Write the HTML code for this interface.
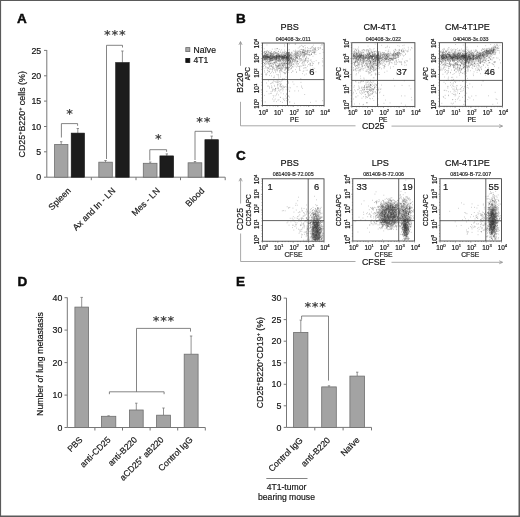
<!DOCTYPE html>
<html lang="en"><head><meta charset="utf-8"><title>Figure</title>
<style>
html,body{margin:0;padding:0;background:#fff;}
body{width:520px;height:517px;overflow:hidden;}
svg{display:block;font-family:"Liberation Sans", Arial, Helvetica, sans-serif;}
.t{fill:#141414;stroke:#141414;stroke-width:.18;}
.ax{stroke:#777;stroke-width:1;fill:none;}
.br{stroke:#666;stroke-width:.8;fill:none;}
.eb{stroke:#777;stroke-width:.8;fill:none;}
.g{fill:#a3a3a3;stroke:#6e6e6e;stroke-width:.8;}
.k{fill:#1c1c1c;stroke:#111;stroke-width:.6;}
.bx{stroke:#3a3a3a;stroke-width:.85;fill:none;}
.ql{stroke:#3a3a3a;stroke-width:.8;fill:none;}
.ar{stroke:#8c8c8c;stroke-width:.75;fill:none;}
.pl{font-weight:bold;font-size:13.5px;fill:#0a0a0a;stroke:#0a0a0a;stroke-width:.45;}
.st{fill:#444;letter-spacing:.76px;font-family:"DejaVu Sans","Liberation Sans",sans-serif;font-weight:bold;}
</style></head><body>
<svg width="520" height="517" viewBox="0 0 520 517">
<rect x="0" y="0" width="520" height="517" fill="#fff"/>
<defs><filter id="bl" x="-50%" y="-50%" width="200%" height="200%"><feGaussianBlur stdDeviation="1.3"/></filter></defs>

<text x="17.0" y="23.2" font-size="8.5" text-anchor="start" class="pl">A</text>
<path class="ax" d="M46.8 50V177.2H225.2"/>
<path class="ax" d="M44.0 177.2L46.8 177.2"/>
<text x="41.2" y="180.3" font-size="8.8" text-anchor="end" class="t">0</text>
<path class="ax" d="M44.0 151.8L46.8 151.8"/>
<text x="41.2" y="154.9" font-size="8.8" text-anchor="end" class="t">5</text>
<path class="ax" d="M44.0 126.5L46.8 126.5"/>
<text x="41.2" y="129.6" font-size="8.8" text-anchor="end" class="t">10</text>
<path class="ax" d="M44.0 101.1L46.8 101.1"/>
<text x="41.2" y="104.2" font-size="8.8" text-anchor="end" class="t">15</text>
<path class="ax" d="M44.0 75.8L46.8 75.8"/>
<text x="41.2" y="78.9" font-size="8.8" text-anchor="end" class="t">20</text>
<path class="ax" d="M44.0 50.4L46.8 50.4"/>
<text x="41.2" y="53.5" font-size="8.8" text-anchor="end" class="t">25</text>
<path class="ax" d="M91.3 177.2L91.3 180.2"/>
<path class="ax" d="M136.0 177.2L136.0 180.2"/>
<path class="ax" d="M180.5 177.2L180.5 180.2"/>
<path class="ax" d="M225.2 177.2L225.2 180.2"/>
<path class="eb" d="M61.2 144.5V141.7M60.0 141.7h2.4"/>
<rect class="g" x="54.6" y="144.5" width="13.3" height="32.7"/>
<path class="eb" d="M77.8 133.1V128.5M76.6 128.5h2.4"/>
<rect class="k" x="71.2" y="133.1" width="13.3" height="44.1"/>
<path class="eb" d="M105.5 162.2V160.5M104.3 160.5h2.4"/>
<rect class="g" x="98.8" y="162.2" width="13.5" height="15.0"/>
<path class="eb" d="M122.4 62.6V51.0M121.2 51.0h2.4"/>
<rect class="k" x="115.7" y="62.6" width="13.5" height="114.6"/>
<path class="eb" d="M150.2 163.3V162.0M149.0 162.0h2.4"/>
<rect class="g" x="143.3" y="163.3" width="13.7" height="13.9"/>
<path class="eb" d="M166.8 155.9V153.9M165.6 153.9h2.4"/>
<rect class="k" x="159.9" y="155.9" width="13.7" height="21.3"/>
<path class="eb" d="M194.9 162.8V161.5M193.8 161.5h2.4"/>
<rect class="g" x="188.1" y="162.8" width="13.7" height="14.4"/>
<path class="eb" d="M211.7 139.7V136.1M210.5 136.1h2.4"/>
<rect class="k" x="204.9" y="139.7" width="13.5" height="37.5"/>
<path class="br" d="M61.4 137.5V123.6H77.6V125.8"/>
<path class="br" d="M106.5 159.0V45.3H122.5V47.5"/>
<path class="br" d="M149.8 160.5V149.7H166.6V151.8"/>
<path class="br" d="M195.0 160.0V131.3H211.9V133.5"/>
<text x="70.1" y="117.6" font-size="12.8" text-anchor="middle" class="st">*</text>
<text x="115.2" y="38.8" font-size="12.8" text-anchor="middle" class="st">***</text>
<text x="158.7" y="143.4" font-size="12.8" text-anchor="middle" class="st">*</text>
<text x="203.8" y="125.8" font-size="12.8" text-anchor="middle" class="st">**</text>
<rect x="185.8" y="47.6" width="4" height="4" fill="#a8a8a8" stroke="#6a6a6a" stroke-width=".8"/>
<rect x="185.8" y="58.5" width="4" height="4" fill="#111" stroke="#111" stroke-width=".8"/>
<text x="193.5" y="52.6" font-size="8.6" text-anchor="start" class="t">Naïve</text>
<text x="193.5" y="63.4" font-size="8.6" text-anchor="start" class="t">4T1</text>
<text transform="translate(25.3 157.5) rotate(-90)" font-size="8.9" text-anchor="start" class="t">CD25<tspan dy="-3" font-size="5.5">+</tspan><tspan dy="3">B220</tspan><tspan dy="-3" font-size="5.5">+</tspan><tspan dy="3"> cells (%)</tspan></text>
<text transform="translate(71.5 191.3) rotate(-45)" font-size="8.8" text-anchor="end" class="t">Spleen</text>
<text transform="translate(116.0 191.3) rotate(-45)" font-size="8.8" text-anchor="end" class="t">Ax and In - LN</text>
<text transform="translate(160.5 191.3) rotate(-45)" font-size="8.8" text-anchor="end" class="t">Mes - LN</text>
<text transform="translate(205.0 191.3) rotate(-45)" font-size="8.8" text-anchor="end" class="t">Blood</text>
<text x="17.5" y="285.7" font-size="8.5" text-anchor="start" class="pl">D</text>
<path class="ax" d="M67.3 297.5V427.5H205.3"/>
<path class="ax" d="M64.5 427.5L67.3 427.5"/>
<text x="62.3" y="430.6" font-size="8.8" text-anchor="end" class="t">0</text>
<path class="ax" d="M64.5 395.1L67.3 395.1"/>
<text x="62.3" y="398.2" font-size="8.8" text-anchor="end" class="t">10</text>
<path class="ax" d="M64.5 362.6L67.3 362.6"/>
<text x="62.3" y="365.7" font-size="8.8" text-anchor="end" class="t">20</text>
<path class="ax" d="M64.5 330.1L67.3 330.1"/>
<text x="62.3" y="333.2" font-size="8.8" text-anchor="end" class="t">30</text>
<path class="ax" d="M64.5 297.7L67.3 297.7"/>
<text x="62.3" y="300.8" font-size="8.8" text-anchor="end" class="t">40</text>
<path class="ax" d="M94.9 427.5L94.9 430.5"/>
<path class="ax" d="M122.5 427.5L122.5 430.5"/>
<path class="ax" d="M150.1 427.5L150.1 430.5"/>
<path class="ax" d="M177.7 427.5L177.7 430.5"/>
<path class="ax" d="M205.3 427.5L205.3 430.5"/>
<path class="eb" d="M81.7 307.1V297.4M80.5 297.4h2.4"/>
<rect class="g" x="74.9" y="307.1" width="13.6" height="120.4"/>
<path class="eb" d="M108.6 416.3V415.8M107.4 415.8h2.4"/>
<rect class="g" x="101.4" y="416.3" width="14.4" height="11.2"/>
<path class="eb" d="M136.3 410.0V403.2M135.1 403.2h2.4"/>
<rect class="g" x="129.4" y="410.0" width="13.8" height="17.5"/>
<path class="eb" d="M163.5 415.2V408.0M162.3 408.0h2.4"/>
<rect class="g" x="156.6" y="415.2" width="13.8" height="12.3"/>
<path class="eb" d="M191.1 354.2V336.0M189.9 336.0h2.4"/>
<rect class="g" x="184.2" y="354.2" width="13.9" height="73.3"/>
<path class="br" d="M109.4 394.2V391.8H164.1V394.2M136.5 391.8V328.4H190.5V331.6"/>
<text x="163.9" y="324.7" font-size="12.8" text-anchor="middle" class="st">***</text>
<text transform="translate(43.2 415.9) rotate(-90)" font-size="8.72" text-anchor="start" class="t">Number of lung metastasis</text>
<text transform="translate(83.2 440.3) rotate(-45)" font-size="8.7" text-anchor="end" class="t">PBS</text>
<text transform="translate(111.2 440.3) rotate(-45)" font-size="8.7" text-anchor="end" class="t">anti-CD25</text>
<text transform="translate(137.7 440.3) rotate(-45)" font-size="8.7" text-anchor="end" class="t">anti-B220</text>
<text transform="translate(164.2 440.3) rotate(-45)" font-size="8.7" text-anchor="end" class="t">aCD25<tspan dy="-3" font-size="5.5">+</tspan><tspan dy="3"> aB220</tspan></text>
<text transform="translate(193.2 440.3) rotate(-45)" font-size="8.7" text-anchor="end" class="t">Control IgG</text>
<text x="236.0" y="285.7" font-size="8.5" text-anchor="start" class="pl">E</text>
<path class="ax" d="M286.5 298V427.4H371.5"/>
<path class="ax" d="M283.7 427.4L286.5 427.4"/>
<text x="281.4" y="430.5" font-size="8.9" text-anchor="end" class="t">0</text>
<path class="ax" d="M283.7 405.8L286.5 405.8"/>
<text x="281.4" y="408.9" font-size="8.9" text-anchor="end" class="t">5</text>
<path class="ax" d="M283.7 384.3L286.5 384.3"/>
<text x="281.4" y="387.4" font-size="8.9" text-anchor="end" class="t">10</text>
<path class="ax" d="M283.7 362.8L286.5 362.8"/>
<text x="281.4" y="365.9" font-size="8.9" text-anchor="end" class="t">15</text>
<path class="ax" d="M283.7 341.2L286.5 341.2"/>
<text x="281.4" y="344.3" font-size="8.9" text-anchor="end" class="t">20</text>
<path class="ax" d="M283.7 319.6L286.5 319.6"/>
<text x="281.4" y="322.8" font-size="8.9" text-anchor="end" class="t">25</text>
<path class="ax" d="M283.7 298.1L286.5 298.1"/>
<text x="281.4" y="301.2" font-size="8.9" text-anchor="end" class="t">30</text>
<path class="ax" d="M314.8 427.4L314.8 430.4"/>
<path class="ax" d="M343.1 427.4L343.1 430.4"/>
<path class="ax" d="M371.5 427.4L371.5 430.4"/>
<path class="eb" d="M300.8 332.4V320.1M299.6 320.1h2.4"/>
<rect class="g" x="293.6" y="332.4" width="14.3" height="95.0"/>
<path class="eb" d="M329.0 386.9V385.8M327.8 385.8h2.4"/>
<rect class="g" x="321.7" y="386.9" width="14.6" height="40.5"/>
<path class="eb" d="M357.2 376.1V372.2M356.0 372.2h2.4"/>
<rect class="g" x="349.9" y="376.1" width="14.6" height="51.3"/>
<path class="br" d="M301.6 319.5V316H328.5V380.6"/>
<text x="315.6" y="310.5" font-size="12.8" text-anchor="middle" class="st">***</text>
<text transform="translate(262.6 408.3) rotate(-90)" font-size="8.8" text-anchor="start" class="t">CD25<tspan dy="-3" font-size="5.5">+</tspan><tspan dy="3">B220</tspan><tspan dy="-3" font-size="5.5">+</tspan><tspan dy="3">CD19</tspan><tspan dy="-3" font-size="5.5">+</tspan><tspan dy="3"> (%)</tspan></text>
<text transform="translate(303.3 440.9) rotate(-45)" font-size="8.7" text-anchor="end" class="t">Control IgG</text>
<text transform="translate(330.8 440.9) rotate(-45)" font-size="8.7" text-anchor="end" class="t">anti-B220</text>
<text transform="translate(360.2 440.6) rotate(-45)" font-size="8.7" text-anchor="end" class="t">Naïve</text>
<path class="br" d="M266.3 478.5L307.5 478.5"/>
<text x="286.5" y="489.8" font-size="8.6" text-anchor="middle" class="t">4T1-tumor</text>
<text x="286.5" y="500.2" font-size="8.6" text-anchor="middle" class="t">bearing mouse</text>
<text x="236.0" y="23.2" font-size="8.5" text-anchor="start" class="pl">B</text>
<path d="M278.7 55.6h.7M285.7 58.3h.7M282.6 57.1h.7M268.3 57.6h.7M270.2 58.5h.7M285.1 55.2h.7M283.8 57.5h.7M283.1 57.8h.7M274.6 56.8h.7M270.3 58.5h.7M269.6 57.6h.7M269.0 55.8h.7M274.0 56.2h.7M275.5 58.3h.7M276.8 57.9h.7M288.3 55.0h.7M283.0 58.9h.7M278.6 58.0h.7M288.1 58.9h.7M268.0 56.8h.7M266.6 56.9h.7M278.3 55.9h.7M263.5 60.3h.7M263.3 57.1h.7M275.8 59.2h.7M274.5 56.5h.7M286.2 57.5h.7M278.8 55.3h.7M275.8 56.8h.7M275.3 58.5h.7M268.8 55.8h.7M267.4 57.7h.7M280.4 56.0h.7M267.6 56.7h.7M272.0 56.7h.7M284.0 56.7h.7M266.4 56.3h.7M269.4 56.9h.7M285.3 56.1h.7M275.7 55.8h.7M284.4 57.2h.7M279.0 58.4h.7M281.7 55.5h.7M264.8 57.3h.7M276.5 56.5h.7M275.6 56.1h.7M285.1 58.3h.7M271.8 56.7h.7M278.0 59.1h.7M263.9 56.4h.7M272.5 57.8h.7M270.8 57.0h.7M266.3 56.4h.7M283.6 58.0h.7M272.3 57.1h.7M287.8 58.0h.7M277.7 57.2h.7M278.1 56.0h.7M279.0 57.2h.7M280.0 57.4h.7M266.3 58.5h.7M273.8 56.2h.7M268.6 57.3h.7M272.9 55.2h.7M264.9 58.1h.7M287.6 56.0h.7M268.0 55.1h.7M279.9 57.2h.7M270.2 58.6h.7M285.1 55.5h.7M279.6 56.0h.7M265.8 56.4h.7M284.4 55.9h.7M287.0 57.8h.7M285.9 56.3h.7M277.2 56.4h.7M266.2 58.0h.7M267.4 56.4h.7M286.5 57.8h.7M276.8 56.1h.7M267.1 55.8h.7M285.4 55.1h.7M279.1 59.5h.7M277.2 56.9h.7M272.2 57.6h.7M273.1 57.3h.7M268.6 57.5h.7M263.4 57.4h.7M285.2 59.6h.7M274.6 56.1h.7M276.6 55.4h.7M270.8 56.1h.7M281.9 55.7h.7M263.1 58.2h.7M272.1 58.3h.7M263.2 56.1h.7M265.6 55.6h.7M287.5 56.9h.7M279.5 59.0h.7M273.5 53.9h.7M276.0 57.9h.7M285.1 56.0h.7M271.3 58.5h.7M277.7 56.0h.7M280.2 57.0h.7M271.6 55.5h.7M275.9 56.1h.7M282.3 59.0h.7M286.0 58.3h.7M266.3 56.8h.7M286.7 56.3h.7M282.0 56.8h.7M283.5 57.3h.7M266.0 57.2h.7M273.3 57.2h.7M283.6 56.0h.7M278.7 57.3h.7M283.0 58.8h.7M275.7 59.5h.7M281.3 57.1h.7M268.3 56.4h.7M267.6 57.2h.7M271.8 56.6h.7M267.1 56.4h.7M271.4 57.2h.7M287.1 56.0h.7M277.3 58.0h.7M271.2 57.2h.7M269.5 57.6h.7M287.2 57.1h.7M274.0 56.4h.7M287.9 56.2h.7M275.8 57.0h.7M276.0 56.6h.7M285.7 57.6h.7M281.7 57.3h.7M277.5 55.7h.7M273.5 57.4h.7M285.2 55.7h.7M273.1 56.6h.7M286.4 56.9h.7M264.2 54.8h.7M273.6 57.4h.7M275.9 57.5h.7M287.1 57.1h.7M268.9 56.8h.7M283.4 56.9h.7M280.0 56.1h.7M281.0 57.0h.7M278.8 56.6h.7M287.7 57.4h.7M271.0 55.9h.7M272.8 57.6h.7M267.7 57.5h.7M263.7 57.1h.7M267.9 56.8h.7M286.2 58.0h.7M284.2 55.3h.7M265.3 57.9h.7M278.1 57.6h.7M274.9 57.6h.7M277.9 57.8h.7M279.5 56.5h.7M270.4 57.0h.7M287.4 58.1h.7M274.5 57.8h.7M278.7 57.5h.7M278.9 55.5h.7M267.2 57.9h.7M264.0 58.7h.7M273.1 58.5h.7M282.3 57.6h.7M283.6 55.4h.7M281.4 58.4h.7M265.3 57.1h.7M286.1 54.3h.7M283.3 57.8h.7M285.2 55.5h.7M276.0 55.7h.7M286.2 56.5h.7M263.6 58.8h.7M263.2 56.9h.7M269.0 59.4h.7M268.9 59.2h.7M267.3 57.2h.7M277.1 57.0h.7M263.4 55.8h.7M277.8 56.5h.7M266.7 57.8h.7M280.0 57.8h.7M270.5 58.5h.7M286.8 56.4h.7M276.4 57.2h.7M283.5 58.2h.7M279.5 58.0h.7M278.3 58.6h.7M267.4 57.8h.7M277.3 56.9h.7M263.4 57.7h.7M283.2 56.1h.7M287.4 55.3h.7M284.6 58.0h.7M263.7 57.2h.7M271.2 57.7h.7M270.7 55.3h.7M265.3 56.9h.7M278.7 56.6h.7M283.1 56.3h.7M270.6 54.6h.7M284.8 56.9h.7M283.1 58.4h.7M265.8 57.8h.7M282.3 56.6h.7M285.3 57.3h.7M267.5 58.2h.7M277.3 54.0h.7M279.0 57.2h.7M278.2 58.0h.7M264.9 58.1h.7M279.6 59.3h.7M278.8 58.7h.7M283.8 57.7h.7M283.3 57.7h.7M270.9 58.2h.7M281.2 56.7h.7M284.9 57.3h.7M285.6 58.4h.7M266.6 59.6h.7M263.1 57.1h.7M279.3 57.2h.7M268.0 57.5h.7M277.1 58.9h.7M287.0 57.3h.7M272.3 59.1h.7M269.0 56.1h.7M274.3 57.1h.7M279.5 57.1h.7M265.0 58.2h.7M272.3 58.6h.7M265.9 55.5h.7M279.6 56.2h.7M284.0 57.7h.7M272.2 56.5h.7M272.1 55.5h.7M276.4 58.5h.7M268.0 57.9h.7M268.8 57.9h.7M271.0 56.7h.7M274.3 58.5h.7M264.5 57.0h.7M282.0 58.6h.7M277.5 56.2h.7M270.2 56.3h.7M264.4 57.5h.7M282.2 56.5h.7M265.8 58.1h.7M265.9 57.6h.7M265.8 56.2h.7M264.5 57.4h.7M286.0 56.9h.7M269.4 58.4h.7M270.4 56.5h.7M284.1 56.8h.7M278.5 58.8h.7M267.3 60.0h.7M273.7 59.7h.7M285.4 57.4h.7M272.2 57.6h.7M280.9 59.1h.7M264.9 57.2h.7M281.3 56.1h.7M282.6 57.4h.7M283.9 57.8h.7M279.9 56.3h.7M272.0 55.3h.7M264.1 55.6h.7M275.9 58.1h.7M282.1 56.4h.7M267.4 57.1h.7M269.3 57.6h.7M276.3 58.0h.7M281.9 56.9h.7M285.7 57.9h.7M265.7 56.2h.7M267.2 56.9h.7M283.2 56.1h.7M279.2 58.7h.7M281.1 57.3h.7M288.3 56.4h.7M286.8 56.9h.7M284.3 57.0h.7M282.6 58.1h.7M272.7 55.4h.7M279.1 56.1h.7M267.2 56.8h.7M282.1 60.3h.7M282.1 58.4h.7M281.2 57.2h.7M274.0 58.2h.7M272.2 59.8h.7M273.3 57.0h.7M263.3 56.9h.7M284.4 58.8h.7M276.5 57.9h.7M272.5 58.1h.7M276.6 56.7h.7M281.2 59.6h.7M272.3 59.4h.7M284.0 58.0h.7M286.3 58.1h.7M272.5 54.9h.7M266.0 58.1h.7M282.2 57.1h.7M288.2 57.8h.7M266.2 58.1h.7M280.9 56.9h.7M283.9 55.3h.7M286.3 57.7h.7M265.6 56.4h.7M264.8 56.9h.7M288.1 56.6h.7M265.4 56.9h.7M267.0 54.5h.7M277.3 58.8h.7M274.0 57.6h.7M281.9 58.6h.7M267.4 59.7h.7M286.2 57.3h.7M268.0 55.1h.7M282.4 56.2h.7M264.2 55.9h.7M274.7 56.7h.7M263.2 57.4h.7M270.6 54.9h.7M270.5 57.7h.7M281.1 55.5h.7M274.2 57.7h.7M263.9 57.2h.7M288.3 56.9h.7M285.5 57.2h.7M286.2 56.7h.7M268.8 56.6h.7M272.6 55.3h.7M268.3 57.3h.7M265.6 59.5h.7M263.3 59.7h.7M275.5 58.9h.7M265.6 58.1h.7M267.0 56.5h.7M284.8 59.0h.7M275.0 57.2h.7M267.2 57.2h.7M279.8 57.0h.7M269.3 57.4h.7M276.1 56.8h.7M269.8 57.2h.7M275.8 56.0h.7M278.7 56.9h.7M276.3 60.0h.7M272.7 57.2h.7M283.0 57.0h.7M285.1 57.9h.7M267.1 58.1h.7M265.9 56.0h.7M265.3 57.1h.7M287.9 58.4h.7M286.9 57.6h.7M268.4 57.4h.7M287.6 59.2h.7M267.8 56.5h.7M275.6 57.4h.7M275.3 56.7h.7M286.2 59.1h.7M263.5 55.0h.7M270.6 56.5h.7M278.0 56.7h.7M264.1 58.1h.7M268.6 58.0h.7M274.5 59.0h.7M285.3 55.4h.7M282.2 58.2h.7M284.0 56.9h.7M282.2 56.5h.7M280.8 57.9h.7M284.5 56.2h.7M280.1 54.8h.7M281.5 56.9h.7M270.2 55.5h.7M266.8 56.5h.7M282.1 57.7h.7M266.7 57.7h.7M286.3 59.2h.7M277.9 57.1h.7M274.6 57.1h.7M287.9 55.3h.7M287.9 57.6h.7M272.5 60.7h.7M287.8 55.9h.7M273.4 52.0h.7M272.5 53.7h.7M282.8 52.1h.7M275.1 52.8h.7M274.5 59.5h.7M272.8 56.6h.7M274.1 51.9h.7M266.2 57.8h.7M264.0 59.4h.7M282.8 55.0h.7M277.6 54.2h.7M280.5 55.1h.7M284.1 56.8h.7M268.6 57.7h.7M268.7 59.2h.7M269.9 59.3h.7M270.6 59.2h.7M282.9 59.7h.7M272.5 57.8h.7M271.1 51.9h.7M279.6 55.6h.7M267.4 56.8h.7M265.3 55.0h.7M281.2 58.5h.7M282.8 55.0h.7M270.4 53.5h.7M279.6 59.9h.7M263.3 57.8h.7M273.3 56.6h.7M278.0 58.5h.7M269.2 58.9h.7M271.8 56.9h.7M278.9 49.4h.7M278.3 54.2h.7M266.6 54.8h.7M281.5 53.3h.7M264.6 56.5h.7M288.6 59.2h.7M267.9 54.7h.7M269.2 52.9h.7M267.8 61.5h.7M289.2 54.8h.7M270.1 52.7h.7M278.7 56.6h.7M289.1 57.1h.7M288.1 54.1h.7M263.5 58.1h.7M276.5 54.7h.7M278.6 53.5h.7M281.4 56.5h.7M271.5 58.1h.7M271.3 54.3h.7M263.4 55.7h.7M277.3 63.6h.7M264.4 54.1h.7M267.9 59.7h.7M271.4 55.9h.7M264.3 55.7h.7M263.2 57.9h.7M287.4 58.4h.7M274.2 59.4h.7M267.9 56.9h.7M281.5 54.4h.7M269.0 57.4h.7M288.3 57.6h.7M286.6 59.8h.7M279.6 57.1h.7M264.9 58.9h.7M271.0 60.1h.7M263.2 56.4h.7M268.3 52.0h.7M263.1 52.8h.7M265.8 52.1h.7M279.5 60.3h.7M265.1 53.7h.7M266.6 59.3h.7M286.8 57.6h.7M271.5 60.6h.7M271.4 58.7h.7M264.7 55.7h.7M283.9 55.5h.7M280.7 56.2h.7M277.2 56.5h.7M279.1 54.6h.7M265.1 55.9h.7M269.4 60.3h.7M278.2 51.4h.7M288.1 56.7h.7M284.5 53.6h.7M279.7 56.5h.7M276.4 58.3h.7M286.4 58.1h.7M264.2 51.7h.7M265.9 59.0h.7M281.1 54.4h.7M284.3 57.7h.7M283.6 56.5h.7M274.6 49.0h.7M267.2 54.0h.7M263.4 56.6h.7M285.4 60.2h.7M288.8 56.8h.7M269.0 56.7h.7M285.8 52.2h.7M273.3 59.9h.7M270.8 60.9h.7M276.0 56.1h.7M274.4 51.6h.7M267.8 58.4h.7M281.6 63.3h.7M276.0 57.9h.7M285.9 59.4h.7M286.6 57.5h.7M271.0 53.3h.7M270.0 59.6h.7M287.8 52.7h.7M276.0 55.4h.7M265.0 56.8h.7M263.6 58.4h.7M289.1 57.1h.7M278.0 57.0h.7M263.9 53.9h.7M276.2 52.5h.7M276.0 56.2h.7M274.2 54.1h.7M288.1 52.5h.7M288.0 52.6h.7M265.8 54.7h.7M266.5 51.0h.7M273.4 52.4h.7M284.9 51.6h.7M279.2 56.5h.7M282.1 57.1h.7M278.0 61.4h.7M268.1 52.0h.7M284.5 54.2h.7M281.3 55.4h.7M267.6 55.1h.7M275.1 60.6h.7M288.7 55.1h.7M277.0 52.9h.7M263.9 52.4h.7M274.0 56.9h.7M280.2 56.8h.7M263.9 52.3h.7M269.2 53.3h.7M277.0 57.6h.7M272.7 54.3h.7M276.0 57.7h.7M270.4 57.5h.7M280.1 51.2h.7M267.1 55.2h.7M286.9 57.1h.7M288.3 54.5h.7M275.7 50.2h.7M275.0 55.2h.7M285.6 58.0h.7M270.2 60.3h.7M284.1 50.1h.7M270.2 63.1h.7M281.8 53.0h.7M271.4 58.6h.7M278.7 59.3h.7M287.4 58.7h.7M263.9 56.4h.7M284.2 52.9h.7M277.0 57.7h.7M272.6 54.1h.7M271.9 49.2h.7M264.3 63.6h.7M269.4 57.9h.7M279.2 60.9h.7M265.0 53.5h.7M280.5 60.0h.7M288.4 60.3h.7M288.9 60.2h.7M286.4 55.9h.7M284.2 52.8h.7M267.2 55.5h.7M288.6 50.1h.7M267.9 51.4h.7M285.9 56.2h.7M286.1 53.3h.7M279.2 55.6h.7M276.5 55.7h.7M267.8 61.2h.7M276.4 59.5h.7M270.2 55.9h.7M265.8 59.3h.7M265.9 53.9h.7M284.0 55.1h.7M287.3 58.5h.7M266.2 52.6h.7M269.5 52.4h.7M266.0 56.3h.7M267.5 60.4h.7M278.1 54.0h.7M273.8 56.6h.7M274.0 53.6h.7M268.0 52.9h.7M280.3 52.7h.7M270.2 59.9h.7M273.2 62.4h.7M274.9 57.3h.7M286.8 54.1h.7M269.1 57.9h.7M281.8 55.1h.7M270.8 58.2h.7M286.5 56.8h.7M273.0 56.8h.7M276.0 57.6h.7M286.1 54.4h.7M280.6 54.9h.7M264.9 51.4h.7M266.1 54.8h.7M289.1 52.2h.7M263.2 55.6h.7M270.5 53.4h.7M288.3 56.3h.7M266.8 52.2h.7M268.2 53.8h.7M264.7 53.5h.7M275.1 58.0h.7M278.4 60.6h.7M271.0 58.3h.7M265.3 55.1h.7M284.3 60.0h.7M284.1 51.9h.7M277.6 60.0h.7M266.1 54.2h.7M277.0 48.5h.7M279.4 63.2h.7M274.0 60.3h.7M285.7 53.2h.7M272.9 56.5h.7M276.2 55.4h.7M265.5 56.3h.7M277.6 52.0h.7M283.1 54.2h.7M282.1 57.3h.7M269.3 56.6h.7M289.2 59.2h.7M281.8 56.2h.7M273.8 62.3h.7M273.6 54.1h.7M283.4 56.7h.7M267.1 50.8h.7M279.7 52.6h.7M281.8 59.6h.7M276.3 53.5h.7M286.0 57.4h.7M275.1 55.8h.7M275.0 53.2h.7M270.1 55.1h.7M287.2 54.6h.7M270.9 54.7h.7M281.2 58.0h.7M273.5 57.8h.7M287.7 54.4h.7M288.0 53.6h.7M263.2 56.8h.7M289.3 55.7h.7M278.7 58.8h.7M264.4 63.2h.7M275.8 58.3h.7M263.7 55.9h.7M277.2 55.5h.7M267.4 53.7h.7M272.3 53.6h.7M270.6 53.3h.7M278.7 54.9h.7M284.6 54.8h.7M287.7 58.0h.7M271.3 54.9h.7M277.8 55.5h.7M272.4 60.4h.7M288.3 57.4h.7M265.6 60.8h.7M285.9 58.2h.7M280.0 60.0h.7M270.3 55.3h.7M283.4 57.9h.7M270.2 63.3h.7M286.6 52.7h.7M264.6 59.2h.7M265.6 60.6h.7M282.7 57.1h.7M274.5 58.1h.7M266.4 59.5h.7M276.3 54.2h.7M270.4 57.1h.7M277.2 53.6h.7M282.5 54.1h.7M285.5 54.3h.7M264.0 55.6h.7M278.4 56.4h.7M289.0 57.3h.7M274.8 52.1h.7M283.2 61.5h.7M265.0 59.2h.7M286.0 58.0h.7M278.1 55.0h.7M286.4 55.8h.7M283.7 57.5h.7M285.9 57.1h.7M263.9 51.4h.7M281.7 58.1h.7M267.7 64.1h.7M269.6 50.9h.7M271.2 58.8h.7M278.4 57.0h.7M279.4 55.7h.7M287.5 59.8h.7M267.6 56.5h.7M272.2 60.1h.7M284.5 55.5h.7M277.2 54.8h.7M276.2 56.3h.7M282.9 54.8h.7M280.1 60.3h.7M270.2 53.5h.7M264.8 58.4h.7M274.9 52.5h.7M286.2 57.9h.7M278.5 55.7h.7M263.8 48.8h.7M274.3 56.0h.7M272.8 53.0h.7M278.1 54.8h.7M278.3 60.3h.7M288.1 52.9h.7M271.5 53.1h.7M273.4 60.0h.7M279.0 56.3h.7M286.3 60.3h.7M281.5 56.9h.7M275.1 53.6h.7M284.4 55.8h.7M275.5 59.4h.7M288.4 58.6h.7M270.0 56.0h.7M265.8 56.1h.7M284.8 55.7h.7M270.4 54.4h.7M285.3 61.4h.7M278.9 56.0h.7M276.1 52.9h.7M264.7 54.7h.7M283.6 58.0h.7M264.2 57.8h.7M288.5 55.6h.7M286.1 54.1h.7M270.6 56.1h.7M265.9 51.4h.7M286.3 52.4h.7M275.4 58.2h.7M265.8 54.7h.7M275.9 57.0h.7M269.1 59.4h.7M273.4 57.8h.7M279.7 56.1h.7M287.1 61.9h.7M284.0 57.9h.7M266.7 55.0h.7M275.3 58.0h.7M275.7 57.1h.7M289.1 53.6h.7M264.7 56.2h.7M276.2 55.5h.7M287.1 50.5h.7M273.2 55.5h.7M269.5 55.2h.7M277.4 54.8h.7M271.0 51.4h.7M287.4 55.0h.7M264.7 55.9h.7M268.0 56.3h.7M264.7 52.8h.7M281.6 57.8h.7M270.3 52.6h.7M286.7 55.4h.7M286.5 59.6h.7M287.7 54.1h.7M269.3 54.6h.7M272.9 54.9h.7M288.4 55.2h.7M283.0 56.6h.7M264.0 58.9h.7M281.4 49.9h.7M287.2 53.7h.7M288.5 53.2h.7M281.7 53.0h.7M285.7 53.6h.7M285.1 53.7h.7M272.1 56.8h.7M265.1 53.5h.7M282.0 56.3h.7M266.1 57.1h.7M272.8 54.0h.7M289.3 56.4h.7M277.5 60.5h.7M276.5 56.9h.7M288.0 54.2h.7M270.1 55.8h.7M289.4 53.5h.7M287.0 56.7h.7M272.2 58.4h.7M271.2 53.7h.7M265.8 55.4h.7M287.1 59.1h.7M267.4 54.6h.7M286.4 53.2h.7M278.5 53.7h.7M274.1 70.2h.7M272.9 58.5h.7M267.1 67.9h.7M280.9 67.4h.7M284.3 65.2h.7M283.7 63.4h.7M281.3 58.8h.7M268.8 64.4h.7M276.8 60.8h.7M282.1 58.6h.7M273.2 64.5h.7M275.0 71.4h.7M285.9 63.2h.7M263.1 66.6h.7M269.9 58.3h.7M270.5 63.7h.7M290.2 61.9h.7M268.8 72.0h.7M263.7 68.6h.7M274.1 62.3h.7M280.6 59.0h.7M266.7 67.9h.7M285.9 60.2h.7M267.9 59.4h.7M282.1 78.6h.7M266.9 59.0h.7M287.1 74.0h.7M268.0 63.3h.7M282.9 59.1h.7M285.9 67.7h.7M269.5 64.8h.7M265.0 61.0h.7M278.8 60.9h.7M276.4 59.5h.7M275.8 65.0h.7M284.3 64.2h.7M275.4 62.3h.7M276.3 62.0h.7M276.0 68.6h.7M275.1 64.2h.7M273.8 63.2h.7M266.9 70.4h.7M270.7 58.8h.7M269.8 63.7h.7M269.3 61.1h.7M284.3 60.1h.7M265.6 66.7h.7M268.2 68.1h.7M277.1 66.6h.7M271.2 60.1h.7M269.1 71.5h.7M272.9 66.1h.7M276.5 65.6h.7M281.3 71.1h.7M289.6 60.5h.7M286.3 67.7h.7M274.4 62.9h.7M275.0 59.7h.7M274.0 58.3h.7M269.1 61.5h.7M289.0 69.8h.7M264.3 65.4h.7M268.1 68.2h.7M280.9 66.9h.7M278.9 68.5h.7M270.2 60.9h.7M288.6 63.2h.7M273.9 76.1h.7M279.1 64.4h.7M264.9 59.5h.7M287.3 61.9h.7M265.3 74.2h.7M273.4 59.3h.7M287.2 64.0h.7M288.9 59.1h.7M287.7 66.1h.7M285.6 64.0h.7M268.9 61.2h.7M263.3 62.5h.7M275.1 61.7h.7M264.2 70.8h.7M289.3 64.7h.7M271.5 62.3h.7M268.1 61.9h.7M276.4 58.4h.7M264.5 72.2h.7M287.6 65.4h.7M281.7 60.2h.7M272.8 68.6h.7M286.0 60.9h.7M284.7 62.2h.7M271.5 69.2h.7M286.1 63.3h.7M288.4 58.3h.7M279.8 61.0h.7M272.2 63.8h.7M287.6 67.2h.7M288.8 58.8h.7M272.1 71.3h.7M264.8 59.1h.7M286.7 58.5h.7M281.0 63.2h.7M268.9 65.9h.7M278.3 68.7h.7M271.0 72.3h.7M288.1 68.4h.7M272.0 70.0h.7M267.9 62.8h.7M263.6 61.0h.7M272.0 67.0h.7M290.1 66.1h.7M268.5 71.3h.7M275.2 65.3h.7M289.6 60.5h.7M270.7 60.8h.7M285.4 73.3h.7M265.1 62.6h.7M288.4 62.4h.7M285.8 67.7h.7M266.4 74.0h.7M279.0 63.8h.7M278.0 74.9h.7M281.8 59.2h.7M271.0 59.3h.7M273.2 72.7h.7M269.1 60.8h.7M270.6 58.4h.7M267.3 62.8h.7M287.7 70.2h.7M287.2 58.8h.7M272.5 66.1h.7M281.8 62.2h.7M276.1 60.5h.7M270.3 58.9h.7M272.2 58.5h.7M289.4 65.2h.7M272.0 67.4h.7M278.6 68.7h.7M288.9 67.1h.7M270.7 65.5h.7M285.1 59.0h.7M265.6 64.0h.7M282.9 60.0h.7M285.0 61.8h.7M285.8 63.9h.7M289.7 60.5h.7M282.3 65.7h.7M289.8 62.5h.7M270.2 60.1h.7M277.0 70.1h.7M268.4 64.0h.7M264.7 59.4h.7M274.7 61.4h.7M282.6 67.0h.7M284.2 63.5h.7M288.8 58.6h.7M269.3 69.2h.7M270.6 66.3h.7M285.7 77.0h.7M287.4 62.2h.7M283.0 58.9h.7M271.7 60.2h.7M275.4 60.9h.7M285.8 63.1h.7M272.4 68.0h.7M284.9 65.7h.7M284.3 70.1h.7M275.5 65.3h.7M287.5 60.4h.7M273.2 67.0h.7M283.4 63.6h.7M280.3 65.3h.7M271.7 63.6h.7M277.3 61.8h.7M279.4 58.7h.7M277.4 66.9h.7M265.5 68.0h.7M290.2 61.8h.7M289.5 62.9h.7M263.4 62.5h.7M288.8 61.8h.7M277.3 69.7h.7M265.9 62.0h.7M285.4 64.7h.7M274.5 62.5h.7M282.4 71.7h.7M285.6 72.5h.7M277.5 67.9h.7M263.8 60.3h.7M285.4 60.4h.7M281.8 65.6h.7M287.9 72.3h.7M270.0 61.2h.7M284.4 63.5h.7M286.8 62.0h.7M272.3 69.3h.7M273.9 69.0h.7M271.8 60.3h.7M268.9 63.6h.7M271.7 64.2h.7M265.4 66.8h.7M283.8 62.4h.7M274.4 58.3h.7M278.3 59.6h.7M270.4 68.9h.7M272.5 60.3h.7M283.5 65.0h.7M275.6 59.5h.7M279.1 72.3h.7M274.2 63.0h.7M278.0 60.6h.7M287.5 70.5h.7M269.9 68.9h.7M276.9 71.0h.7M281.6 63.7h.7M264.8 64.0h.7M289.3 58.8h.7M276.4 63.0h.7M269.3 59.0h.7M283.7 68.8h.7M285.2 63.4h.7M280.1 60.9h.7M288.1 64.3h.7M264.9 64.9h.7M277.2 66.0h.7M283.2 66.8h.7M288.1 68.7h.7M280.4 68.9h.7M279.3 61.8h.7M273.3 77.6h.7M278.4 65.8h.7M277.9 65.4h.7M287.7 60.2h.7M285.6 66.6h.7M283.0 60.4h.7M288.3 60.0h.7M264.3 63.5h.7M283.9 72.8h.7M275.4 72.6h.7M283.5 61.2h.7M270.7 60.8h.7M275.5 62.6h.7M285.5 59.4h.7M263.4 64.9h.7M270.6 59.4h.7M276.1 61.4h.7M286.2 63.5h.7M270.0 73.5h.7M285.4 69.4h.7M269.2 75.4h.7M270.9 65.7h.7M277.9 65.9h.7M280.7 68.9h.7M287.0 59.2h.7M287.0 64.4h.7M269.4 62.7h.7M283.3 65.6h.7M280.2 64.3h.7M273.2 59.3h.7M284.1 72.6h.7M287.5 59.5h.7M275.8 59.0h.7M288.1 63.6h.7M266.0 63.7h.7M267.1 72.4h.7M283.8 67.4h.7M271.0 66.2h.7M278.8 64.4h.7M276.3 67.3h.7M266.5 74.1h.7M283.5 60.8h.7M283.2 63.7h.7M266.5 61.5h.7M269.7 66.3h.7M284.8 65.1h.7M287.9 69.2h.7M286.8 68.9h.7M276.5 58.8h.7M272.7 63.1h.7M274.9 63.9h.7M267.3 70.0h.7M276.3 66.2h.7M268.9 67.2h.7M266.9 61.1h.7M273.1 64.1h.7M264.2 59.1h.7M275.6 59.9h.7M281.9 65.7h.7M280.6 70.3h.7M289.7 65.4h.7M287.2 69.2h.7M280.1 73.0h.7M287.5 63.2h.7M274.8 67.2h.7M284.8 62.2h.7M270.4 58.9h.7M277.1 60.4h.7M289.8 66.4h.7M279.2 65.7h.7M276.6 59.0h.7M284.4 60.7h.7M271.1 66.3h.7M285.7 61.2h.7M269.1 66.0h.7M267.4 58.3h.7M269.6 60.6h.7M288.9 59.3h.7M263.1 59.6h.7M270.8 63.3h.7M278.5 61.3h.7M282.1 63.9h.7M284.1 63.1h.7M273.1 67.9h.7M268.6 71.0h.7M286.3 61.2h.7M265.8 61.4h.7M264.2 59.6h.7M268.9 61.7h.7M276.2 62.1h.7M288.8 64.2h.7M282.8 59.6h.7M278.2 67.0h.7M277.0 68.3h.7M285.4 69.1h.7M279.1 65.4h.7M284.7 70.4h.7M278.5 68.0h.7M285.9 65.8h.7M280.5 66.6h.7M278.2 65.2h.7M279.9 70.3h.7M278.3 65.9h.7M282.2 68.2h.7M282.1 65.4h.7M281.5 61.1h.7M279.2 70.6h.7M266.8 62.8h.7M281.8 69.7h.7M273.8 68.7h.7M282.4 60.4h.7M285.9 63.2h.7M282.5 64.9h.7M279.8 63.7h.7M280.7 62.3h.7M280.9 70.0h.7M279.2 66.0h.7M279.1 68.5h.7M277.7 65.3h.7M286.2 68.2h.7M281.3 64.0h.7M285.2 66.9h.7M280.4 69.3h.7M281.7 67.2h.7M280.7 65.2h.7M283.3 62.7h.7M284.7 67.7h.7M282.4 68.4h.7M278.7 66.0h.7M278.3 63.9h.7M288.0 69.2h.7M280.3 76.9h.7M280.2 65.8h.7M287.3 68.3h.7M285.8 68.5h.7M283.5 56.7h.7M279.8 67.5h.7M290.8 64.2h.7M283.0 72.5h.7M283.6 66.0h.7M280.7 63.9h.7M275.7 66.1h.7M276.1 67.7h.7M283.0 64.8h.7M283.0 66.8h.7M280.4 61.6h.7M276.7 66.1h.7M275.6 70.1h.7M280.1 74.9h.7M275.6 69.8h.7M285.0 68.1h.7M286.0 71.7h.7M292.7 71.1h.7M284.9 73.7h.7M279.0 71.3h.7M277.9 66.5h.7M267.6 68.0h.7M279.0 67.7h.7M280.7 68.2h.7M285.3 67.8h.7M283.8 63.9h.7M283.8 58.6h.7M282.3 64.3h.7M284.0 58.9h.7M287.2 67.3h.7M277.1 67.0h.7M279.6 60.3h.7M275.8 69.8h.7M287.9 70.5h.7M286.6 67.4h.7M284.4 73.7h.7M276.6 74.5h.7M282.1 62.2h.7M280.5 71.1h.7M281.7 68.8h.7M280.6 68.7h.7M296.6 53.5h.7M304.3 53.4h.7M312.9 47.8h.7M295.6 52.1h.7M314.6 49.1h.7M297.4 58.2h.7M303.5 53.7h.7M288.2 60.9h.7M291.7 56.3h.7M289.6 56.2h.7M311.3 47.2h.7M303.7 51.6h.7M314.2 54.0h.7M296.7 56.1h.7M312.8 52.5h.7M313.8 52.1h.7M307.9 51.9h.7M297.3 54.5h.7M287.5 57.3h.7M294.8 57.5h.7M295.5 56.8h.7M290.2 58.3h.7M296.8 55.6h.7M307.1 50.1h.7M309.7 50.7h.7M320.7 45.7h.7M292.8 59.0h.7M296.1 54.8h.7M297.4 61.4h.7M295.0 54.7h.7M303.4 50.2h.7M295.7 55.4h.7M310.9 54.5h.7M299.4 54.0h.7M294.1 57.6h.7M315.3 50.0h.7M294.2 54.9h.7M310.6 59.7h.7M298.3 54.9h.7M306.9 50.8h.7M304.9 51.5h.7M308.8 52.7h.7M303.2 54.4h.7M306.1 54.5h.7M291.4 57.1h.7M297.7 51.0h.7M312.4 52.1h.7M303.5 52.4h.7M302.7 52.7h.7M294.7 51.7h.7M291.0 55.3h.7M289.3 55.0h.7M299.7 54.2h.7M304.8 48.9h.7M311.2 51.1h.7M289.9 57.3h.7M302.0 50.6h.7M305.0 51.1h.7M294.4 53.5h.7M289.7 59.5h.7M303.0 46.5h.7M306.7 51.3h.7M295.7 51.0h.7M302.5 52.3h.7M296.8 57.4h.7M296.3 53.6h.7M307.1 52.5h.7M305.1 50.4h.7M289.3 62.2h.7M289.1 59.5h.7M293.2 59.2h.7M311.8 47.2h.7M288.1 54.0h.7M296.8 58.1h.7M300.0 53.7h.7M295.9 54.7h.7M287.5 57.9h.7M295.7 52.1h.7M299.6 56.4h.7M304.1 53.1h.7M288.6 58.3h.7M297.5 53.1h.7M288.4 58.4h.7M315.3 47.9h.7M305.5 55.2h.7M314.3 53.1h.7M307.0 54.6h.7M299.9 55.6h.7M290.7 58.6h.7M288.9 49.7h.7M299.3 56.7h.7M291.9 55.8h.7M293.2 56.5h.7M302.8 52.6h.7M297.5 51.2h.7M288.0 55.5h.7M304.9 54.6h.7M292.5 60.2h.7M297.0 53.4h.7M294.6 53.3h.7M309.6 55.4h.7M300.4 51.7h.7M292.1 62.1h.7M307.1 52.3h.7M290.1 54.6h.7M291.6 59.3h.7M292.0 61.1h.7M298.9 50.7h.7M299.2 58.7h.7M314.2 49.3h.7M290.3 61.0h.7M291.6 55.6h.7M312.3 46.4h.7M313.0 51.8h.7M314.4 52.5h.7M312.6 56.2h.7M315.6 54.4h.7M290.5 58.8h.7M295.4 54.9h.7M294.7 54.3h.7M307.6 51.2h.7M297.3 52.8h.7M312.5 49.8h.7M297.8 48.0h.7M318.0 49.5h.7M304.1 52.9h.7M308.3 58.7h.7M314.4 52.1h.7M290.8 55.6h.7M305.4 54.2h.7M289.6 53.7h.7M301.5 52.1h.7M305.2 47.7h.7M303.4 57.1h.7M300.2 55.7h.7M297.9 51.6h.7M295.5 55.4h.7M303.8 55.7h.7M293.5 57.4h.7M291.1 57.8h.7M289.5 54.7h.7M287.5 55.3h.7M290.2 57.3h.7M313.2 52.9h.7M298.9 52.3h.7M294.9 52.7h.7M296.8 58.2h.7M313.6 47.8h.7M288.1 59.9h.7M309.0 52.3h.7M296.4 57.7h.7M295.3 60.3h.7M312.3 52.5h.7M311.3 53.0h.7M299.5 51.9h.7M300.1 52.3h.7M322.0 49.6h.7M306.0 56.6h.7M294.3 59.6h.7M299.6 60.6h.7M302.4 54.4h.7M309.4 52.0h.7M291.3 59.5h.7M312.7 50.6h.7M289.6 56.8h.7M290.0 54.2h.7M296.1 58.0h.7M310.6 48.3h.7M291.2 58.2h.7M288.2 53.2h.7M311.1 54.0h.7M303.0 50.6h.7M304.2 55.3h.7M287.5 52.7h.7M293.1 55.0h.7M309.7 54.6h.7M290.5 57.2h.7M302.5 52.2h.7M302.9 47.2h.7M297.6 55.7h.7M297.7 56.1h.7M296.5 52.3h.7M291.3 58.3h.7M304.3 50.8h.7M300.3 51.4h.7M302.5 53.5h.7M291.6 54.8h.7M307.6 58.2h.7M291.0 52.6h.7M295.9 57.4h.7M297.3 57.7h.7M293.0 50.9h.7M307.1 47.5h.7M304.2 54.5h.7M301.8 52.4h.7M314.4 51.1h.7M311.0 54.1h.7M309.5 50.5h.7M291.4 53.8h.7M304.6 45.5h.7M298.6 55.2h.7M310.5 48.7h.7M289.5 57.8h.7M295.1 56.3h.7M302.6 49.7h.7M290.1 61.7h.7M303.5 56.1h.7M296.1 57.6h.7M299.5 51.2h.7M301.9 52.6h.7M317.9 47.6h.7M289.3 55.9h.7M295.7 52.4h.7M295.0 56.8h.7M296.8 55.8h.7M306.2 53.4h.7M297.6 53.5h.7M288.9 60.5h.7M297.8 55.4h.7M299.1 47.1h.7M289.4 55.3h.7M300.6 53.9h.7M294.8 58.3h.7M289.6 56.2h.7M320.2 47.7h.7M295.6 53.7h.7M298.5 56.4h.7M317.4 48.0h.7M290.2 55.4h.7M304.7 50.8h.7M306.6 53.8h.7M308.2 50.4h.7M289.4 52.5h.7M303.7 54.8h.7M301.7 51.8h.7M301.3 54.8h.7M316.6 50.4h.7M291.0 60.1h.7M303.9 55.9h.7M314.4 48.5h.7M292.8 55.8h.7M303.2 49.8h.7M289.4 61.5h.7M290.7 58.1h.7M304.1 56.8h.7M318.8 47.9h.7M295.1 50.1h.7M309.5 55.6h.7M310.2 51.5h.7M305.1 53.1h.7M301.1 54.0h.7M296.5 57.0h.7M289.9 58.4h.7M301.4 49.5h.7M308.4 54.7h.7M293.6 54.6h.7M289.0 55.7h.7M322.8 52.3h.7M308.5 54.2h.7M303.1 52.4h.7M287.7 52.0h.7M288.0 57.4h.7M307.2 53.6h.7M298.7 54.4h.7M307.8 48.6h.7M289.1 54.9h.7M291.2 57.4h.7M315.5 51.9h.7M307.7 54.8h.7M315.4 47.8h.7M291.9 57.2h.7M305.5 54.1h.7M295.0 54.3h.7M301.6 53.4h.7M301.2 59.6h.7M289.9 57.6h.7M314.6 52.4h.7M306.3 51.2h.7M318.4 49.0h.7M289.2 52.4h.7M320.3 48.3h.7M287.7 60.2h.7M305.5 58.3h.7M292.0 59.8h.7M290.8 58.7h.7M294.4 56.0h.7M312.8 48.9h.7M312.2 50.2h.7M299.6 56.0h.7M295.5 53.4h.7M288.9 59.5h.7M297.1 52.4h.7M299.8 49.5h.7M309.6 48.7h.7M301.4 49.3h.7M291.6 52.9h.7M309.1 54.6h.7M314.9 49.4h.7M306.0 53.1h.7M299.1 57.6h.7M287.8 60.4h.7M307.6 50.6h.7M311.3 54.5h.7M295.1 56.7h.7M314.7 50.0h.7M296.4 56.5h.7M302.7 49.6h.7M290.1 54.9h.7M296.6 54.9h.7M301.8 55.4h.7M314.9 48.9h.7M294.0 55.6h.7M299.0 57.1h.7M292.0 60.4h.7M303.6 55.2h.7M302.2 57.0h.7M307.0 51.1h.7M304.2 52.2h.7M305.3 53.5h.7M303.5 52.4h.7M297.9 53.5h.7M293.7 60.5h.7M303.9 52.5h.7M290.8 54.3h.7M304.4 54.3h.7M306.2 57.4h.7M291.5 56.9h.7M302.5 56.8h.7M300.3 53.0h.7M289.0 55.7h.7M302.0 51.8h.7M313.1 50.0h.7M319.6 53.5h.7M303.7 50.0h.7M287.8 61.4h.7M297.8 52.1h.7M310.5 50.5h.7M302.6 55.7h.7M296.1 57.1h.7M300.5 54.8h.7M291.6 52.2h.7M314.5 51.0h.7M292.6 53.6h.7M297.0 62.0h.7M305.6 52.0h.7M290.7 65.9h.7M307.2 61.8h.7M295.7 60.8h.7M309.7 63.1h.7M304.4 75.0h.7M291.9 63.0h.7M297.1 61.1h.7M299.2 68.5h.7M296.1 67.0h.7M309.7 65.7h.7M304.2 60.7h.7M318.5 62.6h.7M294.4 62.8h.7M307.1 60.4h.7M295.0 69.6h.7M303.1 68.2h.7M301.5 63.3h.7M302.6 60.8h.7M299.2 62.3h.7M313.1 63.6h.7M310.3 65.2h.7M295.5 60.6h.7M291.1 62.9h.7M301.8 59.7h.7M290.9 68.5h.7M307.2 66.2h.7M312.4 63.7h.7M303.2 59.1h.7M310.3 63.7h.7M302.2 62.1h.7M318.3 63.9h.7M288.4 60.8h.7M291.6 64.6h.7M299.1 59.2h.7M305.8 67.8h.7M287.9 59.4h.7M294.0 61.1h.7M287.7 62.7h.7M299.0 70.2h.7M301.4 60.5h.7M287.8 67.4h.7M304.0 67.9h.7M290.8 64.0h.7M293.8 59.9h.7M293.4 59.2h.7M292.9 58.4h.7M288.4 60.6h.7M312.5 69.1h.7M299.9 70.3h.7M291.6 58.6h.7M299.8 65.9h.7M300.4 61.1h.7M303.2 61.3h.7M321.9 60.9h.7M307.1 62.6h.7M303.4 64.9h.7M305.8 60.9h.7M295.3 58.6h.7M291.2 67.5h.7M308.5 60.3h.7M287.7 63.9h.7M289.1 61.9h.7M296.9 65.6h.7M315.6 71.8h.7M305.8 70.3h.7M289.0 67.3h.7M311.5 61.5h.7M301.1 58.4h.7M297.4 58.8h.7M299.9 58.7h.7M302.8 63.0h.7M293.6 61.4h.7M292.5 66.5h.7M298.7 66.4h.7M296.0 72.0h.7M302.2 73.6h.7M293.0 59.4h.7M308.3 61.4h.7M295.6 63.7h.7M305.8 58.3h.7M290.2 63.9h.7M301.4 66.2h.7M310.3 64.1h.7M296.7 63.2h.7M305.0 59.9h.7M311.6 65.5h.7M288.3 67.3h.7M305.4 60.5h.7M305.2 67.7h.7M290.3 60.9h.7M299.1 69.8h.7M290.4 62.8h.7M300.4 59.8h.7M305.9 73.9h.7M304.5 65.1h.7M309.3 64.2h.7M295.6 62.0h.7M305.1 58.6h.7M290.3 58.9h.7M312.7 68.1h.7M287.5 64.4h.7M292.4 61.8h.7M290.9 68.7h.7M296.7 61.5h.7M292.8 61.3h.7M287.5 61.0h.7M312.3 65.3h.7M288.1 60.6h.7M302.1 65.1h.7M295.2 59.4h.7M289.0 62.4h.7M290.7 61.7h.7M315.8 60.6h.7M314.4 68.4h.7M292.6 64.7h.7M295.6 59.4h.7M293.6 64.7h.7M302.8 71.4h.7M309.9 69.1h.7M296.0 72.2h.7M287.7 64.0h.7M305.2 65.1h.7M303.7 62.0h.7M295.5 58.5h.7M292.0 59.2h.7M291.2 63.2h.7M287.5 60.3h.7M290.0 60.9h.7M298.3 59.2h.7M291.0 72.5h.7M292.5 60.8h.7M292.7 67.1h.7M296.8 60.9h.7M305.2 59.2h.7M295.9 62.2h.7M294.6 61.5h.7M291.2 65.6h.7M294.6 60.0h.7M300.5 78.5h.7M291.2 62.0h.7M292.0 71.1h.7M307.3 70.2h.7M289.4 63.5h.7M318.5 62.9h.7M303.5 70.8h.7M298.3 63.8h.7M297.6 61.3h.7M289.3 63.4h.7M304.0 63.1h.7M290.1 68.9h.7M294.7 66.1h.7M289.2 67.7h.7M303.0 65.5h.7M293.1 64.0h.7M299.1 67.0h.7M322.4 65.8h.7M308.0 64.5h.7M310.5 60.5h.7M292.9 63.9h.7M302.1 62.9h.7M292.2 66.7h.7M304.4 61.6h.7M299.9 58.5h.7M296.5 64.4h.7M304.0 60.1h.7M310.9 70.1h.7M322.5 62.1h.7M292.5 58.5h.7M299.5 67.0h.7M311.8 62.6h.7M298.1 63.9h.7M291.2 65.5h.7M305.3 60.8h.7M313.7 61.6h.7M305.6 59.4h.7M322.3 58.5h.7M297.7 66.5h.7M296.8 63.8h.7M287.6 67.5h.7M278.2 87.9h.7M279.0 81.5h.7M283.3 99.6h.7M276.7 80.9h.7M273.7 81.5h.7M275.0 88.4h.7M265.8 75.1h.7M278.0 81.9h.7M274.0 77.6h.7M281.5 80.9h.7M271.0 85.9h.7M275.1 88.6h.7M271.3 93.3h.7M270.7 91.5h.7M283.1 93.8h.7M274.9 90.2h.7M281.3 83.9h.7M270.3 93.4h.7M278.8 83.8h.7M266.3 83.0h.7M274.8 95.8h.7M274.6 91.4h.7M282.2 88.0h.7M279.4 91.2h.7M276.9 91.9h.7M284.0 78.5h.7M279.4 86.1h.7M281.9 79.6h.7M283.5 87.4h.7M277.6 82.6h.7M276.0 94.8h.7M280.4 89.8h.7M275.2 81.8h.7M280.8 86.6h.7M285.8 79.4h.7M284.1 86.9h.7M275.4 89.9h.7M269.1 88.2h.7M277.7 75.1h.7M277.2 84.7h.7M285.8 89.7h.7M275.4 88.5h.7M276.6 93.6h.7M283.2 79.0h.7M274.7 89.8h.7M277.0 82.8h.7M290.1 87.8h.7M288.5 89.1h.7M282.5 90.8h.7M279.9 83.2h.7M271.3 87.8h.7M282.0 79.7h.7M278.5 78.2h.7M279.6 90.0h.7M274.4 86.3h.7M278.0 76.9h.7M276.8 81.6h.7M280.3 86.8h.7M288.0 96.0h.7M280.6 92.9h.7M266.5 91.4h.7M271.3 75.9h.7M267.0 86.1h.7M272.5 89.5h.7M282.0 89.0h.7M280.9 89.1h.7M273.9 85.3h.7M279.9 97.2h.7M272.8 95.5h.7M268.1 86.1h.7M268.2 80.8h.7M272.1 99.0h.7M288.0 83.3h.7M268.7 93.8h.7M286.7 98.1h.7M287.3 81.0h.7M276.8 88.4h.7M277.7 84.6h.7M273.8 89.7h.7M277.9 88.6h.7M282.7 98.3h.7M278.1 90.2h.7M285.0 86.6h.7M286.3 93.4h.7M280.4 85.0h.7M280.3 84.5h.7M277.6 100.1h.7M280.5 81.7h.7M270.3 83.7h.7M280.9 86.9h.7M286.0 86.2h.7M288.4 96.1h.7M272.2 82.3h.7M264.3 95.4h.7M286.0 98.1h.7M274.9 99.0h.7M289.5 101.8h.7M283.8 87.5h.7M272.7 83.0h.7M286.2 100.8h.7M277.7 80.7h.7M282.4 85.9h.7M287.2 86.0h.7M278.6 99.8h.7M288.9 91.3h.7M273.6 101.4h.7M273.0 97.0h.7M280.3 101.5h.7M273.7 100.0h.7M282.2 102.4h.7M277.3 87.0h.7M283.2 89.1h.7M285.5 96.0h.7M278.3 94.9h.7M288.0 99.8h.7M284.3 100.6h.7M286.4 87.8h.7M280.2 97.5h.7M271.7 87.1h.7M286.8 81.5h.7M273.4 80.6h.7M283.2 86.3h.7M269.3 87.0h.7M280.0 85.3h.7M287.6 81.3h.7M286.5 84.3h.7M272.7 88.9h.7M275.9 82.4h.7M277.4 85.3h.7M272.0 91.2h.7M276.0 101.6h.7M289.4 102.2h.7M287.0 90.3h.7M271.2 83.2h.7M281.5 86.9h.7M289.0 97.2h.7M272.5 90.4h.7M286.2 94.5h.7M284.7 98.8h.7M287.2 96.8h.7M264.8 101.9h.7M288.2 82.2h.7M298.3 90.9h.7M288.7 87.3h.7M310.0 102.4h.7M296.7 86.7h.7M289.4 91.1h.7M304.4 94.5h.7M293.6 84.2h.7M294.5 90.9h.7M301.4 87.2h.7M322.1 100.7h.7M300.6 82.4h.7M301.1 86.0h.7M302.3 88.4h.7M292.5 81.9h.7M294.2 103.3h.7M315.7 101.1h.7M295.0 43.9h.7M299.8 46.2h.7M283.1 52.8h.7M321.4 44.4h.7M275.9 48.5h.7M313.0 45.1h.7M302.5 51.4h.7M288.8 44.3h.7M294.8 44.4h.7M294.6 51.2h.7M301.0 45.4h.7M266.6 45.0h.7M266.1 52.4h.7M322.3 44.9h.7M278.0 51.3h.7M284.4 46.1h.7M277.2 48.7h.7M302.2 46.1h.7M287.2 52.3h.7M282.2 52.1h.7M284.0 44.7h.7" stroke="#3c3c3c" stroke-opacity="0.43" stroke-width="0.8" fill="none"/>
<rect class="bx" x="262.4" y="43.0" width="61.7" height="62.5"/>
<path class="ql" d="M287.5 43.0V105.5M262.4 79.6H324.1"/>
<path d="M262.4 105.5v1.5M262.4 105.5h-1.5M267.0 105.5v.9M262.4 100.8h-.9M269.8 105.5v.9M262.4 98.0h-.9M273.2 105.5v.9M262.4 94.6h-.9M275.4 105.5v.9M262.4 92.3h-.9M277.8 105.5v1.5M262.4 89.9h-1.5M282.5 105.5v.9M262.4 85.2h-.9M285.2 105.5v.9M262.4 82.4h-.9M288.6 105.5v.9M262.4 79.0h-.9M290.9 105.5v.9M262.4 76.7h-.9M293.2 105.5v1.5M262.4 74.2h-1.5M297.9 105.5v.9M262.4 69.5h-.9M300.6 105.5v.9M262.4 66.8h-.9M304.0 105.5v.9M262.4 63.3h-.9M306.3 105.5v.9M262.4 61.0h-.9M308.7 105.5v1.5M262.4 58.6h-1.5M313.3 105.5v.9M262.4 53.9h-.9M316.0 105.5v.9M262.4 51.2h-.9M319.5 105.5v.9M262.4 47.7h-.9M321.7 105.5v.9M262.4 45.4h-.9M324.1 105.5v1.5M262.4 43.0h-1.5" stroke="#555" stroke-width=".5" fill="none"/>
<text x="289.7" y="30.2" font-size="9.1" text-anchor="middle" class="t">PBS</text>
<text x="293.2" y="40.9" font-size="5.3" text-anchor="middle" class="t" fill-opacity=".85">040408-3x.011</text>
<text x="258.6" y="114.6" font-size="6.4" text-anchor="start" class="t">10<tspan dy="-2.7" font-size="4.2">0</tspan></text>
<text transform="translate(259.2 108.8) rotate(-90)" font-size="6.4" text-anchor="start" class="t">10<tspan dy="-2.7" font-size="4.2">0</tspan></text>
<text x="274.0" y="114.6" font-size="6.4" text-anchor="start" class="t">10<tspan dy="-2.7" font-size="4.2">1</tspan></text>
<text transform="translate(259.2 93.2) rotate(-90)" font-size="6.4" text-anchor="start" class="t">10<tspan dy="-2.7" font-size="4.2">1</tspan></text>
<text x="289.4" y="114.6" font-size="6.4" text-anchor="start" class="t">10<tspan dy="-2.7" font-size="4.2">2</tspan></text>
<text transform="translate(259.2 77.8) rotate(-90)" font-size="6.4" text-anchor="start" class="t">10<tspan dy="-2.7" font-size="4.2">2</tspan></text>
<text x="304.9" y="114.6" font-size="6.4" text-anchor="start" class="t">10<tspan dy="-2.7" font-size="4.2">3</tspan></text>
<text transform="translate(259.2 63.0) rotate(-90)" font-size="6.4" text-anchor="start" class="t">10<tspan dy="-2.7" font-size="4.2">3</tspan></text>
<text x="320.3" y="114.6" font-size="6.4" text-anchor="start" class="t">10<tspan dy="-2.7" font-size="4.2">4</tspan></text>
<text transform="translate(259.2 48.4) rotate(-90)" font-size="6.4" text-anchor="start" class="t">10<tspan dy="-2.7" font-size="4.2">4</tspan></text>
<text transform="translate(250.2 73.7) rotate(-90)" font-size="6.4" text-anchor="middle" class="t">APC</text>
<text x="294.4" y="121.8" font-size="6.5" text-anchor="middle" class="t">PE</text>
<text x="309.2" y="74.6" font-size="9.4" text-anchor="start" class="t" fill="#000">6</text>
<path d="M370.6 55.9h.7M355.4 58.3h.7M359.6 57.9h.7M353.6 58.5h.7M368.6 57.6h.7M370.7 55.5h.7M371.2 56.5h.7M371.9 58.0h.7M362.1 56.1h.7M356.4 61.1h.7M363.2 55.8h.7M376.1 58.4h.7M363.5 57.8h.7M367.8 56.7h.7M375.6 56.4h.7M374.2 57.3h.7M371.0 58.0h.7M367.2 57.8h.7M357.8 56.2h.7M371.3 57.3h.7M362.7 58.0h.7M370.2 57.8h.7M357.6 52.1h.7M376.3 55.4h.7M356.1 55.5h.7M372.4 56.4h.7M374.9 57.0h.7M355.8 58.1h.7M374.3 57.6h.7M368.6 56.5h.7M367.5 56.7h.7M358.4 59.3h.7M360.3 55.8h.7M357.9 57.2h.7M363.3 59.0h.7M368.6 57.2h.7M370.7 53.6h.7M370.1 57.3h.7M360.8 56.1h.7M360.5 56.5h.7M371.7 58.3h.7M377.1 57.4h.7M357.6 56.3h.7M362.5 58.0h.7M359.0 57.4h.7M377.1 56.9h.7M375.0 57.1h.7M371.8 56.2h.7M360.4 56.0h.7M369.5 56.7h.7M361.4 55.3h.7M368.4 54.8h.7M362.9 58.7h.7M375.6 56.3h.7M363.7 56.7h.7M372.9 56.5h.7M366.8 56.7h.7M361.5 56.7h.7M376.9 56.8h.7M356.9 55.5h.7M375.4 58.1h.7M377.3 55.7h.7M373.9 58.3h.7M367.7 53.8h.7M368.0 55.1h.7M375.9 58.2h.7M363.1 56.5h.7M373.2 55.7h.7M371.9 57.3h.7M374.1 55.1h.7M363.3 56.8h.7M368.8 53.4h.7M354.2 56.0h.7M353.7 55.7h.7M354.6 57.5h.7M370.9 58.0h.7M361.0 55.4h.7M375.4 59.1h.7M353.9 55.8h.7M356.3 53.6h.7M373.5 53.1h.7M362.7 59.0h.7M357.5 56.6h.7M372.1 55.7h.7M357.9 55.6h.7M377.1 55.1h.7M358.9 58.7h.7M374.1 56.6h.7M364.3 59.4h.7M376.1 56.4h.7M359.5 53.2h.7M375.9 58.0h.7M359.7 56.1h.7M363.5 56.3h.7M368.2 59.1h.7M366.2 56.3h.7M369.2 58.4h.7M369.9 56.7h.7M358.8 55.6h.7M370.6 55.8h.7M367.4 58.5h.7M366.4 58.1h.7M364.7 56.8h.7M375.9 57.6h.7M359.5 57.5h.7M375.5 56.3h.7M356.2 58.0h.7M369.9 56.4h.7M376.3 57.6h.7M355.8 55.3h.7M371.8 56.9h.7M358.9 57.3h.7M353.3 55.5h.7M363.0 56.1h.7M370.0 55.9h.7M359.2 57.8h.7M376.5 55.6h.7M358.8 59.0h.7M360.7 57.2h.7M361.4 54.3h.7M359.6 56.9h.7M357.3 56.3h.7M358.6 58.4h.7M369.3 57.6h.7M361.6 57.3h.7M370.6 56.3h.7M363.3 55.9h.7M360.7 56.3h.7M355.9 56.8h.7M357.7 57.5h.7M375.2 57.3h.7M363.6 56.3h.7M360.0 56.8h.7M357.5 57.3h.7M374.6 54.3h.7M370.1 55.6h.7M369.9 55.5h.7M372.7 56.4h.7M358.1 56.3h.7M370.8 56.3h.7M353.7 55.4h.7M369.1 57.7h.7M360.2 57.1h.7M369.0 54.3h.7M357.7 56.7h.7M361.0 55.0h.7M369.2 59.3h.7M376.2 56.0h.7M360.7 56.1h.7M356.2 56.8h.7M355.0 56.4h.7M369.3 56.6h.7M375.1 59.0h.7M360.8 58.0h.7M356.2 58.4h.7M376.6 55.3h.7M355.2 59.3h.7M353.6 57.8h.7M371.8 58.2h.7M377.8 55.4h.7M371.9 58.0h.7M354.8 57.3h.7M362.4 55.9h.7M365.3 60.2h.7M375.2 57.6h.7M371.4 56.4h.7M353.4 57.0h.7M363.6 58.1h.7M372.0 58.4h.7M365.9 57.6h.7M369.1 58.6h.7M377.0 58.9h.7M377.2 54.9h.7M373.6 56.0h.7M366.7 55.3h.7M359.8 56.9h.7M356.0 58.9h.7M356.2 57.7h.7M368.5 55.2h.7M371.9 56.3h.7M374.1 58.3h.7M375.6 55.9h.7M359.3 56.6h.7M360.5 57.2h.7M356.9 54.0h.7M365.9 57.9h.7M376.4 57.2h.7M371.5 57.6h.7M363.2 55.3h.7M355.9 55.6h.7M373.7 55.8h.7M375.1 57.1h.7M371.8 56.8h.7M359.4 56.9h.7M361.9 59.4h.7M367.0 58.7h.7M375.7 55.7h.7M358.1 55.7h.7M362.7 59.3h.7M353.4 56.3h.7M358.1 59.1h.7M372.8 55.9h.7M369.4 56.3h.7M364.2 56.9h.7M362.4 55.4h.7M358.7 55.3h.7M371.7 56.1h.7M364.5 58.0h.7M353.6 56.1h.7M368.1 56.4h.7M377.6 56.0h.7M353.7 54.7h.7M377.7 59.0h.7M354.4 53.2h.7M359.8 55.7h.7M377.2 57.6h.7M377.1 54.6h.7M356.6 57.6h.7M370.5 58.6h.7M367.7 55.4h.7M362.1 57.0h.7M372.2 55.1h.7M368.3 57.5h.7M355.3 56.3h.7M352.5 57.1h.7M378.8 60.3h.7M356.3 50.1h.7M367.5 55.5h.7M353.5 58.0h.7M378.3 51.5h.7M370.4 61.1h.7M374.6 59.3h.7M359.8 57.0h.7M352.8 55.0h.7M353.4 56.6h.7M372.2 54.5h.7M366.1 55.2h.7M376.0 64.7h.7M368.9 54.8h.7M367.8 52.5h.7M357.2 56.1h.7M357.8 54.5h.7M378.2 54.5h.7M377.5 55.1h.7M363.6 57.7h.7M373.3 56.1h.7M371.2 51.8h.7M359.3 55.0h.7M357.2 56.8h.7M372.0 54.0h.7M377.8 58.8h.7M378.4 57.7h.7M361.4 52.4h.7M353.6 56.4h.7M360.4 61.4h.7M353.7 60.1h.7M378.5 55.2h.7M360.1 58.1h.7M374.7 53.4h.7M358.5 51.1h.7M377.7 57.1h.7M365.0 56.1h.7M374.3 56.9h.7M368.0 55.3h.7M372.5 56.4h.7M353.8 53.9h.7M354.2 56.8h.7M361.4 57.9h.7M375.5 55.2h.7M376.4 57.8h.7M371.0 50.1h.7M368.0 53.0h.7M353.1 59.7h.7M376.9 60.7h.7M369.6 56.2h.7M368.4 55.1h.7M374.5 51.6h.7M358.2 56.5h.7M368.5 57.7h.7M370.2 51.0h.7M372.2 57.1h.7M354.4 56.9h.7M371.5 56.7h.7M376.2 52.0h.7M368.8 57.0h.7M356.4 50.9h.7M376.6 59.9h.7M354.6 55.8h.7M358.0 51.9h.7M374.9 59.4h.7M367.7 58.9h.7M360.9 53.4h.7M373.5 62.0h.7M369.3 52.4h.7M355.0 56.3h.7M358.1 58.9h.7M373.7 48.6h.7M373.7 58.4h.7M353.8 55.2h.7M365.9 55.4h.7M371.1 52.2h.7M360.6 56.4h.7M353.5 52.1h.7M363.1 52.5h.7M377.0 54.1h.7M371.5 51.7h.7M357.6 60.1h.7M374.6 51.4h.7M369.8 53.1h.7M359.6 54.5h.7M359.1 55.4h.7M356.6 57.8h.7M362.7 57.9h.7M361.5 54.5h.7M359.5 54.2h.7M375.4 55.5h.7M372.3 57.9h.7M365.1 57.5h.7M377.8 53.9h.7M370.0 49.2h.7M377.5 61.8h.7M374.1 58.3h.7M368.9 56.2h.7M370.5 56.4h.7M372.7 53.8h.7M372.2 52.4h.7M375.4 54.4h.7M361.0 54.7h.7M361.6 53.5h.7M358.5 51.0h.7M376.7 54.5h.7M376.2 57.1h.7M363.7 53.9h.7M362.6 55.5h.7M355.4 49.2h.7M378.1 54.8h.7M369.9 55.0h.7M377.8 51.7h.7M368.9 50.2h.7M365.7 56.6h.7M372.0 53.0h.7M375.7 56.9h.7M374.6 54.1h.7M361.1 57.3h.7M365.5 54.4h.7M377.3 50.9h.7M365.5 55.1h.7M373.5 54.4h.7M366.0 57.4h.7M374.3 54.0h.7M353.6 54.2h.7M354.2 58.9h.7M363.6 57.7h.7M361.7 58.5h.7M377.7 56.8h.7M378.7 57.7h.7M355.4 58.0h.7M374.3 56.6h.7M365.5 55.6h.7M374.5 55.8h.7M361.8 62.6h.7M372.7 55.4h.7M364.4 54.3h.7M360.8 55.3h.7M358.6 56.1h.7M359.9 52.0h.7M363.1 49.5h.7M365.2 56.3h.7M366.0 50.6h.7M371.6 56.2h.7M374.1 55.8h.7M377.8 58.9h.7M369.9 60.4h.7M358.7 56.5h.7M367.4 53.7h.7M363.6 51.9h.7M358.1 53.0h.7M360.8 55.5h.7M358.0 49.2h.7M366.3 55.6h.7M353.6 55.4h.7M366.5 57.3h.7M362.9 54.4h.7M359.2 53.2h.7M378.0 54.0h.7M367.4 50.1h.7M353.5 55.8h.7M367.4 60.0h.7M370.8 55.9h.7M355.4 56.5h.7M362.7 52.5h.7M357.6 59.7h.7M366.4 53.1h.7M374.0 57.8h.7M358.3 55.7h.7M355.6 52.5h.7M355.6 58.5h.7M368.4 55.4h.7M353.7 55.9h.7M366.0 56.8h.7M373.7 55.3h.7M372.5 54.3h.7M369.9 56.8h.7M363.5 55.6h.7M358.4 53.4h.7M365.7 50.9h.7M355.9 53.4h.7M355.5 53.9h.7M377.5 55.4h.7M375.6 59.0h.7M354.4 50.3h.7M374.1 55.8h.7M353.6 48.8h.7M361.0 52.3h.7M378.6 53.9h.7M377.2 48.6h.7M364.4 49.8h.7M370.8 55.9h.7M362.1 55.6h.7M374.7 55.1h.7M360.3 53.0h.7M357.4 61.9h.7M355.7 54.9h.7M368.8 52.8h.7M366.9 60.4h.7M376.2 57.2h.7M355.8 54.3h.7M373.5 59.0h.7M377.3 55.9h.7M372.0 57.3h.7M354.9 56.1h.7M355.9 52.3h.7M354.2 58.3h.7M360.8 55.9h.7M372.3 52.4h.7M355.7 53.1h.7M363.9 58.3h.7M353.0 54.3h.7M370.1 55.5h.7M354.5 57.4h.7M373.2 55.8h.7M368.3 50.8h.7M356.9 57.3h.7M370.7 58.2h.7M361.2 58.0h.7M365.9 60.3h.7M366.8 56.5h.7M359.1 57.7h.7M363.1 60.2h.7M373.0 54.5h.7M375.1 60.6h.7M374.7 60.6h.7M367.1 57.7h.7M375.4 60.9h.7M355.6 58.0h.7M378.4 52.8h.7M353.0 58.8h.7M376.1 56.4h.7M373.2 56.6h.7M362.3 55.9h.7M373.1 59.5h.7M377.7 57.1h.7M356.2 53.3h.7M369.3 56.9h.7M369.7 53.2h.7M353.5 54.1h.7M369.8 54.3h.7M352.5 53.6h.7M362.7 56.4h.7M375.2 58.5h.7M360.1 61.1h.7M378.0 59.0h.7M364.5 58.5h.7M356.7 58.8h.7M377.1 59.4h.7M356.0 54.3h.7M367.8 57.5h.7M377.3 56.4h.7M377.2 55.0h.7M366.8 54.0h.7M357.5 53.9h.7M365.3 54.6h.7M359.7 51.7h.7M360.3 57.0h.7M360.4 55.3h.7M357.2 55.7h.7M352.8 56.4h.7M372.1 57.6h.7M367.3 55.1h.7M361.7 50.6h.7M369.4 48.7h.7M367.5 49.6h.7M364.7 60.0h.7M372.8 49.9h.7M367.2 56.8h.7M376.1 59.8h.7M367.6 54.0h.7M375.5 60.3h.7M375.1 60.9h.7M370.9 58.2h.7M360.7 62.5h.7M364.9 57.3h.7M353.9 53.2h.7M371.4 57.0h.7M369.2 54.1h.7M373.9 51.5h.7M354.1 51.6h.7M355.3 62.3h.7M369.2 53.8h.7M371.6 55.3h.7M353.8 53.4h.7M352.6 55.8h.7M360.6 54.7h.7M361.0 54.2h.7M353.2 51.8h.7M354.4 51.2h.7M357.3 53.2h.7M355.8 61.7h.7M352.5 58.6h.7M361.8 60.9h.7M372.0 56.9h.7M369.7 55.2h.7M368.1 51.5h.7M364.4 55.5h.7M356.9 49.0h.7M353.1 54.5h.7M356.8 60.3h.7M377.4 56.4h.7M373.8 58.8h.7M367.2 54.3h.7M368.4 51.3h.7M371.9 54.0h.7M374.0 54.3h.7M358.3 59.1h.7M373.5 61.4h.7M369.3 53.2h.7M359.3 54.4h.7M359.6 55.0h.7M356.4 54.4h.7M366.6 51.7h.7M378.0 55.8h.7M373.1 56.6h.7M356.3 56.6h.7M355.0 51.9h.7M359.4 55.1h.7M356.2 50.3h.7M355.6 58.2h.7M371.6 52.4h.7M360.3 54.7h.7M367.1 54.1h.7M360.3 53.7h.7M378.4 52.3h.7M367.8 50.2h.7M355.6 60.7h.7M372.8 56.3h.7M359.6 56.3h.7M364.1 61.8h.7M359.6 55.2h.7M365.0 57.1h.7M360.1 55.6h.7M360.5 59.1h.7M356.1 57.0h.7M377.7 56.4h.7M357.4 54.7h.7M359.4 56.3h.7M362.9 59.0h.7M355.0 49.3h.7M358.0 55.1h.7M362.8 54.2h.7M367.6 54.6h.7M366.3 49.6h.7M361.8 57.7h.7M370.1 53.0h.7M371.9 54.8h.7M359.0 54.0h.7M358.3 50.5h.7M368.7 54.2h.7M362.9 50.0h.7M374.2 52.7h.7M366.4 55.5h.7M361.2 55.7h.7M357.5 55.1h.7M375.2 61.9h.7M357.7 56.8h.7M373.1 51.8h.7M374.9 53.7h.7M377.9 53.5h.7M354.9 55.0h.7M356.0 53.7h.7M354.1 52.9h.7M360.5 60.4h.7M376.3 55.6h.7M369.2 54.5h.7M356.0 54.7h.7M354.7 54.8h.7M372.0 59.7h.7M368.6 56.9h.7M367.7 46.1h.7M356.9 56.5h.7M359.7 58.7h.7M354.5 61.4h.7M378.6 55.6h.7M364.1 50.4h.7M368.5 57.3h.7M357.3 53.7h.7M361.9 50.1h.7M369.3 53.6h.7M372.0 58.7h.7M376.3 59.1h.7M358.5 57.7h.7M358.3 52.4h.7M362.7 63.1h.7M365.4 58.2h.7M372.9 59.5h.7M354.8 65.0h.7M365.3 63.5h.7M366.5 64.1h.7M357.3 59.0h.7M369.8 63.3h.7M358.9 65.8h.7M367.8 61.5h.7M367.8 58.3h.7M372.8 69.9h.7M378.0 74.3h.7M377.7 64.2h.7M365.9 62.7h.7M359.2 69.4h.7M358.6 71.1h.7M373.8 61.6h.7M373.1 63.8h.7M374.0 70.4h.7M375.1 75.0h.7M367.6 58.9h.7M376.9 60.2h.7M370.2 62.7h.7M369.5 63.5h.7M375.2 69.5h.7M370.1 69.3h.7M373.3 67.6h.7M377.8 58.9h.7M362.9 63.6h.7M372.8 68.1h.7M360.2 69.9h.7M365.4 63.3h.7M376.3 59.3h.7M379.1 61.7h.7M378.3 65.0h.7M373.0 60.1h.7M375.6 74.0h.7M376.6 61.5h.7M368.9 58.8h.7M358.6 63.9h.7M373.1 60.1h.7M373.1 61.4h.7M372.3 62.8h.7M368.0 66.4h.7M370.2 62.1h.7M371.9 69.5h.7M366.7 60.3h.7M370.2 69.9h.7M358.1 72.8h.7M366.8 70.1h.7M369.4 65.7h.7M367.7 59.6h.7M359.0 62.4h.7M355.3 66.5h.7M370.1 58.7h.7M355.0 61.6h.7M374.0 63.4h.7M356.9 65.3h.7M373.4 64.0h.7M361.8 58.2h.7M377.0 71.0h.7M358.1 62.9h.7M356.2 61.1h.7M370.7 61.4h.7M373.5 61.4h.7M361.6 63.2h.7M365.0 58.6h.7M370.3 66.6h.7M360.1 76.1h.7M362.7 61.6h.7M367.7 61.1h.7M360.3 69.6h.7M355.9 67.8h.7M377.2 63.9h.7M355.2 66.1h.7M379.4 62.8h.7M375.4 61.8h.7M364.3 60.6h.7M375.9 60.9h.7M353.6 64.6h.7M367.6 59.5h.7M361.7 65.4h.7M360.2 59.7h.7M376.9 74.5h.7M352.9 62.2h.7M375.9 57.7h.7M354.0 64.9h.7M370.8 67.7h.7M359.8 71.1h.7M366.6 71.3h.7M377.7 62.8h.7M374.1 69.1h.7M354.6 58.4h.7M360.3 68.0h.7M365.5 58.0h.7M371.9 59.8h.7M376.0 65.2h.7M375.4 64.8h.7M378.6 61.0h.7M357.5 62.8h.7M357.8 60.1h.7M375.1 65.1h.7M366.2 65.2h.7M358.7 62.9h.7M357.9 64.3h.7M370.7 68.1h.7M372.3 66.5h.7M361.7 69.7h.7M377.5 58.5h.7M366.1 64.1h.7M366.3 71.2h.7M362.8 58.2h.7M363.1 59.5h.7M361.9 68.0h.7M374.9 74.2h.7M364.1 59.5h.7M358.3 64.9h.7M364.0 65.1h.7M377.7 62.0h.7M369.7 64.6h.7M354.7 69.3h.7M363.5 60.8h.7M364.9 58.3h.7M378.7 59.1h.7M377.5 62.6h.7M354.6 62.9h.7M367.3 66.7h.7M360.6 60.9h.7M357.7 68.4h.7M359.5 57.7h.7M353.3 69.2h.7M371.1 62.9h.7M362.1 66.5h.7M371.4 74.6h.7M374.6 60.1h.7M367.8 66.1h.7M361.4 63.1h.7M355.7 74.9h.7M370.0 63.3h.7M370.7 68.6h.7M373.7 62.8h.7M355.7 68.4h.7M353.1 70.5h.7M376.4 63.7h.7M368.8 58.5h.7M354.4 62.6h.7M371.7 60.4h.7M353.4 62.4h.7M369.5 72.5h.7M367.3 63.3h.7M371.8 63.0h.7M354.4 65.6h.7M377.2 68.1h.7M378.1 59.1h.7M379.4 64.1h.7M373.2 61.9h.7M360.5 60.1h.7M379.2 65.3h.7M369.0 61.0h.7M371.9 63.0h.7M370.3 72.8h.7M357.6 66.3h.7M375.7 62.7h.7M369.9 80.1h.7M358.0 67.5h.7M362.4 65.9h.7M355.8 59.8h.7M363.9 60.8h.7M379.5 63.2h.7M362.5 57.9h.7M362.9 70.1h.7M374.3 60.3h.7M354.1 64.0h.7M355.2 69.5h.7M372.7 59.4h.7M355.4 60.0h.7M368.9 60.7h.7M374.7 65.5h.7M367.6 60.9h.7M354.0 63.7h.7M357.6 59.9h.7M366.9 64.5h.7M378.5 63.4h.7M370.1 68.1h.7M371.3 61.1h.7M368.5 60.0h.7M360.9 64.5h.7M368.8 58.0h.7M363.4 61.4h.7M374.5 65.8h.7M357.5 65.2h.7M370.0 62.3h.7M372.0 61.7h.7M356.2 65.6h.7M375.8 67.2h.7M358.6 58.4h.7M378.8 62.5h.7M361.4 68.4h.7M368.9 59.3h.7M378.4 60.9h.7M374.8 63.4h.7M365.4 57.8h.7M357.2 61.6h.7M369.0 68.8h.7M368.3 62.6h.7M353.6 70.2h.7M362.5 66.0h.7M377.6 63.1h.7M366.5 58.3h.7M356.9 66.1h.7M369.8 62.6h.7M364.5 57.9h.7M377.4 62.4h.7M365.5 58.1h.7M352.5 63.2h.7M356.3 65.5h.7M356.7 62.6h.7M378.4 67.0h.7M361.9 60.2h.7M361.6 60.8h.7M379.1 67.7h.7M357.6 64.3h.7M369.2 60.6h.7M378.3 66.4h.7M377.3 66.2h.7M356.3 59.3h.7M365.0 61.5h.7M358.9 70.4h.7M371.4 59.4h.7M358.7 64.8h.7M356.8 60.2h.7M359.4 61.2h.7M355.5 62.2h.7M371.9 67.2h.7M359.6 57.8h.7M363.0 61.9h.7M359.5 63.8h.7M362.4 64.2h.7M360.3 59.2h.7M361.7 58.7h.7M371.6 59.8h.7M356.7 59.0h.7M371.0 59.1h.7M361.5 64.9h.7M354.4 63.0h.7M355.2 60.8h.7M377.0 65.8h.7M353.0 67.5h.7M359.5 64.3h.7M376.0 65.6h.7M354.0 63.1h.7M357.7 58.2h.7M359.3 61.1h.7M375.2 63.6h.7M355.0 70.7h.7M378.3 65.8h.7M355.2 61.9h.7M367.6 59.0h.7M373.5 59.5h.7M367.4 66.0h.7M366.0 63.5h.7M364.1 65.5h.7M358.9 60.1h.7M379.6 59.1h.7M363.1 68.5h.7M369.7 63.9h.7M368.1 58.5h.7M378.7 58.7h.7M358.6 60.0h.7M356.1 70.9h.7M377.0 57.7h.7M366.1 60.6h.7M369.8 70.4h.7M369.3 61.7h.7M373.7 61.8h.7M375.3 68.2h.7M371.4 65.5h.7M375.2 61.0h.7M353.0 58.7h.7M375.8 58.9h.7M373.5 63.7h.7M369.7 60.7h.7M352.5 58.4h.7M372.9 69.6h.7M368.0 63.6h.7M355.2 61.5h.7M376.4 65.5h.7M368.4 67.7h.7M364.8 67.1h.7M378.3 63.2h.7M357.5 68.2h.7M356.7 59.0h.7M376.8 62.9h.7M356.3 73.7h.7M374.7 60.8h.7M357.7 70.2h.7M374.6 58.8h.7M363.2 57.8h.7M369.1 63.6h.7M368.8 64.5h.7M362.9 60.1h.7M366.3 61.8h.7M370.0 61.7h.7M355.6 68.8h.7M377.4 59.3h.7M374.9 73.2h.7M357.6 63.2h.7M358.1 60.6h.7M362.8 62.0h.7M373.4 63.5h.7M366.3 60.8h.7M360.6 59.6h.7M373.3 71.1h.7M357.3 61.7h.7M371.6 66.4h.7M372.9 59.7h.7M354.7 62.2h.7M367.8 61.5h.7M368.4 71.7h.7M379.0 60.7h.7M360.2 59.9h.7M364.7 62.2h.7M378.0 60.6h.7M371.8 65.7h.7M368.4 67.6h.7M372.1 64.8h.7M369.9 57.6h.7M361.4 66.7h.7M370.1 61.4h.7M368.3 69.2h.7M367.4 66.2h.7M372.3 67.7h.7M368.8 69.2h.7M372.8 64.6h.7M375.0 69.9h.7M371.3 71.6h.7M364.6 68.2h.7M367.8 71.9h.7M374.3 64.2h.7M369.7 70.3h.7M367.5 67.7h.7M370.4 62.7h.7M372.7 66.3h.7M371.7 64.6h.7M373.3 64.5h.7M367.5 67.0h.7M369.6 70.9h.7M369.7 65.4h.7M370.6 67.1h.7M362.4 60.8h.7M369.8 67.1h.7M365.4 71.2h.7M376.2 69.9h.7M376.9 68.5h.7M377.4 64.6h.7M373.9 62.8h.7M368.8 66.3h.7M374.5 61.4h.7M369.9 61.8h.7M373.1 70.4h.7M367.2 63.0h.7M368.4 73.8h.7M372.6 61.0h.7M377.7 68.4h.7M370.6 62.0h.7M379.6 67.3h.7M381.6 62.5h.7M365.7 66.8h.7M370.6 66.0h.7M367.0 64.9h.7M370.2 68.7h.7M368.6 72.6h.7M370.5 64.3h.7M374.5 70.2h.7M374.4 67.0h.7M371.8 66.5h.7M370.7 75.3h.7M371.2 58.1h.7M371.2 64.0h.7M373.0 59.5h.7M370.8 65.4h.7M372.7 65.7h.7M365.6 81.8h.7M373.9 68.0h.7M377.6 73.8h.7M371.5 71.8h.7M365.1 64.9h.7M376.1 68.6h.7M369.4 73.3h.7M358.9 67.3h.7M369.9 67.5h.7M373.1 68.6h.7M372.3 60.7h.7M375.7 63.4h.7M373.2 68.0h.7M371.2 68.8h.7M362.9 63.0h.7M366.3 65.4h.7M371.5 66.2h.7M373.4 66.1h.7M366.7 69.4h.7M368.3 67.1h.7M372.6 67.3h.7M363.2 61.0h.7M363.0 62.5h.7M381.5 55.2h.7M379.4 58.9h.7M397.4 54.1h.7M393.9 55.1h.7M384.8 56.7h.7M382.1 57.2h.7M388.0 56.5h.7M386.0 55.9h.7M388.1 56.1h.7M388.0 57.5h.7M391.6 54.0h.7M403.9 50.9h.7M392.9 55.7h.7M386.1 55.4h.7M397.6 55.3h.7M403.8 48.2h.7M384.3 55.6h.7M407.9 47.3h.7M397.1 55.2h.7M388.8 55.4h.7M384.8 56.5h.7M380.0 57.2h.7M377.9 53.0h.7M383.1 57.4h.7M386.7 54.8h.7M393.8 55.0h.7M389.5 56.2h.7M378.3 58.1h.7M381.4 58.0h.7M377.4 60.2h.7M378.1 56.8h.7M386.3 55.4h.7M397.2 52.9h.7M381.7 57.8h.7M405.1 53.9h.7M396.5 55.0h.7M378.3 55.2h.7M382.6 57.0h.7M393.2 56.3h.7M408.2 49.1h.7M379.9 54.8h.7M393.0 50.4h.7M392.1 55.1h.7M383.7 58.7h.7M394.8 55.5h.7M378.9 51.7h.7M386.4 56.4h.7M382.3 52.4h.7M383.9 60.7h.7M387.0 56.8h.7M388.6 53.8h.7M387.3 58.1h.7M392.3 54.5h.7M382.1 57.6h.7M383.9 56.4h.7M383.7 53.9h.7M395.0 56.4h.7M386.4 53.5h.7M385.7 59.3h.7M393.6 55.7h.7M377.3 54.2h.7M378.4 52.5h.7M390.0 59.9h.7M382.2 59.5h.7M378.2 53.7h.7M392.3 59.7h.7M397.0 54.4h.7M389.0 55.9h.7M383.8 56.2h.7M398.9 52.6h.7M395.7 57.7h.7M387.9 56.7h.7M396.5 50.3h.7M403.7 55.5h.7M393.3 57.6h.7M389.2 54.1h.7M396.5 53.5h.7M393.0 53.9h.7M380.0 56.5h.7M380.8 57.2h.7M390.7 56.9h.7M393.5 54.3h.7M391.8 54.7h.7M384.7 58.2h.7M401.5 51.8h.7M403.3 56.1h.7M392.9 54.2h.7M399.4 54.7h.7M383.1 56.5h.7M401.4 50.5h.7M388.0 59.3h.7M398.3 53.7h.7M386.0 54.5h.7M386.1 55.7h.7M398.3 55.7h.7M378.5 53.8h.7M385.1 59.4h.7M394.6 56.6h.7M382.9 55.8h.7M391.7 59.3h.7M398.2 57.3h.7M379.5 57.7h.7M384.9 56.8h.7M405.0 54.4h.7M378.1 59.6h.7M380.4 54.4h.7M403.0 50.9h.7M398.4 52.9h.7M391.9 55.5h.7M383.5 53.2h.7M377.0 58.3h.7M402.8 51.6h.7M397.2 54.2h.7M387.6 59.4h.7M395.3 53.6h.7M379.4 56.3h.7M386.8 57.0h.7M395.0 54.0h.7M386.9 56.2h.7M378.7 58.1h.7M379.6 56.4h.7M386.6 59.3h.7M396.8 52.5h.7M399.4 53.4h.7M399.0 50.1h.7M395.8 54.3h.7M398.1 52.0h.7M400.2 55.6h.7M382.5 58.0h.7M397.4 55.0h.7M380.8 60.4h.7M383.4 59.5h.7M389.8 58.0h.7M394.9 53.5h.7M383.6 53.3h.7M393.1 55.7h.7M377.6 55.6h.7M395.4 53.4h.7M398.8 52.6h.7M398.1 50.0h.7M394.6 58.4h.7M387.1 53.9h.7M389.2 54.9h.7M387.6 57.6h.7M394.3 51.7h.7M408.0 51.1h.7M398.4 55.5h.7M380.9 55.7h.7M390.3 54.1h.7M396.9 53.1h.7M394.7 51.1h.7M401.9 54.9h.7M377.8 56.5h.7M379.9 54.8h.7M385.8 54.4h.7M383.3 57.6h.7M398.6 56.6h.7M380.5 53.6h.7M379.8 55.2h.7M393.8 51.7h.7M378.9 57.9h.7M387.3 56.7h.7M386.5 61.3h.7M395.9 54.3h.7M385.9 55.5h.7M384.0 54.9h.7M388.6 58.3h.7M381.7 52.9h.7M377.8 58.0h.7M386.6 56.9h.7M387.1 55.3h.7M398.6 51.4h.7M389.4 58.7h.7M390.5 60.5h.7M378.3 55.4h.7M377.5 57.6h.7M377.3 60.2h.7M402.9 50.0h.7M393.4 55.1h.7M399.0 50.5h.7M397.7 53.4h.7M402.8 51.3h.7M393.8 54.6h.7M387.3 54.8h.7M380.4 52.9h.7M390.0 53.5h.7M383.0 54.3h.7M401.2 53.6h.7M385.9 55.3h.7M393.2 53.9h.7M391.8 57.8h.7M385.6 57.6h.7M392.9 54.2h.7M383.8 55.0h.7M397.5 55.3h.7M379.7 57.2h.7M394.2 53.5h.7M377.8 56.9h.7M394.1 55.3h.7M395.4 57.2h.7M383.9 54.5h.7M390.5 58.3h.7M389.5 57.3h.7M382.2 54.2h.7M389.3 58.7h.7M380.1 58.4h.7M380.0 53.5h.7M380.7 60.7h.7M393.1 53.3h.7M387.1 54.4h.7M382.6 55.7h.7M400.4 54.2h.7M396.4 55.6h.7M381.9 56.2h.7M396.6 57.2h.7M385.2 57.3h.7M392.6 59.1h.7M391.1 62.6h.7M395.5 55.2h.7M395.1 49.3h.7M396.8 53.2h.7M388.1 54.0h.7M382.0 56.6h.7M395.3 55.1h.7M385.1 53.7h.7M400.9 49.8h.7M380.5 55.8h.7M377.9 56.0h.7M385.5 50.6h.7M393.0 58.0h.7M386.9 56.5h.7M395.3 54.8h.7M399.9 53.4h.7M386.5 54.1h.7M392.1 56.2h.7M407.2 51.8h.7M389.2 58.8h.7M387.6 57.4h.7M387.6 55.8h.7M394.8 53.2h.7M391.0 59.3h.7M398.1 54.7h.7M390.3 55.5h.7M395.0 50.1h.7M382.8 54.5h.7M380.0 52.1h.7M389.8 59.2h.7M385.4 56.8h.7M381.7 54.7h.7M399.1 52.5h.7M389.2 62.2h.7M380.2 59.1h.7M388.0 53.4h.7M405.1 50.1h.7M402.2 49.0h.7M382.8 52.5h.7M379.1 56.8h.7M378.8 61.8h.7M376.9 59.9h.7M379.9 56.5h.7M380.2 55.6h.7M399.6 53.4h.7M396.9 56.4h.7M383.7 53.1h.7M389.9 52.2h.7M383.5 60.6h.7M379.0 57.0h.7M397.5 57.5h.7M380.3 56.9h.7M394.6 58.5h.7M385.0 55.0h.7M377.8 57.5h.7M397.9 57.2h.7M386.9 58.7h.7M381.9 55.4h.7M384.6 58.4h.7M384.7 54.9h.7M388.5 53.2h.7M384.5 57.6h.7M384.7 59.6h.7M379.4 58.3h.7M393.9 52.6h.7M377.9 58.4h.7M381.6 57.9h.7M397.8 52.7h.7M394.7 49.4h.7M384.5 58.7h.7M386.1 58.4h.7M406.4 51.0h.7M384.2 52.5h.7M387.3 53.0h.7M390.9 58.7h.7M391.1 58.2h.7M402.7 52.6h.7M391.1 55.8h.7M399.4 53.9h.7M384.0 55.2h.7M384.9 55.7h.7M383.3 54.4h.7M398.6 53.9h.7M401.0 51.3h.7M385.3 58.6h.7M397.9 55.3h.7M388.0 54.5h.7M392.3 60.4h.7M384.8 53.8h.7M386.1 57.4h.7M379.5 58.9h.7M388.4 59.3h.7M387.7 51.3h.7M391.5 58.7h.7M397.8 56.5h.7M395.2 58.2h.7M388.4 51.3h.7M382.3 54.8h.7M395.7 54.4h.7M378.8 55.4h.7M378.5 59.5h.7M397.4 52.3h.7M382.1 59.2h.7M404.0 52.2h.7M393.6 52.3h.7M381.0 54.1h.7M386.7 55.3h.7M393.0 56.1h.7M379.3 58.7h.7M396.1 54.1h.7M381.4 58.5h.7M399.3 49.4h.7M398.9 46.2h.7M388.3 55.6h.7M393.9 56.5h.7M391.8 55.6h.7M391.4 54.1h.7M394.9 56.0h.7M377.8 60.8h.7M402.7 51.3h.7M378.4 54.7h.7M396.5 52.3h.7M386.6 60.9h.7M396.1 54.4h.7M381.3 57.8h.7M386.5 59.2h.7M393.2 58.2h.7M385.3 54.3h.7M385.8 58.6h.7M389.1 58.0h.7M383.9 58.1h.7M391.5 59.4h.7M385.0 60.0h.7M377.9 59.7h.7M384.4 72.3h.7M387.8 61.2h.7M386.3 58.3h.7M382.5 63.5h.7M392.7 57.9h.7M378.6 72.5h.7M382.1 60.3h.7M378.5 59.9h.7M378.7 68.8h.7M379.5 62.5h.7M380.0 58.4h.7M406.9 61.0h.7M392.9 59.0h.7M385.9 62.6h.7M380.4 61.6h.7M388.8 62.1h.7M391.3 58.3h.7M390.0 58.5h.7M384.1 60.1h.7M393.9 57.7h.7M400.7 62.1h.7M394.1 62.1h.7M385.8 58.2h.7M394.2 64.0h.7M395.6 60.6h.7M394.1 58.7h.7M389.0 63.3h.7M388.5 61.4h.7M378.0 60.5h.7M384.2 58.5h.7M392.6 58.6h.7M395.4 58.8h.7M391.8 63.0h.7M390.2 67.0h.7M380.5 63.6h.7M389.8 58.6h.7M380.9 63.9h.7M393.0 60.0h.7M391.8 59.1h.7M389.8 58.4h.7M396.6 74.7h.7M388.9 64.2h.7M377.7 64.5h.7M392.9 60.0h.7M387.2 61.7h.7M396.4 72.2h.7M390.0 60.6h.7M401.5 64.7h.7M383.9 65.8h.7M390.3 62.0h.7M383.6 67.8h.7M386.5 59.3h.7M396.1 61.0h.7M385.9 61.5h.7M379.0 74.5h.7M387.8 59.8h.7M377.2 58.6h.7M392.9 66.6h.7M381.1 60.6h.7M386.9 57.9h.7M396.9 62.4h.7M379.8 58.0h.7M391.5 60.0h.7M380.4 61.3h.7M384.7 58.3h.7M384.0 61.3h.7M388.4 59.4h.7M394.9 58.3h.7M377.6 60.7h.7M388.6 63.8h.7M383.4 62.1h.7M392.3 58.8h.7M382.3 65.0h.7M396.2 61.1h.7M383.3 65.6h.7M401.9 59.0h.7M380.2 58.2h.7M385.6 61.2h.7M404.5 62.7h.7M376.9 61.9h.7M377.2 70.8h.7M385.3 59.2h.7M380.9 58.8h.7M384.4 63.9h.7M389.2 60.5h.7M377.2 64.5h.7M387.9 65.2h.7M396.2 64.4h.7M393.0 78.8h.7M377.3 57.8h.7M386.1 59.3h.7M396.0 58.9h.7M401.1 64.1h.7M406.3 65.0h.7M398.1 59.7h.7M396.5 57.7h.7M378.6 62.1h.7M409.6 59.0h.7M406.7 60.9h.7M395.9 63.0h.7M396.0 72.8h.7M379.8 64.0h.7M384.1 66.7h.7M376.9 60.1h.7M390.1 68.3h.7M379.1 60.1h.7M398.6 61.7h.7M381.7 58.8h.7M379.3 62.2h.7M394.5 58.1h.7M405.7 60.7h.7M384.7 66.3h.7M381.6 59.2h.7M384.3 65.9h.7M385.5 59.6h.7M382.0 61.2h.7M385.3 64.5h.7M401.0 62.8h.7M404.7 62.7h.7M386.7 71.1h.7M379.2 61.5h.7M394.6 62.0h.7M383.8 68.0h.7M378.7 60.1h.7M386.7 58.5h.7M387.9 60.4h.7M377.9 57.9h.7M377.0 58.1h.7M404.0 61.4h.7M381.1 60.3h.7M383.3 59.8h.7M399.5 61.4h.7M383.5 61.9h.7M380.0 64.1h.7M404.5 65.3h.7M381.1 68.8h.7M388.9 60.8h.7M390.6 58.5h.7M400.8 61.6h.7M394.9 64.4h.7M399.6 62.5h.7M367.3 97.3h.7M368.7 86.8h.7M375.2 92.9h.7M366.0 96.6h.7M366.1 86.1h.7M373.2 89.1h.7M370.7 85.2h.7M376.1 93.2h.7M370.1 87.3h.7M372.3 84.0h.7M364.8 94.4h.7M362.5 92.7h.7M367.9 84.9h.7M352.7 93.8h.7M370.3 89.6h.7M373.5 100.4h.7M368.4 96.1h.7M366.7 86.3h.7M374.2 87.6h.7M367.7 84.9h.7M373.6 89.3h.7M380.6 88.9h.7M372.1 91.9h.7M373.3 89.1h.7M370.8 82.4h.7M369.4 85.2h.7M369.5 94.8h.7M368.3 93.7h.7M374.2 88.0h.7M358.7 88.1h.7M366.4 88.0h.7M371.7 88.8h.7M363.1 81.5h.7M367.4 92.5h.7M364.0 85.9h.7M370.5 89.3h.7M372.9 77.8h.7M376.3 89.7h.7M370.8 94.4h.7M363.8 79.1h.7M369.4 95.2h.7M371.2 90.7h.7M376.1 85.6h.7M355.7 81.9h.7M370.1 93.7h.7M357.5 89.8h.7M372.1 91.2h.7M370.5 87.5h.7M370.8 85.3h.7M373.0 92.4h.7M370.2 84.6h.7M364.3 92.6h.7M370.0 81.5h.7M374.8 84.7h.7M367.3 82.5h.7M368.1 94.3h.7M361.0 81.2h.7M374.6 83.8h.7M365.1 91.5h.7M363.7 89.7h.7M365.4 98.1h.7M363.0 96.6h.7M366.5 91.4h.7M375.3 91.7h.7M372.5 80.8h.7M376.1 84.9h.7M376.5 87.3h.7M362.8 87.9h.7M370.7 82.8h.7M376.5 84.7h.7M381.1 85.1h.7M359.9 93.3h.7M359.8 90.5h.7M370.6 87.3h.7M366.0 87.5h.7M362.3 90.0h.7M370.1 85.7h.7M363.4 87.6h.7M355.0 81.3h.7M367.8 91.6h.7M368.7 92.8h.7M371.6 90.3h.7M373.3 90.8h.7M369.0 90.3h.7M366.6 97.5h.7M364.1 89.6h.7M358.5 83.0h.7M365.4 84.2h.7M373.7 91.8h.7M371.7 93.3h.7M379.7 92.0h.7M367.1 92.3h.7M357.7 89.5h.7M372.7 82.3h.7M373.9 85.6h.7M361.2 80.9h.7M358.7 87.0h.7M368.8 82.8h.7M372.0 89.1h.7M361.5 88.0h.7M366.0 80.3h.7M363.5 91.8h.7M361.2 92.0h.7M360.4 82.7h.7M368.7 89.3h.7M365.8 91.8h.7M364.1 87.4h.7M353.0 92.4h.7M377.9 89.5h.7M362.5 93.3h.7M367.1 89.5h.7M361.4 88.0h.7M370.1 90.9h.7M359.3 92.1h.7M368.4 89.7h.7M366.8 86.7h.7M373.2 85.2h.7M361.6 87.0h.7M364.2 86.2h.7M366.5 89.5h.7M379.9 89.4h.7M359.4 88.3h.7M369.6 88.6h.7M364.1 89.4h.7M369.7 95.4h.7M371.6 93.9h.7M368.7 86.1h.7M369.4 90.5h.7M369.5 87.2h.7M364.5 88.2h.7M366.6 87.6h.7M358.4 85.9h.7M365.8 82.7h.7M363.5 78.0h.7M366.4 89.5h.7M372.1 93.8h.7M370.0 84.7h.7M370.6 90.8h.7M374.2 87.0h.7M354.2 89.8h.7M370.3 85.1h.7M367.7 87.6h.7M367.3 88.1h.7M360.4 78.3h.7M371.0 89.6h.7M374.4 88.0h.7M373.7 77.8h.7M367.4 91.4h.7M371.5 88.5h.7M373.1 89.5h.7M378.3 90.2h.7M374.9 86.8h.7M368.7 83.9h.7M368.4 86.7h.7M368.8 86.7h.7M369.1 98.3h.7M365.0 96.6h.7M372.3 86.5h.7M363.9 86.8h.7M363.2 90.0h.7M369.9 91.1h.7M364.5 85.6h.7M366.4 84.2h.7M355.9 97.0h.7M372.4 93.2h.7M367.8 81.8h.7M367.1 80.9h.7M370.5 85.0h.7M369.0 89.5h.7M363.8 91.0h.7M366.4 102.5h.7M361.3 90.7h.7M359.2 103.9h.7M360.0 81.6h.7M372.3 89.3h.7M367.1 102.8h.7M369.6 80.5h.7M367.7 95.1h.7M362.5 81.6h.7M364.6 87.6h.7M365.1 94.8h.7M377.5 83.4h.7M361.6 98.2h.7M356.1 93.4h.7M354.1 85.7h.7M361.2 94.1h.7M367.8 91.6h.7M368.1 80.6h.7M372.2 98.6h.7M370.3 98.8h.7M354.1 104.0h.7M362.7 104.8h.7M362.2 89.6h.7M355.0 96.9h.7M368.3 95.9h.7M373.5 81.1h.7M353.0 99.0h.7M366.6 87.0h.7M355.1 91.0h.7M373.5 96.3h.7M367.4 93.2h.7M353.6 87.2h.7M366.2 103.0h.7M358.5 82.2h.7M357.6 95.8h.7M370.5 84.6h.7M363.1 104.4h.7M377.8 104.7h.7M377.5 98.8h.7M410.5 88.9h.7M401.7 85.4h.7M405.3 105.2h.7M411.5 99.9h.7M385.1 100.1h.7M404.6 95.9h.7M383.6 103.3h.7M394.4 86.0h.7M389.7 102.9h.7M400.9 103.2h.7M401.1 95.9h.7M411.2 97.4h.7M408.8 85.8h.7M379.3 92.8h.7M383.4 95.4h.7M378.5 88.1h.7M403.9 80.8h.7M411.7 48.1h.7M374.8 44.1h.7M385.4 47.6h.7M389.1 47.3h.7M387.0 46.1h.7M397.5 45.6h.7M402.5 45.6h.7M358.1 47.1h.7M403.8 45.1h.7M410.0 49.9h.7M362.0 52.1h.7M400.9 50.3h.7M407.1 50.9h.7M401.3 50.9h.7M375.5 51.1h.7M388.4 50.0h.7M381.4 45.3h.7M411.2 47.6h.7M386.7 47.1h.7" stroke="#3c3c3c" stroke-opacity="0.43" stroke-width="0.8" fill="none"/>
<rect class="bx" x="351.8" y="42.7" width="63.1" height="63.7"/>
<path class="ql" d="M377.5 42.7V106.4M351.8 80.4H414.9"/>
<path d="M351.8 106.4v1.5M351.8 106.4h-1.5M356.5 106.4v.9M351.8 101.6h-.9M359.3 106.4v.9M351.8 98.8h-.9M362.8 106.4v.9M351.8 95.3h-.9M365.1 106.4v.9M351.8 92.9h-.9M367.6 106.4v1.5M351.8 90.5h-1.5M372.3 106.4v.9M351.8 85.7h-.9M375.1 106.4v.9M351.8 82.9h-.9M378.6 106.4v.9M351.8 79.3h-.9M380.9 106.4v.9M351.8 77.0h-.9M383.4 106.4v1.5M351.8 74.6h-1.5M388.1 106.4v.9M351.8 69.8h-.9M390.9 106.4v.9M351.8 67.0h-.9M394.4 106.4v.9M351.8 63.4h-.9M396.7 106.4v.9M351.8 61.1h-.9M399.1 106.4v1.5M351.8 58.6h-1.5M403.9 106.4v.9M351.8 53.8h-.9M406.7 106.4v.9M351.8 51.0h-.9M410.2 106.4v.9M351.8 47.5h-.9M412.5 106.4v.9M351.8 45.2h-.9M414.9 106.4v1.5M351.8 42.7h-1.5" stroke="#555" stroke-width=".5" fill="none"/>
<text x="379.8" y="30.2" font-size="9.1" text-anchor="middle" class="t">CM-4T1</text>
<text x="383.4" y="40.9" font-size="5.3" text-anchor="middle" class="t" fill-opacity=".85">040408-3x.022</text>
<text x="348.0" y="114.6" font-size="6.4" text-anchor="start" class="t">10<tspan dy="-2.7" font-size="4.2">0</tspan></text>
<text transform="translate(348.6 109.7) rotate(-90)" font-size="6.4" text-anchor="start" class="t">10<tspan dy="-2.7" font-size="4.2">0</tspan></text>
<text x="363.8" y="114.6" font-size="6.4" text-anchor="start" class="t">10<tspan dy="-2.7" font-size="4.2">1</tspan></text>
<text transform="translate(348.6 93.8) rotate(-90)" font-size="6.4" text-anchor="start" class="t">10<tspan dy="-2.7" font-size="4.2">1</tspan></text>
<text x="379.6" y="114.6" font-size="6.4" text-anchor="start" class="t">10<tspan dy="-2.7" font-size="4.2">2</tspan></text>
<text transform="translate(348.6 78.2) rotate(-90)" font-size="6.4" text-anchor="start" class="t">10<tspan dy="-2.7" font-size="4.2">2</tspan></text>
<text x="395.3" y="114.6" font-size="6.4" text-anchor="start" class="t">10<tspan dy="-2.7" font-size="4.2">3</tspan></text>
<text transform="translate(348.6 63.0) rotate(-90)" font-size="6.4" text-anchor="start" class="t">10<tspan dy="-2.7" font-size="4.2">3</tspan></text>
<text x="411.1" y="114.6" font-size="6.4" text-anchor="start" class="t">10<tspan dy="-2.7" font-size="4.2">4</tspan></text>
<text transform="translate(348.6 48.1) rotate(-90)" font-size="6.4" text-anchor="start" class="t">10<tspan dy="-2.7" font-size="4.2">4</tspan></text>
<text transform="translate(341.4 73.7) rotate(-90)" font-size="6.4" text-anchor="middle" class="t">APC</text>
<text x="383.0" y="121.8" font-size="6.5" text-anchor="middle" class="t">PE</text>
<text x="396.6" y="74.8" font-size="9.4" text-anchor="start" class="t" fill="#000">37</text>
<path d="M453.5 56.5h.7M446.3 56.5h.7M464.2 55.5h.7M456.7 54.8h.7M460.5 58.1h.7M440.2 55.8h.7M457.9 57.0h.7M460.3 54.7h.7M451.4 56.9h.7M446.0 55.6h.7M452.1 60.5h.7M453.7 55.3h.7M450.7 55.4h.7M447.7 57.9h.7M456.8 58.1h.7M462.6 53.9h.7M446.4 57.0h.7M462.3 57.8h.7M440.8 55.1h.7M457.3 57.5h.7M448.4 56.0h.7M453.0 55.4h.7M448.6 56.2h.7M441.5 56.1h.7M443.7 54.9h.7M465.1 59.6h.7M450.2 56.1h.7M464.1 55.7h.7M452.9 57.8h.7M462.8 56.6h.7M451.0 58.4h.7M465.2 56.3h.7M451.8 57.1h.7M446.1 56.8h.7M444.0 56.9h.7M441.3 56.4h.7M442.3 56.5h.7M457.1 58.8h.7M448.8 55.8h.7M462.1 56.0h.7M444.5 56.2h.7M463.7 57.4h.7M444.3 57.2h.7M446.4 57.9h.7M448.2 54.9h.7M446.2 57.0h.7M450.2 56.4h.7M460.3 56.3h.7M441.3 56.9h.7M445.7 54.1h.7M440.8 57.0h.7M459.6 56.8h.7M442.5 54.8h.7M452.6 56.5h.7M462.0 58.7h.7M447.6 56.2h.7M442.4 57.4h.7M446.3 56.4h.7M463.8 55.6h.7M441.9 55.5h.7M461.9 56.2h.7M442.5 58.3h.7M443.7 57.7h.7M459.5 55.8h.7M456.0 57.9h.7M447.7 56.5h.7M457.7 55.8h.7M443.2 57.2h.7M462.3 55.5h.7M454.4 54.6h.7M464.0 58.3h.7M454.9 54.3h.7M454.3 57.4h.7M461.7 54.7h.7M454.6 56.6h.7M441.7 56.4h.7M455.3 56.1h.7M447.0 53.9h.7M456.0 56.5h.7M465.4 56.6h.7M455.3 55.5h.7M461.1 56.6h.7M448.6 57.9h.7M440.6 57.0h.7M445.1 57.2h.7M446.4 57.5h.7M447.8 59.9h.7M456.4 57.8h.7M458.9 57.2h.7M459.4 58.5h.7M459.0 55.4h.7M461.6 58.0h.7M458.2 56.0h.7M451.3 55.9h.7M450.1 58.1h.7M441.5 57.0h.7M461.7 54.8h.7M443.3 57.0h.7M461.9 56.0h.7M449.8 56.3h.7M441.0 54.2h.7M461.0 57.9h.7M458.0 56.9h.7M465.3 55.4h.7M453.5 54.9h.7M463.6 55.6h.7M452.6 58.5h.7M446.2 56.5h.7M449.8 56.2h.7M456.6 57.3h.7M462.5 56.7h.7M460.6 57.0h.7M463.6 57.6h.7M453.4 57.1h.7M451.4 57.8h.7M453.1 55.2h.7M463.7 56.8h.7M448.9 56.2h.7M441.0 56.8h.7M449.6 56.6h.7M456.3 55.9h.7M461.1 56.2h.7M463.9 57.9h.7M457.3 56.0h.7M460.5 55.1h.7M460.5 57.4h.7M460.4 57.9h.7M455.0 56.3h.7M464.0 56.9h.7M462.6 55.6h.7M442.6 58.1h.7M465.2 57.7h.7M456.7 56.9h.7M443.0 56.3h.7M463.1 54.6h.7M441.7 57.1h.7M453.4 57.3h.7M449.5 58.0h.7M446.9 59.3h.7M445.6 57.2h.7M441.7 57.9h.7M449.2 55.3h.7M442.0 58.2h.7M455.6 57.8h.7M447.8 58.4h.7M459.3 57.6h.7M463.8 57.3h.7M462.5 58.6h.7M458.6 55.9h.7M459.7 57.5h.7M441.8 58.1h.7M464.7 55.7h.7M454.4 55.2h.7M453.5 57.3h.7M456.9 56.9h.7M444.3 57.5h.7M451.6 57.5h.7M442.6 55.7h.7M463.3 57.1h.7M452.4 58.1h.7M442.8 56.3h.7M464.6 56.3h.7M454.5 55.3h.7M459.0 57.7h.7M460.3 59.2h.7M457.5 55.0h.7M450.9 57.7h.7M446.7 57.9h.7M440.7 56.0h.7M455.6 56.2h.7M442.3 55.4h.7M449.0 55.7h.7M462.5 56.9h.7M462.9 57.5h.7M460.8 56.9h.7M444.4 57.8h.7M463.9 57.0h.7M443.0 55.2h.7M463.3 58.6h.7M458.9 58.2h.7M464.6 55.8h.7M465.0 59.0h.7M453.1 57.3h.7M447.5 56.9h.7M463.3 59.2h.7M447.6 53.6h.7M448.0 54.7h.7M454.2 57.6h.7M443.1 56.4h.7M451.3 55.5h.7M443.0 58.6h.7M451.2 57.3h.7M463.0 55.1h.7M463.3 55.9h.7M464.3 57.8h.7M458.3 59.0h.7M458.8 54.2h.7M450.5 57.0h.7M462.7 56.2h.7M442.9 54.5h.7M443.7 56.5h.7M442.5 54.7h.7M450.0 56.1h.7M441.0 58.8h.7M457.7 57.4h.7M444.2 57.7h.7M457.3 57.5h.7M454.1 57.2h.7M457.4 58.0h.7M457.7 55.3h.7M459.8 56.3h.7M451.9 57.8h.7M454.2 55.8h.7M445.9 56.2h.7M452.4 58.3h.7M441.7 58.7h.7M464.2 56.0h.7M463.6 55.7h.7M441.3 57.5h.7M449.7 55.9h.7M453.1 57.5h.7M451.9 57.5h.7M448.2 56.9h.7M455.6 60.5h.7M449.8 58.5h.7M450.0 57.8h.7M440.2 58.0h.7M454.8 60.5h.7M441.6 58.1h.7M461.7 55.8h.7M451.8 57.2h.7M448.6 56.8h.7M456.6 56.0h.7M462.4 57.1h.7M443.8 57.1h.7M449.8 56.7h.7M464.7 56.1h.7M461.9 57.8h.7M449.6 54.7h.7M448.8 57.8h.7M460.6 56.8h.7M441.6 57.1h.7M442.5 53.7h.7M454.2 58.9h.7M454.2 54.6h.7M454.2 55.7h.7M459.3 57.6h.7M462.3 56.0h.7M449.8 56.2h.7M447.9 53.9h.7M461.5 56.2h.7M445.8 57.0h.7M462.2 57.6h.7M457.8 56.4h.7M461.4 57.0h.7M456.0 57.3h.7M442.2 55.9h.7M458.0 55.8h.7M452.3 59.3h.7M444.2 55.7h.7M442.1 58.3h.7M446.2 56.8h.7M442.7 58.6h.7M442.9 55.9h.7M461.3 57.4h.7M464.1 57.2h.7M465.3 56.5h.7M453.9 57.2h.7M454.1 55.8h.7M440.9 56.7h.7M442.5 56.2h.7M459.4 57.7h.7M454.2 56.6h.7M454.1 55.0h.7M459.0 56.3h.7M460.5 56.6h.7M457.9 55.6h.7M453.5 57.3h.7M461.1 57.8h.7M460.7 55.8h.7M464.1 56.3h.7M452.9 58.0h.7M453.0 54.9h.7M440.0 57.2h.7M452.7 56.9h.7M454.1 56.1h.7M463.3 56.9h.7M462.4 55.4h.7M441.0 57.0h.7M443.1 55.2h.7M449.3 55.1h.7M459.7 58.5h.7M443.7 55.9h.7M459.5 54.1h.7M454.8 58.0h.7M462.2 55.8h.7M448.3 52.3h.7M449.9 56.7h.7M441.0 57.9h.7M452.9 57.2h.7M459.5 59.0h.7M452.7 56.6h.7M453.0 57.5h.7M463.2 55.5h.7M459.3 57.0h.7M447.6 58.7h.7M464.0 57.4h.7M458.2 57.0h.7M447.2 54.2h.7M444.9 56.3h.7M457.0 55.1h.7M452.6 57.8h.7M455.0 55.8h.7M442.8 57.2h.7M459.3 55.5h.7M461.8 59.2h.7M450.3 55.3h.7M447.3 56.9h.7M464.7 60.1h.7M464.7 57.0h.7M442.6 55.6h.7M453.5 57.5h.7M450.8 58.0h.7M446.7 57.9h.7M452.9 54.2h.7M456.8 57.0h.7M448.9 54.0h.7M447.4 59.2h.7M461.8 56.9h.7M456.5 56.2h.7M447.3 57.6h.7M443.5 57.4h.7M449.4 55.2h.7M463.8 58.8h.7M461.0 56.5h.7M444.9 54.5h.7M455.2 58.6h.7M463.0 58.4h.7M463.9 57.5h.7M445.0 55.6h.7M448.3 58.0h.7M447.2 59.2h.7M444.2 57.8h.7M457.2 58.8h.7M449.2 55.8h.7M445.1 58.0h.7M456.6 54.8h.7M457.6 54.7h.7M453.7 56.9h.7M456.0 57.3h.7M456.0 56.5h.7M456.3 56.1h.7M449.8 53.1h.7M449.7 61.6h.7M447.7 58.5h.7M452.2 58.7h.7M452.9 54.4h.7M443.9 57.3h.7M453.6 51.0h.7M444.5 57.2h.7M442.1 55.1h.7M446.2 59.1h.7M443.3 59.2h.7M462.8 53.8h.7M447.2 53.9h.7M456.9 56.1h.7M457.3 54.5h.7M465.2 55.3h.7M459.8 57.3h.7M460.0 56.8h.7M450.7 58.8h.7M452.3 56.2h.7M463.7 53.1h.7M445.8 50.7h.7M453.0 57.8h.7M459.1 54.7h.7M448.5 54.6h.7M452.1 54.8h.7M440.4 51.3h.7M457.8 54.5h.7M443.9 48.4h.7M446.4 54.5h.7M445.5 53.1h.7M458.8 60.7h.7M450.2 56.8h.7M466.2 55.0h.7M461.0 56.0h.7M464.3 57.6h.7M458.0 53.5h.7M445.6 54.9h.7M448.1 54.6h.7M449.2 62.4h.7M444.9 55.8h.7M452.0 50.1h.7M460.8 57.8h.7M453.5 62.7h.7M443.9 52.9h.7M459.2 65.2h.7M465.5 55.4h.7M452.2 58.3h.7M443.2 54.0h.7M459.1 54.8h.7M454.0 52.2h.7M461.2 52.6h.7M455.8 49.6h.7M462.9 58.7h.7M457.0 56.6h.7M455.6 56.5h.7M460.4 53.8h.7M445.3 55.7h.7M455.2 55.3h.7M446.6 54.2h.7M459.8 55.7h.7M441.6 55.7h.7M443.7 52.7h.7M464.9 52.0h.7M459.3 53.2h.7M446.2 55.9h.7M447.8 59.4h.7M451.1 59.7h.7M445.7 56.4h.7M443.2 58.2h.7M465.6 55.9h.7M445.1 58.6h.7M459.6 55.9h.7M458.8 56.7h.7M459.3 54.8h.7M447.6 55.5h.7M445.4 60.8h.7M456.0 52.2h.7M466.3 55.6h.7M449.9 53.9h.7M445.3 58.2h.7M453.1 60.6h.7M444.5 54.7h.7M448.8 47.8h.7M459.3 57.3h.7M445.9 57.3h.7M451.5 50.9h.7M456.8 54.9h.7M443.7 55.4h.7M443.3 49.1h.7M465.5 57.4h.7M462.8 56.8h.7M463.3 56.2h.7M454.9 52.6h.7M453.0 53.6h.7M442.3 53.8h.7M445.9 56.9h.7M442.4 52.8h.7M453.8 59.6h.7M451.2 56.6h.7M444.1 49.5h.7M442.1 60.3h.7M454.9 56.0h.7M443.2 54.0h.7M445.5 50.4h.7M461.1 56.1h.7M457.2 48.7h.7M453.4 52.7h.7M445.5 59.3h.7M452.0 59.1h.7M448.2 52.8h.7M452.3 58.1h.7M441.9 55.4h.7M455.1 56.1h.7M451.3 57.3h.7M440.9 52.5h.7M443.4 57.8h.7M452.6 49.6h.7M463.6 59.6h.7M440.9 51.1h.7M454.6 53.8h.7M447.1 53.6h.7M449.9 57.6h.7M464.3 57.6h.7M456.4 56.5h.7M447.1 57.0h.7M451.6 56.8h.7M465.9 55.3h.7M462.8 50.1h.7M450.9 49.0h.7M453.7 49.0h.7M451.8 55.4h.7M443.5 54.9h.7M465.5 55.1h.7M445.6 56.1h.7M445.3 54.8h.7M442.4 52.7h.7M464.8 51.3h.7M464.1 50.2h.7M456.6 58.9h.7M453.7 58.1h.7M455.1 51.7h.7M449.4 54.7h.7M463.4 56.7h.7M454.4 60.0h.7M462.5 53.8h.7M458.2 56.0h.7M457.7 58.8h.7M457.5 50.6h.7M460.3 53.4h.7M461.4 55.4h.7M457.8 53.5h.7M448.1 61.4h.7M446.5 57.9h.7M444.7 56.0h.7M462.5 52.8h.7M452.5 57.9h.7M455.6 54.0h.7M462.7 54.3h.7M464.2 51.4h.7M464.7 55.3h.7M462.9 57.9h.7M444.2 58.3h.7M453.3 57.1h.7M458.5 57.8h.7M456.8 53.8h.7M449.1 54.2h.7M440.4 58.9h.7M463.5 56.8h.7M460.4 53.2h.7M462.8 56.9h.7M449.8 57.8h.7M446.1 57.5h.7M462.2 55.8h.7M457.1 54.0h.7M457.4 56.6h.7M440.3 60.3h.7M442.3 55.9h.7M460.2 53.6h.7M463.3 56.4h.7M448.9 52.0h.7M462.9 56.1h.7M444.2 54.6h.7M455.1 58.2h.7M448.8 55.8h.7M453.8 58.4h.7M444.7 61.9h.7M449.7 54.9h.7M451.9 53.1h.7M455.0 56.8h.7M444.9 55.2h.7M455.7 55.9h.7M445.1 53.8h.7M465.8 57.0h.7M445.9 55.7h.7M442.4 49.4h.7M446.7 54.8h.7M454.7 56.4h.7M451.4 58.8h.7M457.2 53.8h.7M442.4 53.2h.7M450.5 58.7h.7M454.4 53.7h.7M465.7 55.8h.7M463.3 56.8h.7M454.8 57.5h.7M447.5 55.5h.7M442.5 52.3h.7M456.5 58.3h.7M454.6 54.2h.7M452.2 54.0h.7M458.8 61.1h.7M452.0 57.9h.7M460.4 52.5h.7M447.2 54.1h.7M448.2 54.8h.7M464.0 53.4h.7M455.0 50.1h.7M465.2 57.7h.7M441.1 57.6h.7M464.4 56.1h.7M440.9 54.3h.7M459.6 56.1h.7M455.0 57.2h.7M442.7 52.5h.7M447.6 54.5h.7M452.4 53.9h.7M454.5 57.4h.7M452.6 56.2h.7M440.1 51.8h.7M466.3 53.7h.7M448.9 60.4h.7M458.9 52.7h.7M464.5 55.9h.7M465.7 53.7h.7M444.4 58.9h.7M463.5 55.3h.7M453.2 54.2h.7M457.1 52.2h.7M446.0 54.8h.7M443.3 57.8h.7M455.0 57.3h.7M463.8 51.7h.7M450.7 59.8h.7M465.1 54.8h.7M458.5 52.5h.7M464.6 53.7h.7M442.4 53.8h.7M445.4 53.7h.7M454.6 55.2h.7M464.8 54.0h.7M443.0 50.7h.7M447.4 56.9h.7M440.6 54.0h.7M441.8 58.8h.7M451.0 56.9h.7M454.9 57.2h.7M453.2 55.9h.7M440.7 59.1h.7M451.0 54.5h.7M451.4 52.7h.7M464.6 56.4h.7M448.2 47.8h.7M456.5 54.4h.7M452.6 56.0h.7M460.4 54.3h.7M455.7 58.9h.7M466.2 57.4h.7M456.6 55.7h.7M448.6 54.3h.7M450.7 58.5h.7M462.5 53.5h.7M449.3 54.3h.7M464.4 57.5h.7M451.3 57.1h.7M464.9 61.1h.7M443.5 54.8h.7M460.6 50.2h.7M451.4 57.3h.7M445.5 58.9h.7M455.3 55.0h.7M441.0 59.8h.7M444.8 60.4h.7M462.3 53.6h.7M453.5 54.1h.7M448.5 51.9h.7M443.3 56.9h.7M443.7 57.4h.7M445.6 57.1h.7M451.8 52.0h.7M444.9 51.4h.7M451.0 50.9h.7M463.2 51.7h.7M462.8 51.0h.7M464.6 54.9h.7M445.5 56.6h.7M442.8 57.2h.7M462.3 55.4h.7M458.3 53.5h.7M446.1 55.4h.7M451.1 57.0h.7M464.4 54.6h.7M461.5 55.6h.7M464.7 54.6h.7M452.7 53.9h.7M444.6 55.5h.7M454.0 52.3h.7M442.5 58.3h.7M442.6 51.1h.7M441.9 56.7h.7M446.2 51.6h.7M443.8 59.6h.7M446.4 57.8h.7M458.2 53.1h.7M457.6 54.2h.7M440.1 52.3h.7M462.6 55.2h.7M461.5 56.5h.7M464.9 62.5h.7M445.3 51.6h.7M459.1 58.9h.7M454.4 53.8h.7M458.5 56.2h.7M463.8 57.8h.7M441.6 56.9h.7M462.1 56.6h.7M462.6 54.9h.7M456.8 55.4h.7M450.2 55.8h.7M454.0 58.7h.7M443.2 51.3h.7M459.5 54.0h.7M454.3 51.9h.7M454.9 52.7h.7M458.5 53.2h.7M442.1 58.4h.7M440.7 61.4h.7M442.6 59.2h.7M441.6 52.1h.7M461.0 55.6h.7M443.0 52.2h.7M449.6 56.6h.7M457.1 58.9h.7M446.4 57.0h.7M464.0 57.8h.7M464.1 55.0h.7M449.9 49.9h.7M455.2 49.9h.7M460.6 55.1h.7M465.9 57.0h.7M458.1 58.9h.7M451.5 54.4h.7M440.6 55.6h.7M456.7 56.1h.7M457.2 58.3h.7M458.1 55.2h.7M448.8 52.4h.7M462.7 58.4h.7M455.4 56.5h.7M449.7 56.5h.7M446.0 51.9h.7M440.2 55.4h.7M458.6 50.6h.7M447.9 49.8h.7M462.5 54.7h.7M448.1 54.2h.7M447.7 57.0h.7M460.6 59.4h.7M449.7 55.3h.7M466.0 60.4h.7M454.7 53.8h.7M464.7 57.5h.7M442.7 51.9h.7M440.7 55.7h.7M463.1 54.8h.7M452.3 57.0h.7M459.2 50.2h.7M453.6 55.7h.7M465.5 53.1h.7M461.3 55.7h.7M452.3 56.5h.7M444.3 54.4h.7M449.8 54.4h.7M449.9 52.2h.7M449.1 56.9h.7M458.7 53.5h.7M462.0 56.6h.7M461.8 51.4h.7M444.7 59.2h.7M443.9 52.6h.7M457.5 58.6h.7M459.2 54.2h.7M460.6 56.9h.7M463.8 55.0h.7M448.5 57.3h.7M441.2 55.4h.7M449.4 58.9h.7M448.1 57.3h.7M442.4 57.3h.7M457.7 60.0h.7M453.2 53.5h.7M456.2 59.0h.7M462.9 55.6h.7M454.9 51.3h.7M463.4 56.7h.7M461.4 54.8h.7M453.6 60.1h.7M456.1 54.0h.7M452.1 55.5h.7M449.9 56.0h.7M459.1 50.1h.7M455.6 56.8h.7M449.4 52.6h.7M457.0 59.3h.7M453.9 60.0h.7M442.4 55.4h.7M459.5 51.0h.7M452.8 55.9h.7M464.5 55.9h.7M463.7 57.4h.7M442.5 54.6h.7M446.6 52.1h.7M458.2 55.0h.7M444.8 52.8h.7M461.7 60.3h.7M457.6 53.4h.7M465.1 53.6h.7M448.9 55.3h.7M458.0 52.0h.7M455.7 54.2h.7M457.9 58.4h.7M446.9 73.3h.7M449.0 63.8h.7M461.3 59.7h.7M460.0 65.2h.7M461.8 59.0h.7M444.7 72.4h.7M449.0 62.5h.7M457.2 59.0h.7M453.5 59.5h.7M462.0 68.9h.7M451.0 58.3h.7M464.9 62.5h.7M445.6 64.7h.7M457.7 57.9h.7M461.8 66.2h.7M467.1 61.9h.7M450.0 65.4h.7M464.2 65.1h.7M456.3 58.5h.7M457.4 57.8h.7M446.6 74.1h.7M464.0 66.8h.7M441.3 59.6h.7M467.1 71.1h.7M455.3 59.7h.7M455.7 62.6h.7M444.3 66.7h.7M458.3 67.2h.7M443.8 64.5h.7M462.8 64.1h.7M460.3 58.3h.7M444.1 77.0h.7M461.5 58.0h.7M457.1 64.2h.7M447.7 61.3h.7M458.0 71.8h.7M458.9 70.1h.7M453.4 65.6h.7M458.8 60.5h.7M461.6 62.8h.7M464.4 62.2h.7M462.7 73.0h.7M442.4 62.1h.7M463.5 67.4h.7M466.0 73.1h.7M452.9 59.7h.7M464.8 69.5h.7M445.7 58.7h.7M440.5 61.2h.7M451.9 60.8h.7M442.8 64.7h.7M443.1 67.2h.7M451.8 58.9h.7M466.7 59.8h.7M454.0 65.4h.7M467.1 67.5h.7M453.6 64.5h.7M452.4 77.3h.7M441.7 65.4h.7M463.9 59.4h.7M458.6 61.8h.7M455.2 66.9h.7M464.3 60.5h.7M457.6 57.9h.7M447.3 57.9h.7M463.6 62.2h.7M459.8 70.8h.7M441.6 68.9h.7M462.7 64.1h.7M449.6 60.8h.7M463.1 67.4h.7M462.5 60.4h.7M464.8 68.3h.7M442.6 62.2h.7M460.0 65.2h.7M448.2 60.0h.7M463.4 67.5h.7M442.6 74.3h.7M463.9 57.9h.7M466.6 63.4h.7M453.9 60.3h.7M454.8 64.1h.7M456.5 77.1h.7M464.5 60.4h.7M441.9 60.3h.7M463.3 61.6h.7M449.2 63.2h.7M450.8 64.4h.7M463.8 66.5h.7M442.8 58.6h.7M443.4 59.1h.7M458.5 60.1h.7M459.8 59.1h.7M445.7 67.1h.7M458.8 69.6h.7M449.4 61.0h.7M440.2 64.6h.7M446.7 63.5h.7M443.9 65.6h.7M452.0 59.7h.7M452.1 60.3h.7M450.2 61.7h.7M464.9 60.9h.7M450.2 58.3h.7M444.8 65.4h.7M465.9 62.1h.7M457.3 58.9h.7M466.1 61.0h.7M452.0 60.2h.7M456.3 60.6h.7M448.6 68.5h.7M466.4 61.0h.7M447.1 59.7h.7M465.5 59.8h.7M449.0 64.0h.7M460.9 69.1h.7M457.5 61.5h.7M461.2 63.7h.7M445.1 64.5h.7M467.4 66.2h.7M453.3 60.6h.7M441.5 63.0h.7M458.5 58.3h.7M441.6 61.8h.7M457.5 64.4h.7M459.5 70.1h.7M445.1 60.6h.7M442.6 64.8h.7M443.2 68.4h.7M457.8 58.3h.7M460.3 61.8h.7M465.1 71.0h.7M448.5 60.1h.7M442.1 58.6h.7M457.0 61.1h.7M462.8 59.4h.7M459.7 67.6h.7M453.1 64.3h.7M446.9 65.7h.7M459.8 58.4h.7M463.4 60.0h.7M445.5 60.1h.7M459.3 60.2h.7M461.0 70.0h.7M467.3 60.8h.7M449.9 64.2h.7M450.4 57.9h.7M440.6 61.2h.7M443.9 58.3h.7M460.2 59.7h.7M447.0 60.5h.7M464.9 71.7h.7M448.3 63.9h.7M461.7 60.8h.7M449.5 63.3h.7M460.6 58.6h.7M451.7 59.2h.7M445.3 65.2h.7M445.2 61.9h.7M447.4 63.4h.7M442.7 69.1h.7M463.7 62.4h.7M465.2 61.6h.7M461.7 62.0h.7M464.1 59.9h.7M461.6 61.4h.7M463.0 64.8h.7M457.1 66.3h.7M445.2 58.3h.7M447.7 70.8h.7M450.3 72.4h.7M444.6 63.7h.7M440.2 69.1h.7M466.1 61.8h.7M450.3 65.5h.7M456.4 59.7h.7M442.4 58.5h.7M463.4 59.2h.7M460.4 59.4h.7M440.5 59.0h.7M445.0 60.6h.7M460.2 60.9h.7M441.0 63.4h.7M440.1 61.4h.7M442.7 64.0h.7M443.4 60.6h.7M461.1 69.0h.7M461.3 59.3h.7M455.4 68.3h.7M447.9 66.5h.7M461.3 62.7h.7M457.2 61.6h.7M441.1 61.7h.7M444.7 58.6h.7M458.9 73.4h.7M455.3 58.5h.7M450.4 60.2h.7M454.2 61.7h.7M446.2 70.5h.7M455.8 64.4h.7M443.3 61.1h.7M467.0 69.8h.7M462.5 60.7h.7M453.3 61.0h.7M466.8 60.9h.7M458.4 64.9h.7M455.6 63.1h.7M457.5 59.6h.7M459.1 64.6h.7M467.1 59.2h.7M461.4 59.9h.7M446.0 65.4h.7M441.1 62.5h.7M465.2 67.0h.7M460.1 65.4h.7M455.7 58.7h.7M453.1 66.6h.7M466.0 57.9h.7M440.6 67.2h.7M443.7 82.2h.7M448.3 67.0h.7M467.3 66.8h.7M458.9 68.6h.7M456.2 62.9h.7M449.0 59.5h.7M443.8 60.3h.7M443.4 61.3h.7M444.3 59.3h.7M453.7 61.6h.7M449.6 59.5h.7M466.8 59.2h.7M465.2 63.2h.7M454.9 58.1h.7M444.1 70.0h.7M448.3 68.8h.7M440.1 70.6h.7M457.9 58.1h.7M450.2 60.5h.7M465.3 61.0h.7M448.3 59.9h.7M463.2 67.4h.7M450.4 65.9h.7M457.7 58.0h.7M449.3 59.0h.7M462.1 61.2h.7M445.7 61.9h.7M443.9 67.6h.7M440.8 62.8h.7M450.1 61.1h.7M459.9 59.6h.7M452.4 59.1h.7M463.0 59.1h.7M455.8 59.0h.7M454.3 60.7h.7M453.4 58.9h.7M440.5 61.5h.7M455.9 68.2h.7M444.8 63.8h.7M441.7 70.3h.7M442.3 60.9h.7M444.0 62.9h.7M456.8 59.1h.7M447.4 59.7h.7M447.7 72.2h.7M451.0 70.0h.7M466.2 63.2h.7M446.6 63.4h.7M447.8 65.8h.7M446.4 58.4h.7M448.2 72.1h.7M447.7 70.5h.7M462.7 63.2h.7M466.8 59.8h.7M450.4 63.6h.7M463.7 67.4h.7M442.4 59.2h.7M452.9 59.0h.7M462.4 61.0h.7M441.9 59.8h.7M467.4 68.4h.7M450.6 64.6h.7M453.4 67.5h.7M465.9 67.2h.7M465.2 59.0h.7M445.2 69.4h.7M452.2 61.0h.7M460.0 65.2h.7M452.3 64.9h.7M465.7 64.2h.7M445.0 71.6h.7M466.7 65.6h.7M456.8 58.1h.7M456.6 63.3h.7M458.5 59.7h.7M446.8 60.2h.7M451.8 57.9h.7M445.5 62.7h.7M462.0 73.5h.7M448.7 58.7h.7M443.4 58.9h.7M464.3 66.1h.7M449.0 57.9h.7M466.0 59.1h.7M451.9 64.9h.7M457.6 65.3h.7M461.4 63.4h.7M453.8 65.5h.7M465.8 62.8h.7M462.1 58.9h.7M464.4 57.8h.7M454.3 70.3h.7M443.0 58.5h.7M444.2 60.0h.7M443.5 64.3h.7M454.4 58.9h.7M466.0 60.4h.7M454.9 63.8h.7M451.4 57.9h.7M442.6 58.8h.7M449.9 66.8h.7M444.6 57.9h.7M452.2 61.3h.7M452.2 58.4h.7M465.6 61.1h.7M450.5 59.3h.7M464.1 74.0h.7M440.6 69.4h.7M449.1 66.4h.7M459.6 61.3h.7M451.9 58.1h.7M441.6 58.9h.7M449.4 66.5h.7M454.9 65.3h.7M466.2 66.3h.7M446.0 60.7h.7M455.6 63.2h.7M464.4 66.7h.7M452.8 65.3h.7M454.0 63.8h.7M457.6 70.6h.7M460.1 62.5h.7M457.7 70.2h.7M450.0 64.8h.7M457.3 67.2h.7M458.1 62.3h.7M468.5 66.7h.7M463.9 63.6h.7M459.0 59.9h.7M454.2 66.7h.7M459.8 66.5h.7M453.9 70.0h.7M459.3 67.9h.7M459.9 62.7h.7M456.9 64.3h.7M459.5 56.9h.7M457.2 62.3h.7M456.2 71.8h.7M464.5 72.7h.7M460.8 69.7h.7M457.3 67.9h.7M455.4 69.0h.7M459.2 68.6h.7M460.7 59.9h.7M461.8 63.3h.7M464.3 71.4h.7M460.3 71.4h.7M454.0 67.7h.7M466.5 65.5h.7M463.0 65.2h.7M461.7 64.6h.7M463.7 63.1h.7M452.6 59.1h.7M457.0 67.3h.7M456.4 64.9h.7M463.2 65.9h.7M453.8 73.5h.7M457.2 69.1h.7M464.5 64.0h.7M461.0 69.0h.7M456.9 60.8h.7M465.9 70.9h.7M453.2 67.8h.7M460.2 66.0h.7M457.6 69.0h.7M460.5 72.5h.7M457.4 64.9h.7M455.2 62.8h.7M459.3 75.1h.7M453.3 66.8h.7M460.5 72.6h.7M457.2 64.0h.7M462.1 68.2h.7M456.7 64.2h.7M455.8 69.2h.7M460.0 65.6h.7M463.3 64.1h.7M450.3 72.9h.7M458.9 68.1h.7M460.9 58.7h.7M452.8 65.8h.7M455.0 63.1h.7M461.0 61.9h.7M455.2 64.4h.7M455.9 64.8h.7M465.2 66.8h.7M454.7 63.6h.7M455.0 59.3h.7M449.3 64.6h.7M454.1 70.2h.7M453.6 61.3h.7M465.2 69.2h.7M463.2 68.5h.7M453.5 64.9h.7M466.2 67.9h.7M461.5 63.7h.7M457.7 65.1h.7M461.6 62.7h.7M459.9 68.6h.7M455.4 72.1h.7M451.5 64.0h.7M476.1 56.6h.7M473.2 57.9h.7M486.8 51.2h.7M467.0 55.9h.7M484.1 55.4h.7M469.4 54.4h.7M490.7 52.9h.7M483.0 57.9h.7M479.1 53.6h.7M494.2 44.7h.7M485.9 53.9h.7M493.2 48.1h.7M495.1 50.4h.7M487.7 51.8h.7M477.0 57.4h.7M485.9 56.5h.7M493.9 52.4h.7M487.1 52.2h.7M480.8 52.8h.7M467.4 50.5h.7M468.6 51.2h.7M487.6 50.9h.7M478.6 56.8h.7M488.8 50.8h.7M483.1 53.2h.7M478.8 52.5h.7M471.8 52.5h.7M474.2 52.3h.7M487.1 54.6h.7M468.1 51.7h.7M469.9 58.2h.7M482.5 52.7h.7M472.8 57.9h.7M487.6 53.4h.7M479.1 58.1h.7M469.2 59.5h.7M471.3 54.6h.7M484.0 51.8h.7M488.9 51.2h.7M485.1 51.9h.7M471.0 58.1h.7M482.1 54.7h.7M466.7 56.5h.7M488.6 53.4h.7M476.2 55.3h.7M499.0 50.9h.7M478.8 51.7h.7M466.3 57.0h.7M464.8 57.7h.7M476.3 54.5h.7M473.8 54.7h.7M492.5 53.0h.7M477.6 55.6h.7M473.8 51.6h.7M466.8 53.1h.7M468.8 58.9h.7M491.1 49.1h.7M466.4 59.7h.7M492.7 54.1h.7M478.6 55.8h.7M489.0 53.5h.7M486.6 51.1h.7M468.3 55.4h.7M491.6 49.4h.7M468.4 57.9h.7M486.2 50.1h.7M466.1 56.1h.7M472.6 56.5h.7M472.2 57.7h.7M484.1 48.8h.7M476.8 51.9h.7M471.1 54.2h.7M492.5 50.2h.7M488.7 52.6h.7M466.9 56.9h.7M488.5 57.4h.7M464.9 58.0h.7M467.8 57.8h.7M479.3 54.8h.7M465.7 58.3h.7M483.1 56.2h.7M489.0 53.8h.7M473.7 56.1h.7M489.5 53.5h.7M467.0 60.2h.7M467.6 54.4h.7M482.3 49.4h.7M465.4 58.4h.7M491.7 52.9h.7M464.6 55.8h.7M493.2 49.4h.7M484.9 60.6h.7M493.2 49.3h.7M495.1 46.7h.7M497.0 47.7h.7M467.5 57.6h.7M493.4 48.9h.7M488.8 51.2h.7M477.5 57.1h.7M480.1 54.6h.7M468.5 56.7h.7M475.6 56.3h.7M484.2 51.4h.7M473.6 56.5h.7M472.6 53.5h.7M490.9 53.7h.7M477.6 54.0h.7M478.6 55.7h.7M466.4 51.8h.7M472.8 55.2h.7M482.1 51.8h.7M495.1 53.4h.7M472.2 56.1h.7M487.7 53.9h.7M477.0 52.0h.7M487.4 49.7h.7M491.2 50.8h.7M469.5 53.0h.7M473.7 59.2h.7M485.8 52.4h.7M473.7 56.7h.7M470.2 57.1h.7M470.2 56.0h.7M492.6 52.6h.7M481.0 53.7h.7M484.4 54.8h.7M487.3 55.8h.7M476.1 56.9h.7M488.1 52.8h.7M480.7 54.6h.7M467.7 56.5h.7M483.2 56.1h.7M482.4 54.1h.7M466.1 52.2h.7M486.6 53.5h.7M489.7 51.4h.7M481.7 56.2h.7M479.9 55.8h.7M490.0 55.6h.7M483.9 51.2h.7M479.4 53.5h.7M488.0 54.1h.7M486.2 50.7h.7M467.6 57.1h.7M477.3 56.3h.7M496.6 44.2h.7M470.1 58.0h.7M483.2 57.8h.7M487.3 53.3h.7M468.7 52.9h.7M471.6 58.3h.7M476.0 53.8h.7M486.0 53.0h.7M468.9 57.3h.7M489.0 50.2h.7M493.3 46.2h.7M473.1 56.0h.7M483.9 54.0h.7M480.1 53.5h.7M484.9 51.8h.7M479.2 57.8h.7M491.0 51.0h.7M487.0 51.7h.7M485.0 52.2h.7M473.6 56.7h.7M482.9 54.8h.7M498.5 47.9h.7M468.8 52.9h.7M488.6 51.3h.7M465.2 54.8h.7M468.3 56.5h.7M477.8 59.1h.7M467.9 58.6h.7M487.8 54.1h.7M482.3 55.0h.7M478.3 55.5h.7M477.2 57.1h.7M473.3 55.2h.7M474.6 55.5h.7M465.2 54.3h.7M487.6 52.5h.7M479.4 55.7h.7M493.8 54.6h.7M476.3 57.7h.7M472.1 55.4h.7M465.6 58.2h.7M470.8 55.2h.7M480.6 57.9h.7M476.3 58.2h.7M480.4 62.6h.7M466.3 53.7h.7M465.3 56.1h.7M488.7 51.9h.7M479.4 56.7h.7M492.7 52.3h.7M494.8 47.4h.7M477.4 54.6h.7M480.9 56.1h.7M469.2 58.7h.7M493.4 47.6h.7M477.6 52.6h.7M473.4 59.1h.7M481.3 57.2h.7M487.7 55.2h.7M465.7 54.0h.7M470.3 55.8h.7M476.6 56.9h.7M466.6 57.4h.7M480.5 55.2h.7M480.7 55.3h.7M483.2 56.8h.7M477.0 55.3h.7M473.0 55.0h.7M485.6 52.4h.7M466.4 55.1h.7M465.8 56.6h.7M491.2 50.7h.7M471.3 55.3h.7M470.1 59.7h.7M473.3 57.0h.7M485.1 52.8h.7M473.0 59.4h.7M488.3 51.0h.7M487.4 52.7h.7M478.9 55.9h.7M491.6 49.7h.7M469.4 55.4h.7M472.7 56.5h.7M468.3 52.9h.7M490.0 50.7h.7M471.3 56.9h.7M480.7 56.1h.7M467.7 57.0h.7M491.3 56.8h.7M488.3 53.9h.7M477.4 56.0h.7M471.2 56.0h.7M465.1 56.3h.7M479.2 57.1h.7M465.4 55.6h.7M471.4 59.9h.7M483.4 51.7h.7M467.1 57.8h.7M475.1 57.5h.7M491.5 48.4h.7M472.1 57.8h.7M475.4 57.6h.7M474.6 54.8h.7M471.8 61.8h.7M485.7 55.1h.7M473.6 55.5h.7M473.2 55.2h.7M489.2 50.2h.7M490.3 52.2h.7M469.3 56.5h.7M471.6 52.9h.7M476.7 53.8h.7M479.8 54.0h.7M467.5 55.4h.7M475.2 55.4h.7M468.5 54.7h.7M493.4 51.8h.7M490.0 53.9h.7M493.5 50.5h.7M475.8 51.1h.7M483.3 54.0h.7M465.1 57.6h.7M493.2 50.2h.7M492.0 51.5h.7M480.0 55.9h.7M492.3 47.2h.7M470.9 50.3h.7M473.6 57.8h.7M484.0 52.8h.7M482.8 55.5h.7M473.6 55.6h.7M468.8 55.9h.7M494.6 53.1h.7M480.3 52.7h.7M484.2 53.9h.7M481.6 52.4h.7M484.9 53.9h.7M492.0 52.0h.7M464.5 57.9h.7M484.6 54.2h.7M486.1 49.9h.7M468.1 56.9h.7M470.4 58.4h.7M466.8 58.7h.7M479.3 61.0h.7M473.2 57.6h.7M466.8 53.9h.7M476.8 55.1h.7M472.8 56.5h.7M470.4 58.8h.7M483.1 51.7h.7M474.1 58.5h.7M479.4 57.4h.7M469.1 54.2h.7M486.3 54.6h.7M488.4 50.5h.7M480.3 55.5h.7M492.0 50.1h.7M488.7 52.7h.7M479.8 52.9h.7M470.0 57.6h.7M483.4 49.1h.7M481.0 54.3h.7M469.7 55.0h.7M480.4 59.2h.7M488.7 53.5h.7M471.3 55.1h.7M472.8 54.2h.7M467.8 56.4h.7M497.1 47.3h.7M489.2 57.3h.7M475.5 49.7h.7M466.3 56.5h.7M476.5 50.5h.7M470.4 58.8h.7M471.7 54.4h.7M465.7 60.1h.7M469.2 55.0h.7M465.1 58.9h.7M473.1 56.8h.7M492.1 53.6h.7M481.6 55.1h.7M467.7 49.3h.7M491.3 49.4h.7M469.3 52.6h.7M476.0 58.6h.7M490.7 52.7h.7M490.7 51.4h.7M487.6 53.7h.7M477.6 56.8h.7M487.0 51.5h.7M479.9 60.4h.7M492.9 51.1h.7M488.7 51.7h.7M496.4 45.6h.7M494.5 48.4h.7M494.6 49.9h.7M467.8 55.9h.7M465.2 55.2h.7M478.2 56.2h.7M486.2 50.5h.7M485.2 53.6h.7M494.1 46.3h.7M487.2 50.7h.7M468.4 54.6h.7M481.5 57.1h.7M466.6 57.5h.7M483.2 54.6h.7M474.8 53.6h.7M479.9 54.8h.7M477.2 58.2h.7M487.4 55.7h.7M467.0 52.8h.7M467.1 55.3h.7M490.2 51.8h.7M475.8 57.1h.7M469.9 56.3h.7M469.6 57.9h.7M472.4 52.9h.7M481.3 58.8h.7M470.0 53.6h.7M482.1 55.0h.7M493.9 51.3h.7M473.4 59.1h.7M490.1 53.8h.7M477.2 58.4h.7M468.9 59.4h.7M493.6 49.9h.7M476.8 58.1h.7M487.4 56.4h.7M490.4 49.7h.7M476.3 53.0h.7M486.5 50.7h.7M491.4 54.5h.7M472.2 59.3h.7M472.6 55.5h.7M465.7 56.9h.7M483.6 55.4h.7M481.5 57.6h.7M470.0 51.9h.7M481.8 53.6h.7M474.2 55.7h.7M493.7 51.0h.7M482.1 55.0h.7M483.3 53.6h.7M469.6 57.0h.7M473.5 50.2h.7M485.4 60.9h.7M492.4 52.7h.7M483.1 56.6h.7M475.9 54.8h.7M487.6 53.7h.7M490.2 56.5h.7M469.4 60.7h.7M473.6 56.5h.7M471.0 53.4h.7M465.2 56.7h.7M486.8 52.3h.7M474.2 58.4h.7M478.3 53.3h.7M497.3 48.4h.7M467.8 57.0h.7M475.8 55.2h.7M494.9 52.3h.7M493.3 47.7h.7M489.0 49.2h.7M475.6 55.5h.7M485.1 55.7h.7M493.9 49.4h.7M478.7 54.8h.7M498.2 50.4h.7M486.8 53.5h.7M490.0 50.5h.7M469.5 56.7h.7M479.3 55.4h.7M467.9 57.8h.7M477.2 56.7h.7M484.8 51.9h.7M474.9 55.2h.7M464.6 55.4h.7M479.9 56.6h.7M491.7 51.9h.7M478.1 54.4h.7M492.4 50.3h.7M478.4 57.1h.7M484.2 56.7h.7M475.3 57.0h.7M467.5 61.0h.7M492.5 50.8h.7M482.9 56.3h.7M493.0 49.7h.7M492.7 48.3h.7M478.1 56.6h.7M475.0 57.5h.7M472.5 57.1h.7M481.3 55.6h.7M486.1 52.5h.7M495.4 47.6h.7M490.7 50.7h.7M484.8 54.9h.7M474.8 58.6h.7M485.4 45.7h.7M474.6 57.8h.7M495.7 52.0h.7M472.6 59.4h.7M479.2 57.0h.7M472.5 58.0h.7M472.2 55.3h.7M471.7 56.1h.7M476.0 57.6h.7M466.0 53.7h.7M477.9 54.5h.7M472.6 56.8h.7M473.5 53.2h.7M484.4 54.1h.7M472.2 52.8h.7M468.8 56.8h.7M480.5 55.6h.7M479.7 54.5h.7M466.6 54.1h.7M487.7 51.4h.7M481.4 49.8h.7M480.1 54.7h.7M469.0 56.6h.7M478.7 59.1h.7M468.0 55.1h.7M478.7 55.8h.7M493.2 53.8h.7M494.4 54.1h.7M469.5 55.2h.7M473.4 58.9h.7M489.6 54.7h.7M470.6 57.6h.7M466.2 54.0h.7M495.6 47.2h.7M465.3 57.7h.7M486.0 58.9h.7M478.6 55.8h.7M475.2 60.1h.7M478.5 60.8h.7M485.3 50.6h.7M469.6 54.9h.7M484.6 57.5h.7M475.6 58.7h.7M496.9 50.3h.7M470.1 56.3h.7M482.2 56.3h.7M465.2 54.8h.7M473.9 62.4h.7M489.9 49.0h.7M486.5 48.8h.7M470.0 56.7h.7M481.1 58.7h.7M468.1 55.2h.7M489.5 51.8h.7M468.2 53.9h.7M497.7 48.5h.7M481.9 52.5h.7M483.8 51.8h.7M477.7 52.8h.7M478.8 54.9h.7M491.7 55.5h.7M478.4 56.2h.7M478.0 56.8h.7M467.3 61.7h.7M472.6 54.8h.7M479.7 53.4h.7M480.3 56.8h.7M470.7 53.4h.7M489.7 52.6h.7M473.0 59.1h.7M487.8 50.0h.7M483.4 53.1h.7M487.7 56.7h.7M490.0 49.2h.7M486.5 51.5h.7M489.0 52.7h.7M483.0 53.8h.7M470.1 54.3h.7M470.0 60.2h.7M480.1 54.3h.7M469.5 57.1h.7M473.0 55.4h.7M491.3 50.6h.7M484.0 50.8h.7M470.4 58.6h.7M465.5 55.3h.7M476.3 59.4h.7M471.2 53.6h.7M496.2 48.1h.7M483.0 55.7h.7M482.6 54.9h.7M486.4 51.6h.7M482.2 54.5h.7M473.0 53.2h.7M490.8 51.5h.7M482.0 48.5h.7M469.1 56.8h.7M464.9 59.6h.7M470.0 58.5h.7M489.9 53.8h.7M485.8 52.4h.7M474.3 57.5h.7M465.5 55.4h.7M487.5 52.5h.7M468.6 56.1h.7M471.1 58.6h.7M486.1 54.4h.7M479.5 58.0h.7M486.5 50.8h.7M468.6 58.0h.7M496.7 50.2h.7M475.0 51.0h.7M487.5 48.5h.7M472.8 56.5h.7M470.9 54.8h.7M473.7 56.3h.7M495.4 48.0h.7M484.5 57.5h.7M484.6 49.3h.7M465.5 53.1h.7M489.0 49.8h.7M485.5 50.2h.7M481.3 53.8h.7M478.2 56.3h.7M491.1 48.1h.7M482.2 55.7h.7M486.2 56.4h.7M469.9 59.0h.7M471.6 61.2h.7M471.0 59.1h.7M493.3 50.3h.7M484.3 58.3h.7M492.6 52.4h.7M468.7 60.9h.7M476.3 55.9h.7M475.1 51.3h.7M470.1 53.6h.7M480.0 56.1h.7M492.1 52.2h.7M465.6 55.9h.7M487.3 55.2h.7M494.6 47.1h.7M487.7 51.0h.7M495.0 52.1h.7M478.9 56.3h.7M485.7 53.7h.7M484.2 57.5h.7M480.3 58.2h.7M480.5 53.6h.7M489.9 52.3h.7M469.8 52.3h.7M490.0 51.7h.7M471.7 57.3h.7M477.0 52.2h.7M479.7 59.6h.7M494.9 54.6h.7M478.7 57.4h.7M478.5 58.6h.7M478.2 60.0h.7M479.5 55.5h.7M470.7 58.9h.7M492.7 51.6h.7M467.2 52.7h.7M492.5 48.6h.7M482.3 53.5h.7M486.8 55.6h.7M498.5 48.6h.7M482.9 57.0h.7M472.5 55.3h.7M486.0 50.3h.7M473.9 61.4h.7M465.0 63.0h.7M493.6 51.2h.7M488.1 52.0h.7M480.3 58.5h.7M482.9 51.9h.7M492.8 50.1h.7M472.7 53.0h.7M465.1 57.6h.7M467.8 57.0h.7M471.9 55.4h.7M465.4 54.8h.7M488.6 48.7h.7M483.4 52.4h.7M482.2 57.8h.7M464.4 55.6h.7M484.8 56.9h.7M486.6 51.0h.7M494.4 49.8h.7M494.3 48.9h.7M493.6 49.7h.7M466.5 58.3h.7M483.2 49.5h.7M467.3 58.2h.7M479.2 57.8h.7M482.6 54.7h.7M486.1 53.5h.7M465.7 55.9h.7M486.1 55.0h.7M482.1 55.1h.7M469.2 54.4h.7M489.0 52.5h.7M490.6 53.8h.7M468.5 57.3h.7M468.2 56.5h.7M482.0 55.5h.7M488.3 51.2h.7M478.7 55.2h.7M481.5 50.6h.7M469.4 56.0h.7M485.9 55.8h.7M467.8 55.5h.7M482.5 52.6h.7M490.9 53.5h.7M492.8 51.0h.7M492.9 51.0h.7M478.3 57.5h.7M465.4 58.1h.7M473.5 56.3h.7M487.8 50.6h.7M475.8 60.6h.7M475.8 56.5h.7M489.9 50.0h.7M468.8 56.9h.7M480.8 58.3h.7M497.2 45.5h.7M467.0 59.5h.7M493.4 50.1h.7M499.1 52.9h.7M465.2 58.0h.7M465.9 56.2h.7M488.8 55.3h.7M467.5 59.5h.7M491.3 50.4h.7M468.4 57.0h.7M485.4 52.4h.7M476.9 58.6h.7M484.5 50.6h.7M491.7 50.7h.7M471.4 51.3h.7M475.2 57.8h.7M468.6 51.1h.7M479.1 53.6h.7M467.3 57.0h.7M465.4 55.6h.7M489.8 50.8h.7M465.4 54.1h.7M487.9 51.5h.7M488.7 48.1h.7M476.8 57.2h.7M475.0 58.3h.7M472.7 58.2h.7M486.1 53.2h.7M469.2 59.3h.7M484.1 55.2h.7M479.0 58.4h.7M482.8 55.6h.7M491.7 51.2h.7M472.5 54.6h.7M475.7 50.1h.7M481.7 56.6h.7M476.1 56.1h.7M489.0 56.9h.7M469.5 51.7h.7M468.9 58.4h.7M481.9 52.7h.7M476.8 56.4h.7M476.8 54.3h.7M471.6 57.2h.7M483.8 54.2h.7M493.3 52.5h.7M472.9 56.8h.7M492.6 51.9h.7M491.3 54.3h.7M487.1 54.2h.7M496.4 48.9h.7M486.1 56.3h.7M495.1 49.4h.7M485.1 54.7h.7M474.9 55.6h.7M486.1 51.7h.7M490.4 44.5h.7M490.3 53.3h.7M478.7 53.5h.7M476.4 58.2h.7M469.0 60.7h.7M479.7 52.8h.7M484.2 56.2h.7M465.0 56.2h.7M477.1 57.5h.7M486.4 50.4h.7M469.3 56.5h.7M469.4 56.8h.7M485.5 57.0h.7M488.6 57.4h.7M489.6 52.7h.7M469.9 65.5h.7M499.1 59.8h.7M465.9 76.0h.7M465.1 62.6h.7M466.1 60.3h.7M471.8 59.0h.7M475.6 59.1h.7M473.2 59.4h.7M465.9 57.7h.7M493.8 62.6h.7M489.5 62.7h.7M471.5 61.0h.7M468.9 62.0h.7M467.8 61.1h.7M480.6 59.8h.7M472.2 62.5h.7M466.5 58.7h.7M471.3 62.2h.7M473.9 62.9h.7M465.2 65.2h.7M464.7 69.1h.7M473.2 61.3h.7M465.2 62.3h.7M465.7 61.3h.7M471.5 64.7h.7M474.3 63.5h.7M466.3 65.8h.7M475.6 61.1h.7M481.9 60.8h.7M467.5 62.2h.7M468.3 61.4h.7M464.6 62.5h.7M494.4 62.1h.7M478.9 70.2h.7M478.9 60.3h.7M464.9 62.3h.7M472.4 68.4h.7M469.8 60.0h.7M490.3 72.6h.7M465.1 59.7h.7M485.2 67.3h.7M473.3 75.6h.7M488.3 60.7h.7M480.2 63.4h.7M477.6 60.2h.7M480.2 63.3h.7M478.3 61.8h.7M493.5 57.7h.7M479.4 62.5h.7M468.3 65.9h.7M480.4 60.3h.7M476.4 65.1h.7M464.9 65.3h.7M472.4 60.4h.7M491.9 59.9h.7M475.7 70.2h.7M465.8 64.8h.7M493.5 57.8h.7M485.2 71.9h.7M475.1 68.8h.7M469.7 59.2h.7M470.9 58.6h.7M486.5 64.0h.7M494.3 66.3h.7M488.1 62.9h.7M483.9 59.2h.7M472.4 60.1h.7M489.7 58.7h.7M481.4 62.1h.7M464.9 63.8h.7M468.6 57.8h.7M484.3 58.8h.7M464.9 58.5h.7M468.1 70.9h.7M479.0 70.8h.7M468.8 64.9h.7M478.3 60.8h.7M464.7 58.8h.7M477.6 65.6h.7M474.5 66.2h.7M477.1 70.4h.7M479.8 62.7h.7M494.1 61.7h.7M466.6 59.1h.7M492.3 64.0h.7M473.4 59.0h.7M468.4 63.5h.7M468.2 62.3h.7M482.8 58.9h.7M470.8 60.8h.7M471.2 59.2h.7M488.7 60.4h.7M471.6 64.1h.7M468.2 64.9h.7M465.8 59.7h.7M493.5 64.8h.7M472.6 63.9h.7M479.2 70.0h.7M495.2 61.7h.7M467.1 58.5h.7M500.2 62.9h.7M475.2 64.6h.7M472.0 65.6h.7M471.6 67.7h.7M465.9 62.5h.7M471.8 58.6h.7M494.7 62.4h.7M480.4 62.2h.7M482.5 60.7h.7M468.2 62.7h.7M471.9 59.3h.7M476.5 63.3h.7M469.2 62.1h.7M469.8 65.3h.7M469.9 60.2h.7M467.1 58.6h.7M483.8 62.4h.7M470.8 64.4h.7M472.6 66.2h.7M476.2 66.8h.7M467.8 66.6h.7M468.5 61.9h.7M468.2 59.1h.7M471.9 61.2h.7M470.9 58.2h.7M491.7 63.6h.7M481.6 61.5h.7M496.3 57.9h.7M468.7 66.3h.7M481.0 68.9h.7M477.6 69.8h.7M478.4 64.0h.7M468.8 67.5h.7M483.1 65.0h.7M480.6 67.1h.7M467.9 62.6h.7M467.7 63.8h.7M490.1 59.4h.7M470.4 64.0h.7M481.5 66.4h.7M483.1 65.3h.7M482.4 58.8h.7M471.8 57.8h.7M492.5 58.1h.7M485.3 60.8h.7M489.2 62.3h.7M465.3 71.1h.7M483.5 60.4h.7M490.0 59.0h.7M468.1 63.0h.7M485.7 71.1h.7M487.7 58.4h.7M475.6 61.6h.7M469.0 63.3h.7M464.9 63.6h.7M467.9 60.0h.7M466.8 59.4h.7M474.4 63.7h.7M478.2 64.8h.7M481.8 61.4h.7M464.8 60.8h.7M476.8 68.0h.7M478.5 69.1h.7M497.6 58.1h.7M473.7 71.8h.7M473.1 60.2h.7M484.0 60.3h.7M468.2 69.2h.7M488.1 73.8h.7M478.9 58.6h.7M482.6 62.1h.7M469.0 61.3h.7M470.8 60.1h.7M473.5 63.0h.7M465.2 62.7h.7M467.8 58.9h.7M489.0 58.1h.7M473.7 60.9h.7M480.6 58.0h.7M487.6 65.3h.7M466.2 62.5h.7M472.4 59.4h.7M486.2 61.3h.7M467.0 59.3h.7M483.0 59.9h.7M466.2 58.3h.7M475.6 58.4h.7M489.4 62.7h.7M472.0 64.6h.7M473.2 59.6h.7M469.5 57.7h.7M482.7 64.6h.7M468.7 58.7h.7M468.7 60.9h.7M479.9 63.3h.7M469.3 58.9h.7M469.4 58.1h.7M478.2 59.2h.7M464.4 64.5h.7M467.6 58.6h.7M470.0 58.0h.7M465.0 63.4h.7M468.4 59.9h.7M485.1 58.9h.7M466.5 61.6h.7M466.4 60.7h.7M465.0 60.9h.7M487.9 67.8h.7M466.5 59.0h.7M484.7 62.8h.7M470.1 61.7h.7M485.5 59.8h.7M478.4 69.6h.7M469.7 58.5h.7M472.9 64.8h.7M473.3 58.5h.7M470.1 70.7h.7M474.9 63.1h.7M472.8 58.3h.7M477.8 68.1h.7M476.7 60.2h.7M472.9 74.1h.7M483.8 62.8h.7M485.9 58.8h.7M485.4 75.1h.7M474.1 63.5h.7M479.9 61.1h.7M466.9 59.3h.7M467.3 60.7h.7M464.8 63.9h.7M476.6 58.4h.7M479.1 63.2h.7M488.4 69.0h.7M480.3 73.7h.7M468.6 59.5h.7M479.5 61.7h.7M467.6 67.3h.7M480.2 61.6h.7M471.1 64.0h.7M477.7 61.5h.7M480.1 59.6h.7M468.5 62.3h.7M470.6 64.9h.7M474.7 59.0h.7M473.5 59.2h.7M475.1 59.5h.7M480.4 62.1h.7M479.3 65.6h.7M488.0 60.5h.7M478.7 59.3h.7M473.8 65.1h.7M480.0 58.1h.7M477.8 61.9h.7M478.9 66.8h.7M470.4 58.3h.7M482.7 59.6h.7M484.7 70.6h.7M476.7 72.4h.7M480.4 67.8h.7M470.8 63.4h.7M473.9 66.5h.7M470.3 59.1h.7M468.2 63.3h.7M469.0 66.8h.7M477.5 58.5h.7M464.8 60.2h.7M478.3 57.7h.7M478.0 65.8h.7M477.6 63.6h.7M478.1 60.9h.7M474.4 66.1h.7M466.7 59.0h.7M482.3 61.8h.7M490.8 59.8h.7M476.6 58.7h.7M487.5 65.4h.7M471.6 62.1h.7M466.3 61.5h.7M468.5 66.1h.7M470.0 62.8h.7M469.4 60.4h.7M490.5 59.1h.7M469.0 62.5h.7M464.9 64.6h.7M477.0 63.7h.7M477.3 59.4h.7M483.4 60.8h.7M474.7 59.2h.7M464.7 57.9h.7M466.8 57.8h.7M498.4 67.9h.7M487.5 60.4h.7M481.1 69.6h.7M469.4 58.0h.7M493.4 62.0h.7M493.2 64.4h.7M457.4 90.9h.7M452.8 79.4h.7M452.4 85.7h.7M468.0 88.1h.7M461.7 91.1h.7M459.3 93.5h.7M453.9 94.4h.7M458.8 96.4h.7M455.3 82.1h.7M459.1 93.6h.7M451.2 77.4h.7M456.0 88.6h.7M454.1 81.4h.7M448.1 77.1h.7M466.4 93.2h.7M461.2 87.5h.7M451.8 93.6h.7M447.8 78.3h.7M452.2 80.5h.7M451.5 87.1h.7M452.9 83.8h.7M447.5 88.1h.7M451.6 84.0h.7M456.8 85.7h.7M458.8 80.9h.7M444.8 95.3h.7M456.4 85.8h.7M450.6 80.7h.7M450.3 91.8h.7M454.5 90.6h.7M452.4 89.0h.7M460.5 89.0h.7M460.5 85.4h.7M454.6 86.9h.7M452.6 74.5h.7M467.0 78.4h.7M467.4 80.4h.7M458.7 89.4h.7M455.5 95.0h.7M462.4 86.7h.7M465.0 86.1h.7M453.3 94.4h.7M467.1 85.5h.7M455.5 91.6h.7M462.9 90.3h.7M453.4 79.8h.7M456.8 89.6h.7M453.7 88.9h.7M456.6 80.9h.7M462.4 81.5h.7M451.1 80.1h.7M454.7 95.9h.7M459.6 100.3h.7M453.7 91.9h.7M468.4 97.1h.7M447.8 79.7h.7M471.4 96.1h.7M452.5 99.5h.7M462.2 97.3h.7M466.0 82.1h.7M455.3 99.6h.7M457.2 99.1h.7M444.6 90.3h.7M447.5 86.8h.7M442.9 96.5h.7M464.8 104.6h.7M443.8 90.4h.7M457.1 93.0h.7M453.3 86.3h.7M441.5 103.3h.7M462.7 81.1h.7M453.6 89.8h.7M455.1 82.1h.7M460.4 91.4h.7M448.0 95.7h.7M450.3 82.6h.7M443.4 97.4h.7M464.0 86.8h.7M450.1 85.3h.7M463.2 88.7h.7M463.3 104.4h.7M450.8 103.2h.7M456.1 87.7h.7M446.0 80.5h.7M452.9 82.3h.7M448.2 91.7h.7M465.4 80.4h.7M458.2 98.0h.7M464.5 95.6h.7M446.4 90.7h.7M445.2 83.7h.7M455.8 89.5h.7M447.6 86.3h.7M452.0 99.7h.7M455.3 94.1h.7M460.4 89.0h.7M464.2 101.2h.7M444.8 98.4h.7M453.2 103.2h.7M448.3 95.1h.7M454.9 101.7h.7M451.9 104.0h.7M472.2 86.9h.7M488.3 95.8h.7M496.6 99.5h.7M494.8 92.3h.7M492.5 104.3h.7M481.9 80.9h.7M497.3 103.1h.7M483.1 81.0h.7M475.6 95.7h.7M481.3 85.1h.7M495.7 98.8h.7M467.4 99.6h.7M464.9 101.4h.7M466.8 87.5h.7M469.5 83.9h.7M473.2 99.9h.7M469.6 98.0h.7M465.1 91.8h.7M466.6 47.2h.7M471.0 52.3h.7M499.6 45.3h.7M447.4 49.0h.7M476.9 52.7h.7M493.5 49.7h.7M445.8 51.7h.7M486.2 52.0h.7M491.0 48.0h.7M455.1 44.5h.7M461.0 49.0h.7M466.3 49.2h.7M496.6 44.5h.7M497.9 46.2h.7M462.5 50.5h.7M495.1 45.9h.7M470.7 50.7h.7M477.0 46.3h.7M480.9 50.7h.7M485.8 48.8h.7M460.5 52.1h.7M462.8 45.0h.7M447.3 50.4h.7M494.2 47.2h.7" stroke="#3c3c3c" stroke-opacity="0.43" stroke-width="0.8" fill="none"/>
<rect class="bx" x="439.4" y="42.7" width="63.0" height="63.6"/>
<path class="ql" d="M465.4 42.7V106.3M439.4 80.4H502.4"/>
<path d="M439.4 106.3v1.5M439.4 106.3h-1.5M444.1 106.3v.9M439.4 101.5h-.9M446.9 106.3v.9M439.4 98.7h-.9M450.4 106.3v.9M439.4 95.2h-.9M452.7 106.3v.9M439.4 92.9h-.9M455.1 106.3v1.5M439.4 90.4h-1.5M459.9 106.3v.9M439.4 85.6h-.9M462.7 106.3v.9M439.4 82.8h-.9M466.2 106.3v.9M439.4 79.3h-.9M468.5 106.3v.9M439.4 77.0h-.9M470.9 106.3v1.5M439.4 74.5h-1.5M475.6 106.3v.9M439.4 69.7h-.9M478.4 106.3v.9M439.4 66.9h-.9M481.9 106.3v.9M439.4 63.4h-.9M484.2 106.3v.9M439.4 61.1h-.9M486.6 106.3v1.5M439.4 58.6h-1.5M491.4 106.3v.9M439.4 53.8h-.9M494.2 106.3v.9M439.4 51.0h-.9M497.7 106.3v.9M439.4 47.5h-.9M500.0 106.3v.9M439.4 45.2h-.9M502.4 106.3v1.5M439.4 42.7h-1.5" stroke="#555" stroke-width=".5" fill="none"/>
<text x="467.4" y="30.2" font-size="9.1" text-anchor="middle" class="t">CM-4T1PE</text>
<text x="470.9" y="40.9" font-size="5.3" text-anchor="middle" class="t" fill-opacity=".85">040408-3x.033</text>
<text x="435.6" y="114.6" font-size="6.4" text-anchor="start" class="t">10<tspan dy="-2.7" font-size="4.2">0</tspan></text>
<text transform="translate(436.2 109.6) rotate(-90)" font-size="6.4" text-anchor="start" class="t">10<tspan dy="-2.7" font-size="4.2">0</tspan></text>
<text x="451.3" y="114.6" font-size="6.4" text-anchor="start" class="t">10<tspan dy="-2.7" font-size="4.2">1</tspan></text>
<text transform="translate(436.2 93.7) rotate(-90)" font-size="6.4" text-anchor="start" class="t">10<tspan dy="-2.7" font-size="4.2">1</tspan></text>
<text x="467.1" y="114.6" font-size="6.4" text-anchor="start" class="t">10<tspan dy="-2.7" font-size="4.2">2</tspan></text>
<text transform="translate(436.2 78.1) rotate(-90)" font-size="6.4" text-anchor="start" class="t">10<tspan dy="-2.7" font-size="4.2">2</tspan></text>
<text x="482.8" y="114.6" font-size="6.4" text-anchor="start" class="t">10<tspan dy="-2.7" font-size="4.2">3</tspan></text>
<text transform="translate(436.2 63.0) rotate(-90)" font-size="6.4" text-anchor="start" class="t">10<tspan dy="-2.7" font-size="4.2">3</tspan></text>
<text x="498.6" y="114.6" font-size="6.4" text-anchor="start" class="t">10<tspan dy="-2.7" font-size="4.2">4</tspan></text>
<text transform="translate(436.2 48.1) rotate(-90)" font-size="6.4" text-anchor="start" class="t">10<tspan dy="-2.7" font-size="4.2">4</tspan></text>
<text transform="translate(428.2 73.7) rotate(-90)" font-size="6.4" text-anchor="middle" class="t">APC</text>
<text x="471.8" y="121.8" font-size="6.5" text-anchor="middle" class="t">PE</text>
<text x="484.6" y="74.6" font-size="9.4" text-anchor="start" class="t" fill="#000">46</text>
<path class="ar" d="M240.5 65.8V42M238.9 44.9L240.5 41.5L242.1 44.9M240.5 101.8V125.8H355.5M391.5 126.1H502.3M499.2 124.6L502.6 126.1L499.2 127.6"/>
<text transform="translate(242.8 92.7) rotate(-90)" font-size="8.6" text-anchor="start" class="t">B220</text>
<text x="362.0" y="129.4" font-size="8.8" text-anchor="start" class="t">CD25</text>
<text x="236.0" y="159.6" font-size="8.5" text-anchor="start" class="pl">C</text>
<ellipse cx="316.2" cy="231.5" rx="4.4" ry="8.8" fill="#707070" fill-opacity="0.55" filter="url(#bl)"/>
<path d="M312.6 238.4h.7M313.3 230.4h.7M309.5 231.5h.7M317.8 228.3h.7M313.7 237.5h.7M318.0 230.6h.7M311.6 230.5h.7M318.3 225.5h.7M316.9 227.3h.7M316.7 229.4h.7M317.5 229.8h.7M315.9 225.0h.7M316.0 228.8h.7M319.5 223.0h.7M312.7 227.3h.7M312.0 234.5h.7M313.5 239.4h.7M319.4 226.0h.7M314.9 235.4h.7M322.3 226.3h.7M305.8 240.2h.7M313.6 226.6h.7M314.5 222.8h.7M316.9 240.2h.7M320.4 228.5h.7M315.4 225.8h.7M312.6 230.6h.7M318.8 238.2h.7M321.1 229.4h.7M307.5 230.7h.7M317.9 234.4h.7M317.0 222.2h.7M313.2 239.4h.7M314.4 235.6h.7M317.0 233.3h.7M316.1 228.7h.7M312.1 223.2h.7M316.9 221.9h.7M313.8 233.3h.7M316.3 234.9h.7M314.1 224.7h.7M316.7 238.2h.7M318.5 230.3h.7M316.8 228.3h.7M318.2 235.7h.7M311.4 229.7h.7M317.5 225.0h.7M317.0 230.1h.7M313.9 222.6h.7M315.5 227.8h.7M306.7 233.1h.7M316.3 223.4h.7M314.6 230.3h.7M308.5 231.1h.7M317.7 222.5h.7M313.9 225.9h.7M316.9 222.7h.7M315.2 231.9h.7M317.6 234.2h.7M316.3 221.9h.7M315.0 232.8h.7M317.6 238.5h.7M318.7 222.7h.7M308.5 233.3h.7M316.1 228.0h.7M314.0 224.6h.7M312.3 238.7h.7M320.3 227.8h.7M319.2 238.2h.7M312.6 239.3h.7M312.3 226.7h.7M318.7 238.7h.7M313.9 239.4h.7M314.9 221.8h.7M309.5 238.9h.7M315.5 234.1h.7M319.7 221.9h.7M314.5 232.0h.7M315.6 238.4h.7M321.7 238.3h.7M318.9 239.1h.7M320.7 231.8h.7M318.1 223.8h.7M319.9 228.5h.7M310.5 227.6h.7M313.3 233.9h.7M310.5 227.0h.7M316.6 227.8h.7M315.6 230.8h.7M313.5 234.2h.7M312.6 237.6h.7M306.7 222.6h.7M315.7 228.1h.7M316.2 234.0h.7M311.3 235.8h.7M315.8 235.6h.7M317.2 224.8h.7M315.7 224.7h.7M318.0 238.6h.7M313.2 227.9h.7M317.0 235.3h.7M318.9 222.1h.7M317.8 233.4h.7M317.2 226.3h.7M315.6 234.8h.7M312.7 223.4h.7M317.8 238.9h.7M314.7 235.1h.7M312.9 233.9h.7M318.5 231.0h.7M310.7 237.2h.7M314.1 230.3h.7M318.5 234.2h.7M319.1 229.5h.7M314.7 222.1h.7M316.2 230.7h.7M317.8 237.4h.7M315.7 234.2h.7M313.4 223.5h.7M317.4 222.4h.7M316.5 225.2h.7M316.3 234.0h.7M319.7 227.7h.7M317.0 226.6h.7M314.5 238.7h.7M316.5 222.0h.7M322.4 237.7h.7M313.6 228.6h.7M315.1 237.5h.7M313.3 227.4h.7M317.1 231.8h.7M311.8 224.6h.7M317.4 227.2h.7M318.5 234.3h.7M313.4 235.0h.7M313.2 225.1h.7M311.1 234.2h.7M312.3 233.5h.7M313.9 227.2h.7M314.6 235.0h.7M313.7 233.2h.7M318.7 234.6h.7M321.2 238.0h.7M308.9 239.9h.7M313.3 224.8h.7M316.8 226.6h.7M312.5 224.4h.7M320.6 236.4h.7M319.9 233.9h.7M315.0 224.9h.7M316.4 227.7h.7M314.8 224.4h.7M315.4 228.8h.7M312.1 223.7h.7M310.1 222.2h.7M314.8 222.9h.7M319.2 230.4h.7M318.5 224.9h.7M309.8 222.9h.7M315.3 236.4h.7M313.9 236.6h.7M316.9 240.1h.7M312.4 237.4h.7M319.0 240.2h.7M315.3 234.5h.7M317.9 232.1h.7M318.9 229.8h.7M309.6 228.3h.7M315.3 222.1h.7M321.0 235.6h.7M316.0 228.0h.7M319.4 236.0h.7M317.4 240.1h.7M314.3 237.1h.7M316.9 231.6h.7M319.5 232.6h.7M320.2 239.0h.7M320.8 226.4h.7M312.3 233.2h.7M318.7 233.4h.7M311.4 233.5h.7M315.6 227.4h.7M315.3 230.7h.7M318.1 231.6h.7M317.0 237.2h.7M314.0 222.8h.7M318.8 237.3h.7M317.3 231.2h.7M316.0 234.3h.7M312.0 232.3h.7M317.9 237.4h.7M317.0 229.7h.7M318.6 229.5h.7M315.9 232.5h.7M317.3 230.0h.7M317.5 230.0h.7M318.3 231.6h.7M314.0 224.9h.7M322.6 233.4h.7M306.2 233.6h.7M319.1 239.1h.7M313.3 228.6h.7M322.6 233.7h.7M313.1 226.7h.7M319.5 229.3h.7M312.7 223.3h.7M312.3 227.2h.7M318.6 229.3h.7M318.9 227.6h.7M313.7 229.8h.7M314.9 226.7h.7M321.1 228.5h.7M312.7 234.8h.7M312.8 233.9h.7M312.7 224.5h.7M317.5 237.4h.7M308.9 223.4h.7M316.6 226.2h.7M314.1 222.1h.7M312.8 231.5h.7M316.7 222.0h.7M315.3 223.1h.7M314.5 234.3h.7M318.7 234.4h.7M317.0 223.6h.7M317.2 233.8h.7M320.4 230.1h.7M315.8 238.6h.7M318.7 233.0h.7M314.6 232.0h.7M317.7 227.2h.7M314.2 230.6h.7M311.0 236.8h.7M311.8 235.8h.7M312.9 222.6h.7M317.8 222.0h.7M315.5 227.2h.7M317.6 223.1h.7M318.4 222.2h.7M320.6 239.7h.7M314.0 224.5h.7M317.8 227.9h.7M318.3 238.5h.7M312.9 229.5h.7M316.4 222.7h.7M313.0 229.9h.7M315.3 235.9h.7M317.4 224.9h.7M310.4 227.0h.7M313.1 228.3h.7M313.3 222.0h.7M316.3 235.1h.7M313.6 223.6h.7M317.2 226.0h.7M313.2 230.5h.7M314.3 236.5h.7M318.0 223.4h.7M316.5 231.6h.7M315.9 225.0h.7M319.3 225.3h.7M320.5 232.2h.7M314.8 223.6h.7M313.6 225.0h.7M312.6 240.3h.7M321.7 238.8h.7M313.1 233.7h.7M311.7 236.3h.7M316.9 223.9h.7M319.4 227.1h.7M311.9 222.1h.7M315.6 233.1h.7M311.3 221.9h.7M313.7 223.8h.7M316.5 223.5h.7M316.2 232.3h.7M316.9 231.3h.7M315.7 224.3h.7M312.1 229.4h.7M312.1 228.6h.7M322.6 235.3h.7M319.9 228.1h.7M313.6 222.3h.7M318.3 231.2h.7M315.3 229.8h.7M322.6 236.5h.7M312.9 234.2h.7M315.2 232.3h.7M313.2 224.5h.7M313.4 237.3h.7M314.8 226.5h.7M312.9 233.6h.7M314.9 225.5h.7M321.2 226.3h.7M310.3 233.9h.7M311.9 236.3h.7M314.5 235.1h.7M319.3 234.2h.7M318.4 233.4h.7M317.6 227.4h.7M316.7 239.5h.7M312.3 222.8h.7M312.2 231.0h.7M315.9 228.4h.7M316.7 224.8h.7M315.2 235.2h.7M313.2 237.5h.7M311.7 239.2h.7M315.1 238.7h.7M314.4 225.5h.7M312.4 232.9h.7M320.4 229.7h.7M317.5 235.9h.7M322.1 235.2h.7M314.3 223.2h.7M316.2 227.1h.7M315.2 226.1h.7M316.1 223.2h.7M315.2 227.1h.7M315.5 231.1h.7M309.5 227.8h.7M315.1 224.7h.7M318.3 237.4h.7M309.6 223.1h.7M314.9 226.5h.7M317.9 235.1h.7M320.1 229.7h.7M315.7 234.3h.7M317.5 223.3h.7M321.7 240.0h.7M320.2 229.4h.7M314.5 237.8h.7M314.0 229.9h.7M319.3 237.9h.7M316.7 222.4h.7M314.2 227.2h.7M317.0 223.2h.7M315.3 238.3h.7M315.2 229.1h.7M315.2 231.2h.7M311.1 227.3h.7M321.7 228.6h.7M321.0 230.9h.7M315.6 224.5h.7M316.4 236.6h.7M317.9 225.9h.7M318.7 232.2h.7M310.0 237.0h.7M317.2 230.6h.7M312.7 223.6h.7M315.8 236.0h.7M313.8 239.8h.7M321.6 234.9h.7M317.8 239.9h.7M315.9 230.9h.7M320.6 225.8h.7M315.8 228.3h.7M313.6 237.2h.7M315.4 240.0h.7M314.8 227.0h.7M316.2 237.8h.7M318.8 236.5h.7M315.6 226.2h.7M315.8 237.8h.7M319.3 230.0h.7M316.9 224.6h.7M319.1 232.7h.7M316.4 226.7h.7M311.7 232.3h.7M312.3 240.3h.7M310.6 225.7h.7M319.7 232.5h.7M317.4 231.8h.7M314.4 225.1h.7M312.8 233.6h.7M317.2 226.6h.7M315.6 239.4h.7M317.0 238.4h.7M313.2 232.1h.7M312.4 226.6h.7M321.1 224.6h.7M312.9 226.2h.7M315.9 232.0h.7M320.4 233.2h.7M310.0 224.4h.7M318.3 236.3h.7M316.2 231.2h.7M316.9 229.5h.7M312.1 230.8h.7M308.7 237.1h.7M322.2 229.8h.7M315.1 237.0h.7M318.9 232.3h.7M319.6 224.1h.7M316.9 239.3h.7M317.5 239.2h.7M318.3 224.3h.7M321.2 228.2h.7M317.6 232.8h.7M320.1 223.8h.7M315.0 229.6h.7M314.6 223.1h.7M316.3 232.1h.7M317.3 231.2h.7M317.8 239.8h.7M322.4 237.4h.7M318.7 227.0h.7M316.2 235.0h.7M322.5 240.4h.7M317.1 224.3h.7M317.2 232.1h.7M317.6 224.6h.7M314.9 226.7h.7M312.4 231.4h.7M316.4 222.0h.7M315.0 231.1h.7M313.2 227.5h.7M316.4 223.0h.7M315.4 232.1h.7M314.1 225.7h.7M310.2 225.7h.7M315.5 240.1h.7M321.7 230.3h.7M318.9 232.4h.7M319.5 223.8h.7M315.9 240.3h.7M319.5 233.2h.7M313.8 227.5h.7M314.5 234.7h.7M317.7 234.3h.7M311.4 231.2h.7M316.2 230.1h.7M317.0 223.6h.7M321.5 236.5h.7M313.7 222.6h.7M317.4 223.0h.7M313.9 233.9h.7M314.2 238.7h.7M307.2 239.2h.7M312.9 226.1h.7M319.8 237.6h.7M317.7 225.3h.7M316.5 225.5h.7M317.8 233.0h.7M312.0 232.1h.7M315.3 239.5h.7M315.8 231.5h.7M321.3 228.8h.7M313.1 230.8h.7M317.4 225.4h.7M319.2 235.8h.7M313.4 225.2h.7M316.3 231.2h.7M309.5 223.6h.7M316.3 235.8h.7M308.8 228.8h.7M314.8 237.0h.7M321.6 225.1h.7M317.4 231.3h.7M316.2 238.7h.7M316.5 236.0h.7M317.8 223.7h.7M319.4 233.4h.7M314.6 229.7h.7M312.6 235.4h.7M315.4 235.0h.7M319.2 229.7h.7M318.1 223.5h.7M315.6 223.7h.7M314.2 239.4h.7M306.6 226.0h.7M314.1 233.1h.7M317.0 234.2h.7M318.2 239.3h.7M306.0 230.0h.7M308.2 226.7h.7M316.5 239.4h.7M312.6 233.7h.7M314.5 236.9h.7M317.9 234.7h.7M310.0 231.0h.7M314.2 221.8h.7M319.1 237.7h.7M316.7 228.7h.7M313.3 222.9h.7M317.5 236.1h.7M313.1 236.1h.7M318.3 225.2h.7M318.2 228.5h.7M315.6 228.4h.7M319.1 227.7h.7M312.2 235.0h.7M318.5 235.8h.7M315.4 227.2h.7M313.0 229.4h.7M314.1 228.0h.7M319.8 226.8h.7M314.2 234.5h.7M314.9 237.3h.7M313.9 235.7h.7M319.2 240.1h.7M320.4 237.0h.7M317.7 229.0h.7M318.5 236.3h.7M314.4 227.1h.7M312.2 228.6h.7M320.7 222.3h.7M314.9 239.4h.7M313.7 237.2h.7M313.9 224.2h.7M316.6 230.4h.7M314.2 227.4h.7M316.1 228.5h.7M316.6 230.3h.7M320.4 240.1h.7M312.0 227.9h.7M317.0 233.0h.7M313.8 236.2h.7M314.6 235.5h.7M321.3 222.5h.7M318.1 228.5h.7M314.8 237.9h.7M317.6 225.2h.7M316.0 230.5h.7M319.6 237.1h.7M314.4 225.8h.7M317.6 231.3h.7M315.4 240.3h.7M316.1 223.7h.7M315.5 227.3h.7M314.0 222.3h.7M316.4 222.9h.7M319.2 237.4h.7M314.1 232.1h.7M314.8 233.7h.7M317.2 226.9h.7M313.6 235.5h.7M318.9 224.6h.7M318.3 225.7h.7M308.5 223.0h.7M313.9 240.2h.7M312.5 228.2h.7M318.7 227.4h.7M319.1 230.0h.7M312.1 226.3h.7M313.8 239.5h.7M315.8 227.2h.7M314.8 222.7h.7M318.4 238.1h.7M319.2 235.9h.7M318.0 225.3h.7M319.6 229.1h.7M319.1 224.9h.7M315.8 239.3h.7M314.6 239.5h.7M313.6 222.8h.7M318.7 226.0h.7M318.9 229.8h.7M319.3 233.8h.7M315.0 237.9h.7M314.8 239.2h.7M316.9 239.9h.7M320.1 233.0h.7M317.2 236.2h.7M316.8 239.1h.7M313.4 236.2h.7M317.5 230.8h.7M317.8 237.9h.7M313.0 234.0h.7M321.8 227.4h.7M313.1 222.4h.7M319.1 236.6h.7M315.4 222.2h.7M316.6 237.1h.7M313.5 236.9h.7M314.2 225.5h.7M318.3 238.4h.7M315.4 232.6h.7M314.9 240.3h.7M318.9 239.9h.7M318.4 222.3h.7M316.6 226.4h.7M316.8 237.6h.7M321.6 232.0h.7M315.5 224.6h.7M317.3 231.7h.7M317.4 228.6h.7M311.5 229.3h.7M309.8 223.9h.7M316.5 233.6h.7M318.9 237.9h.7M316.7 229.3h.7M314.3 227.9h.7M313.9 239.3h.7M318.7 234.0h.7M310.8 238.2h.7M318.3 225.9h.7M316.8 235.4h.7M317.3 224.8h.7M319.4 225.0h.7M320.4 234.2h.7M317.9 222.4h.7M315.5 226.3h.7M317.0 227.5h.7M315.6 235.7h.7M320.3 235.5h.7M320.2 232.3h.7M317.6 238.1h.7M320.5 225.7h.7M315.8 224.5h.7M315.9 237.2h.7M313.3 228.5h.7M315.0 225.7h.7M316.7 231.8h.7M319.5 235.2h.7M313.7 232.0h.7M318.6 237.5h.7M311.7 237.3h.7M315.2 239.6h.7M316.1 233.1h.7M319.3 234.9h.7M322.5 232.9h.7M320.1 227.6h.7M315.9 226.6h.7M313.3 235.8h.7M315.9 224.6h.7M315.9 229.7h.7M316.8 229.0h.7M313.1 239.1h.7M321.0 232.2h.7M313.7 227.0h.7M318.3 230.3h.7M316.7 223.0h.7M312.5 227.2h.7M316.3 235.0h.7M316.1 226.6h.7M315.4 227.6h.7M318.7 239.5h.7M314.5 227.1h.7M313.1 223.5h.7M307.9 229.7h.7M320.1 237.3h.7M316.9 236.7h.7M316.3 233.9h.7M312.9 235.6h.7M311.3 224.6h.7M310.0 223.0h.7M321.3 239.2h.7M314.2 225.3h.7M322.1 235.2h.7M310.0 223.3h.7M318.3 239.0h.7M318.3 236.7h.7M313.2 238.2h.7M312.6 234.4h.7M316.2 239.0h.7M319.3 223.6h.7M317.4 222.7h.7M319.7 236.2h.7M310.2 233.2h.7M322.6 226.5h.7M315.9 234.9h.7M311.7 234.6h.7M314.8 228.4h.7M313.9 222.8h.7M317.0 232.3h.7M308.4 223.7h.7M320.1 237.3h.7M321.7 238.8h.7M312.6 229.0h.7M320.8 237.2h.7M320.1 223.1h.7M319.3 235.4h.7M311.5 236.3h.7M318.4 227.0h.7M312.7 229.5h.7M312.8 230.3h.7M319.7 237.0h.7M318.1 230.2h.7M316.1 235.4h.7M316.5 223.2h.7M318.0 228.3h.7M321.7 222.6h.7M313.7 228.4h.7M314.2 225.2h.7M314.1 231.2h.7M315.8 228.2h.7M316.0 222.9h.7M311.8 224.9h.7M317.0 229.8h.7M311.9 233.5h.7M315.0 226.9h.7M315.2 229.6h.7M315.2 240.2h.7M320.9 229.7h.7M321.4 231.2h.7M319.6 231.4h.7M321.2 239.8h.7M315.1 225.0h.7M320.6 230.9h.7M315.8 237.5h.7M316.8 232.1h.7M316.9 228.3h.7M311.6 229.1h.7M314.0 225.6h.7M315.5 234.8h.7M317.2 238.2h.7M315.6 235.9h.7M313.2 222.8h.7M312.2 237.0h.7M316.0 236.3h.7M312.1 229.1h.7M312.1 227.3h.7M316.6 224.5h.7M313.3 237.1h.7M310.1 227.0h.7M316.9 232.3h.7M318.7 235.4h.7M314.7 239.6h.7M314.8 236.8h.7M308.3 223.4h.7M319.0 238.6h.7M318.4 222.5h.7M314.1 227.5h.7M315.5 238.9h.7M315.4 232.1h.7M310.1 222.0h.7M316.4 224.7h.7M313.3 238.6h.7M315.2 233.8h.7M320.5 233.6h.7M309.9 222.7h.7M316.4 224.3h.7M317.3 237.7h.7M313.5 228.6h.7M310.6 222.4h.7M311.7 231.9h.7M314.6 238.1h.7M318.4 233.1h.7M316.3 222.9h.7M321.3 238.5h.7M316.3 230.1h.7M316.6 232.7h.7M316.7 229.7h.7M317.9 232.3h.7M312.3 237.7h.7M314.7 240.2h.7M311.9 238.3h.7M316.4 225.9h.7M317.0 225.5h.7M316.4 236.2h.7M316.0 234.9h.7M314.2 240.3h.7M322.6 228.8h.7M309.4 225.3h.7M312.6 229.9h.7M320.9 239.1h.7M317.8 232.4h.7M313.5 227.9h.7M313.0 231.5h.7M315.2 236.0h.7M317.6 235.4h.7M312.6 230.3h.7M316.8 238.8h.7M313.9 237.4h.7M320.9 236.7h.7M317.0 222.7h.7M320.2 232.2h.7M316.5 222.9h.7M322.7 228.7h.7M317.4 225.1h.7M316.9 231.3h.7M312.6 226.0h.7M314.6 227.9h.7M317.3 236.4h.7M314.4 236.8h.7M316.0 236.0h.7M313.5 228.7h.7M319.3 222.6h.7M314.3 223.0h.7M317.3 233.0h.7M313.6 231.7h.7M320.6 230.8h.7M316.3 238.5h.7M319.6 229.0h.7M314.9 226.1h.7M311.3 240.2h.7M311.9 221.8h.7M314.3 232.1h.7M315.4 225.2h.7M316.2 226.6h.7M317.7 240.0h.7M311.9 234.9h.7M316.8 232.4h.7M308.3 220.2h.7M313.2 215.5h.7M314.1 219.3h.7M317.7 217.4h.7M313.4 222.0h.7M311.8 218.8h.7M317.2 212.7h.7M316.5 222.0h.7M317.6 207.5h.7M315.5 215.2h.7M318.6 218.9h.7M316.9 218.7h.7M309.8 220.4h.7M316.0 220.1h.7M317.7 216.3h.7M315.5 222.6h.7M319.9 214.0h.7M313.9 216.7h.7M317.5 216.1h.7M311.5 216.7h.7M315.3 220.6h.7M313.6 221.5h.7M312.2 216.9h.7M311.3 213.8h.7M316.0 219.6h.7M316.7 210.3h.7M313.4 214.5h.7M311.5 213.6h.7M312.6 215.4h.7M317.7 212.1h.7M311.6 211.1h.7M318.9 219.9h.7M310.2 215.2h.7M316.2 205.8h.7M317.4 219.9h.7M319.1 212.3h.7M314.0 214.0h.7M313.0 213.2h.7M310.9 221.1h.7M318.2 218.8h.7M315.0 222.6h.7M313.9 220.6h.7M314.1 220.9h.7M316.1 217.0h.7M315.5 215.5h.7M319.0 218.3h.7M308.7 213.4h.7M318.0 221.4h.7M313.7 213.9h.7M315.1 221.2h.7M314.4 218.2h.7M315.1 213.0h.7M317.7 208.6h.7M316.0 216.7h.7M310.9 215.1h.7M315.2 213.3h.7M315.1 215.9h.7M316.5 217.3h.7M315.5 218.7h.7M315.1 211.4h.7M318.5 222.0h.7M312.0 213.8h.7M322.1 217.1h.7M313.6 216.3h.7M312.2 212.4h.7M317.8 214.7h.7M318.7 210.4h.7M319.3 215.2h.7M319.9 208.6h.7M316.9 205.4h.7M315.6 209.6h.7M316.6 214.5h.7M315.4 220.3h.7M313.7 212.1h.7M320.4 221.7h.7M321.0 221.4h.7M315.4 218.0h.7M314.7 216.2h.7M313.9 222.5h.7M310.2 215.4h.7M313.3 219.9h.7M313.8 217.6h.7M315.3 222.3h.7M312.3 213.8h.7M309.5 216.9h.7M317.4 220.0h.7M320.7 213.7h.7M308.8 212.9h.7M315.0 222.4h.7M318.1 208.7h.7M311.8 222.6h.7M311.0 219.0h.7M315.5 216.4h.7M314.7 219.2h.7M313.4 217.6h.7M320.5 222.0h.7M320.1 221.7h.7M317.4 218.8h.7M315.2 215.8h.7M314.4 210.8h.7M318.2 210.1h.7M314.7 213.8h.7M320.0 212.7h.7M319.3 219.0h.7M313.6 214.0h.7M317.8 215.9h.7M320.3 218.2h.7M317.5 213.2h.7M312.5 217.1h.7M314.6 220.5h.7M314.4 216.9h.7M315.9 215.2h.7M315.6 213.3h.7M314.4 219.8h.7M318.2 222.1h.7M319.7 208.2h.7M313.8 217.2h.7M310.9 219.8h.7M316.7 218.8h.7M315.5 211.7h.7M316.8 221.4h.7M313.4 219.4h.7M316.4 214.7h.7M312.7 218.6h.7M318.9 217.5h.7M320.8 207.3h.7M312.7 219.3h.7M307.5 219.5h.7M314.0 220.2h.7M313.9 210.9h.7M316.2 219.9h.7M315.6 210.0h.7M317.1 215.4h.7M313.9 213.4h.7M314.4 218.4h.7M316.9 221.0h.7M309.9 220.1h.7M318.0 221.9h.7M313.7 222.7h.7M311.2 217.4h.7M313.0 222.2h.7M317.2 215.4h.7M318.2 208.0h.7M319.5 216.3h.7M317.0 218.6h.7M313.4 222.7h.7M317.4 219.4h.7M315.4 217.7h.7M309.3 217.9h.7M320.6 216.4h.7M318.0 221.3h.7M316.9 213.1h.7M315.4 214.0h.7M313.9 220.0h.7M312.7 221.7h.7M310.8 219.9h.7M322.0 221.9h.7M318.6 222.7h.7M317.8 213.2h.7M316.8 218.2h.7M309.7 211.3h.7M314.8 210.7h.7M316.1 212.8h.7M319.3 220.3h.7M312.6 219.3h.7M316.5 210.1h.7M315.0 214.3h.7M315.8 218.8h.7M313.3 209.6h.7M316.8 222.1h.7M316.0 221.4h.7M309.9 222.6h.7M319.5 216.9h.7M322.5 221.4h.7M313.0 222.1h.7M319.3 210.0h.7M312.7 218.6h.7M314.1 196.3h.7M321.2 217.8h.7M316.4 222.1h.7M320.4 217.5h.7M316.7 215.2h.7M318.9 222.0h.7M315.2 215.9h.7M320.2 210.2h.7M321.3 217.1h.7M317.9 219.7h.7M314.0 220.6h.7M314.6 218.8h.7M312.8 220.6h.7M317.7 214.7h.7M317.4 220.0h.7M313.6 214.7h.7M318.6 214.5h.7M314.0 218.2h.7M321.4 220.6h.7M318.3 219.9h.7M320.7 217.6h.7M313.6 220.1h.7M312.7 221.4h.7M310.1 209.4h.7M317.8 221.5h.7M312.3 210.6h.7M320.0 221.8h.7M316.3 220.4h.7M318.2 218.9h.7M311.8 222.2h.7M314.0 214.7h.7M316.4 218.8h.7M318.1 221.4h.7M311.8 217.3h.7M316.9 220.1h.7M313.3 221.9h.7M318.3 215.7h.7M315.1 221.7h.7M314.9 208.4h.7M317.2 209.5h.7M319.4 212.1h.7M315.1 220.1h.7M319.6 212.0h.7M312.7 207.4h.7M316.7 211.2h.7M312.4 212.7h.7M316.5 218.9h.7M313.0 214.3h.7M315.9 216.4h.7M317.8 218.2h.7M312.8 220.4h.7M310.4 212.5h.7M315.3 208.7h.7M317.4 220.5h.7M316.5 211.5h.7M313.0 214.6h.7M318.4 220.2h.7M314.9 213.1h.7M318.2 212.9h.7M313.1 221.8h.7M317.2 208.1h.7M319.5 218.7h.7M313.8 214.3h.7M314.9 214.5h.7M317.7 217.0h.7M317.4 217.0h.7M316.9 208.9h.7M315.4 204.7h.7M311.0 208.6h.7M315.8 216.5h.7M311.8 221.5h.7M316.1 199.8h.7M308.6 219.8h.7M320.2 220.5h.7M321.7 213.2h.7M317.2 208.0h.7M313.2 218.8h.7M314.9 214.4h.7M318.5 216.7h.7M317.8 215.8h.7M313.6 220.7h.7M319.5 211.4h.7M318.0 212.0h.7M317.4 219.6h.7M314.7 212.8h.7M315.8 216.4h.7M313.6 216.0h.7M316.4 221.8h.7M313.7 217.6h.7M319.4 219.2h.7M315.9 210.8h.7M316.4 214.0h.7M316.8 220.1h.7M316.8 217.3h.7M311.4 217.4h.7M319.7 218.3h.7M316.1 217.9h.7M314.1 220.0h.7M312.8 214.4h.7M313.7 222.4h.7M313.9 216.8h.7M315.8 218.7h.7M313.1 212.6h.7M316.1 215.7h.7M316.2 217.9h.7M313.6 218.2h.7M322.6 222.0h.7M315.4 221.3h.7M316.8 211.8h.7M316.1 222.8h.7M315.3 220.1h.7M317.8 216.7h.7M320.0 218.7h.7M315.5 220.7h.7M313.1 216.1h.7M317.4 208.0h.7M309.1 221.7h.7M316.2 211.1h.7M315.2 221.7h.7M316.7 211.5h.7M311.1 222.1h.7M295.9 210.1h.7M294.9 222.7h.7M300.0 225.6h.7M287.6 221.8h.7M301.3 219.8h.7M301.3 237.5h.7M303.2 216.0h.7M294.5 221.2h.7M303.6 224.2h.7M299.1 211.9h.7M288.4 208.3h.7M307.3 229.0h.7M306.8 229.0h.7M301.0 222.9h.7M303.7 208.5h.7M296.7 218.1h.7M301.8 224.0h.7M295.6 225.8h.7M293.5 230.1h.7M296.0 224.4h.7M300.4 229.9h.7M301.0 236.1h.7M297.4 200.7h.7M306.3 231.6h.7M306.7 219.4h.7M295.0 224.4h.7M303.0 224.0h.7M306.1 214.2h.7M305.2 215.0h.7M302.9 226.0h.7M298.4 219.5h.7M294.5 226.4h.7M300.8 218.3h.7M294.5 217.9h.7M303.4 240.2h.7M299.4 214.8h.7M306.5 227.9h.7M305.5 232.5h.7M305.7 211.6h.7M297.9 212.6h.7M301.1 225.2h.7M303.8 232.3h.7M304.1 234.3h.7M307.3 228.0h.7M304.8 231.7h.7M306.0 212.9h.7M300.8 218.0h.7M301.2 234.2h.7M306.3 218.2h.7M299.1 219.1h.7M295.4 205.3h.7M304.8 221.0h.7M301.4 208.1h.7M303.9 225.5h.7M302.2 234.7h.7M290.6 221.8h.7M292.7 221.0h.7M303.4 218.8h.7M286.7 222.8h.7M303.0 212.6h.7M301.8 217.9h.7M307.3 212.0h.7M298.4 216.1h.7M306.9 211.1h.7M307.2 233.8h.7M305.5 220.7h.7M288.5 207.5h.7M301.7 211.0h.7M301.5 231.3h.7M292.6 225.3h.7M301.8 228.7h.7M300.1 220.8h.7M301.4 229.5h.7M306.2 234.2h.7M292.6 225.2h.7M306.1 209.0h.7M295.7 203.3h.7M301.4 209.0h.7M296.7 222.8h.7M306.0 209.9h.7M303.7 212.9h.7M298.6 221.2h.7M293.6 212.1h.7M301.8 210.7h.7M292.3 227.6h.7M304.4 226.6h.7M288.7 225.2h.7M296.0 228.1h.7M298.7 233.3h.7M304.4 221.9h.7M305.8 221.0h.7M296.9 205.2h.7M297.5 218.4h.7M306.3 217.5h.7M299.3 230.0h.7M302.5 227.5h.7M305.9 235.3h.7M306.0 232.0h.7M300.1 231.3h.7M300.0 225.6h.7M303.2 223.1h.7M307.3 219.6h.7M289.8 218.3h.7M304.3 213.9h.7M300.4 224.5h.7M291.8 218.2h.7M306.2 205.0h.7M298.3 197.2h.7M304.2 215.8h.7M306.4 218.5h.7M292.9 216.6h.7M299.4 232.0h.7M302.7 216.2h.7M292.6 208.1h.7M306.9 226.0h.7M298.3 229.2h.7M305.8 236.6h.7M299.7 212.1h.7M301.4 219.1h.7M297.0 216.5h.7M307.0 235.7h.7M303.8 227.9h.7M292.7 219.3h.7M306.9 228.9h.7M301.9 218.3h.7M305.8 220.6h.7M300.8 220.8h.7M305.8 218.0h.7M286.8 206.7h.7M289.5 207.4h.7M316.7 235.3h.7M283.0 210.6h.7M312.0 210.2h.7M317.2 226.4h.7M284.8 210.8h.7M281.9 210.8h.7" stroke="#3c3c3c" stroke-opacity="0.43" stroke-width="0.8" fill="none"/>
<rect class="bx" x="262.4" y="178.8" width="61.6" height="62.4"/>
<path class="ql" d="M308.2 178.8V241.2M262.4 220.6H324.0"/>
<path d="M262.4 241.2v1.5M262.4 241.2h-1.5M267.0 241.2v.9M262.4 236.5h-.9M269.7 241.2v.9M262.4 233.8h-.9M273.2 241.2v.9M262.4 230.3h-.9M275.4 241.2v.9M262.4 228.0h-.9M277.8 241.2v1.5M262.4 225.6h-1.5M282.4 241.2v.9M262.4 220.9h-.9M285.1 241.2v.9M262.4 218.2h-.9M288.6 241.2v.9M262.4 214.7h-.9M290.8 241.2v.9M262.4 212.4h-.9M293.2 241.2v1.5M262.4 210.0h-1.5M297.8 241.2v.9M262.4 205.3h-.9M300.5 241.2v.9M262.4 202.6h-.9M304.0 241.2v.9M262.4 199.1h-.9M306.2 241.2v.9M262.4 196.8h-.9M308.6 241.2v1.5M262.4 194.4h-1.5M313.2 241.2v.9M262.4 189.7h-.9M315.9 241.2v.9M262.4 187.0h-.9M319.4 241.2v.9M262.4 183.5h-.9M321.6 241.2v.9M262.4 181.2h-.9M324.0 241.2v1.5M262.4 178.8h-1.5" stroke="#555" stroke-width=".5" fill="none"/>
<text x="289.7" y="166.2" font-size="9.1" text-anchor="middle" class="t">PBS</text>
<text x="293.2" y="175.9" font-size="5.3" text-anchor="middle" class="t" fill-opacity=".85">081409-B-72.005</text>
<text x="258.6" y="249.6" font-size="6.4" text-anchor="start" class="t">10<tspan dy="-2.7" font-size="4.2">0</tspan></text>
<text transform="translate(259.2 244.5) rotate(-90)" font-size="6.4" text-anchor="start" class="t">10<tspan dy="-2.7" font-size="4.2">0</tspan></text>
<text x="274.0" y="249.6" font-size="6.4" text-anchor="start" class="t">10<tspan dy="-2.7" font-size="4.2">1</tspan></text>
<text transform="translate(259.2 228.9) rotate(-90)" font-size="6.4" text-anchor="start" class="t">10<tspan dy="-2.7" font-size="4.2">1</tspan></text>
<text x="289.4" y="249.6" font-size="6.4" text-anchor="start" class="t">10<tspan dy="-2.7" font-size="4.2">2</tspan></text>
<text transform="translate(259.2 213.6) rotate(-90)" font-size="6.4" text-anchor="start" class="t">10<tspan dy="-2.7" font-size="4.2">2</tspan></text>
<text x="304.8" y="249.6" font-size="6.4" text-anchor="start" class="t">10<tspan dy="-2.7" font-size="4.2">3</tspan></text>
<text transform="translate(259.2 198.8) rotate(-90)" font-size="6.4" text-anchor="start" class="t">10<tspan dy="-2.7" font-size="4.2">3</tspan></text>
<text x="320.2" y="249.6" font-size="6.4" text-anchor="start" class="t">10<tspan dy="-2.7" font-size="4.2">4</tspan></text>
<text transform="translate(259.2 184.2) rotate(-90)" font-size="6.4" text-anchor="start" class="t">10<tspan dy="-2.7" font-size="4.2">4</tspan></text>
<text transform="translate(250.9 210.2) rotate(-90)" font-size="6.4" text-anchor="middle" class="t">CD25-APC</text>
<text x="293.5" y="257.4" font-size="6.8" text-anchor="middle" class="t">CFSE</text>
<text x="267.6" y="189.5" font-size="9.4" text-anchor="start" class="t" fill="#000">1</text>
<text x="314.0" y="189.5" font-size="9.4" text-anchor="start" class="t" fill="#000">6</text>
<ellipse cx="388.5" cy="215.0" rx="8.5" ry="10" fill="#707070" fill-opacity="0.24" filter="url(#bl)"/>
<ellipse cx="405.2" cy="225.0" rx="2.6" ry="9" fill="#707070" fill-opacity="0.36" filter="url(#bl)"/>
<path d="M392.0 207.6h.7M397.8 206.0h.7M388.3 206.4h.7M379.9 213.9h.7M394.7 213.1h.7M387.2 206.4h.7M380.0 214.1h.7M393.5 207.3h.7M388.2 214.7h.7M396.9 220.5h.7M379.5 209.1h.7M387.9 214.1h.7M396.1 206.9h.7M385.1 213.9h.7M390.7 214.5h.7M393.3 219.5h.7M382.6 220.8h.7M394.8 211.9h.7M396.6 209.5h.7M388.3 206.3h.7M390.1 203.2h.7M384.0 215.0h.7M382.4 226.8h.7M383.3 219.1h.7M390.9 215.0h.7M393.4 209.8h.7M379.4 206.5h.7M387.2 206.8h.7M384.9 224.8h.7M395.1 218.0h.7M383.5 203.9h.7M390.0 206.3h.7M389.7 214.5h.7M388.3 219.9h.7M388.9 222.8h.7M387.3 223.0h.7M389.5 198.4h.7M377.5 212.6h.7M389.7 215.5h.7M385.3 207.2h.7M386.0 218.5h.7M386.5 225.5h.7M387.2 210.2h.7M382.9 225.6h.7M386.2 205.7h.7M389.6 206.2h.7M393.0 207.2h.7M385.9 208.1h.7M381.3 216.7h.7M383.6 214.7h.7M393.9 217.4h.7M389.2 220.4h.7M391.1 209.7h.7M387.7 207.1h.7M385.8 210.2h.7M391.8 208.0h.7M395.3 221.1h.7M388.5 208.1h.7M388.2 211.4h.7M388.3 209.4h.7M392.4 208.7h.7M394.2 217.4h.7M400.9 214.4h.7M386.1 226.8h.7M385.5 203.2h.7M397.8 211.7h.7M389.3 211.7h.7M382.8 222.7h.7M393.1 210.2h.7M391.4 222.5h.7M386.5 202.9h.7M382.1 212.3h.7M377.3 220.8h.7M389.2 204.1h.7M387.6 212.2h.7M398.2 210.7h.7M389.6 208.8h.7M397.1 206.7h.7M393.6 216.2h.7M384.7 221.5h.7M377.7 212.4h.7M377.4 217.1h.7M394.1 208.7h.7M391.7 210.6h.7M387.3 216.1h.7M392.4 211.0h.7M382.5 220.4h.7M397.7 205.5h.7M390.3 220.9h.7M391.6 214.4h.7M385.6 213.7h.7M392.4 212.9h.7M390.5 226.4h.7M390.8 223.0h.7M384.4 221.2h.7M387.2 215.1h.7M392.4 228.3h.7M386.5 208.2h.7M377.8 213.8h.7M382.3 213.3h.7M385.5 221.1h.7M385.5 213.4h.7M386.6 221.5h.7M394.4 215.8h.7M386.9 224.4h.7M389.4 221.4h.7M385.5 221.0h.7M388.1 212.6h.7M396.6 213.9h.7M382.6 223.2h.7M397.4 203.2h.7M387.6 202.0h.7M389.8 205.9h.7M390.6 207.2h.7M391.5 214.8h.7M385.5 220.2h.7M393.3 208.8h.7M387.0 215.6h.7M384.2 220.7h.7M391.5 217.3h.7M395.2 220.2h.7M388.2 209.6h.7M393.2 223.5h.7M381.3 206.7h.7M383.3 220.3h.7M386.9 209.1h.7M384.1 207.2h.7M391.0 228.5h.7M400.7 208.8h.7M390.1 203.5h.7M381.5 206.6h.7M388.6 203.1h.7M379.4 201.1h.7M383.2 224.5h.7M381.3 201.9h.7M394.7 220.9h.7M399.8 212.7h.7M384.7 199.3h.7M390.2 205.4h.7M391.5 203.2h.7M395.8 205.4h.7M384.1 215.1h.7M391.7 225.0h.7M401.5 218.5h.7M381.5 216.0h.7M389.9 220.3h.7M383.3 219.3h.7M395.5 217.4h.7M388.8 207.6h.7M386.1 223.0h.7M388.6 223.3h.7M392.6 206.7h.7M384.2 221.7h.7M380.6 211.8h.7M382.1 207.6h.7M390.6 214.7h.7M383.9 222.6h.7M393.8 210.9h.7M386.2 210.1h.7M391.5 217.3h.7M399.2 213.1h.7M395.8 207.7h.7M388.0 204.8h.7M397.2 215.1h.7M383.6 219.0h.7M386.7 217.0h.7M390.1 217.8h.7M379.7 205.9h.7M386.0 224.2h.7M383.5 208.7h.7M390.2 229.1h.7M400.5 210.1h.7M384.2 217.6h.7M397.0 217.4h.7M393.6 211.9h.7M392.2 221.7h.7M399.3 215.1h.7M394.9 214.2h.7M386.5 223.1h.7M389.8 200.6h.7M393.3 215.8h.7M394.2 207.2h.7M392.7 206.5h.7M387.0 225.7h.7M389.0 218.8h.7M394.0 215.2h.7M384.8 207.5h.7M376.1 220.9h.7M390.9 206.1h.7M379.4 222.4h.7M385.2 215.0h.7M381.5 219.2h.7M388.7 224.3h.7M392.3 215.2h.7M386.0 209.2h.7M386.3 215.4h.7M392.9 213.6h.7M385.0 210.5h.7M382.2 209.5h.7M393.5 214.8h.7M391.1 229.5h.7M391.3 209.1h.7M388.5 205.2h.7M392.2 221.8h.7M387.8 217.7h.7M391.4 213.7h.7M381.3 212.0h.7M396.3 222.2h.7M395.8 211.6h.7M392.5 226.9h.7M387.7 229.7h.7M391.5 207.5h.7M381.3 218.0h.7M380.7 221.9h.7M376.0 214.0h.7M386.6 213.1h.7M385.7 225.1h.7M378.3 201.7h.7M388.6 229.3h.7M383.0 202.0h.7M385.0 222.0h.7M393.3 216.5h.7M379.1 219.8h.7M387.0 227.3h.7M392.4 207.5h.7M390.5 209.2h.7M384.1 216.0h.7M395.4 210.7h.7M388.0 210.3h.7M391.1 219.9h.7M376.6 212.0h.7M384.3 210.2h.7M390.3 212.3h.7M401.0 207.9h.7M395.9 205.1h.7M380.3 215.8h.7M391.1 209.3h.7M385.0 208.9h.7M386.7 216.2h.7M390.3 220.3h.7M381.2 205.8h.7M382.8 220.4h.7M396.8 208.6h.7M382.3 220.7h.7M394.2 216.0h.7M384.8 209.9h.7M386.8 201.9h.7M389.4 216.7h.7M393.4 205.1h.7M390.3 210.2h.7M393.8 218.9h.7M387.6 220.5h.7M392.6 211.6h.7M385.7 212.6h.7M395.3 208.0h.7M382.5 225.7h.7M392.9 229.4h.7M392.6 208.7h.7M389.2 211.0h.7M391.1 214.6h.7M387.3 213.6h.7M385.7 217.1h.7M396.1 204.5h.7M391.9 210.2h.7M388.4 209.4h.7M390.6 217.4h.7M395.6 212.2h.7M386.4 206.6h.7M385.8 202.1h.7M395.5 201.4h.7M384.8 213.7h.7M383.5 211.4h.7M401.6 221.9h.7M387.1 214.3h.7M380.8 210.4h.7M387.2 223.1h.7M393.2 218.2h.7M397.5 205.4h.7M396.1 227.6h.7M382.3 206.2h.7M387.8 206.1h.7M382.1 212.2h.7M398.2 210.4h.7M390.2 229.0h.7M395.5 208.3h.7M394.4 208.1h.7M384.4 211.9h.7M383.7 218.5h.7M391.7 211.4h.7M383.3 222.0h.7M397.9 210.0h.7M395.7 221.8h.7M390.0 215.8h.7M388.9 211.6h.7M393.0 207.2h.7M382.8 218.2h.7M383.5 209.7h.7M383.1 207.0h.7M390.4 224.0h.7M381.3 214.7h.7M384.2 210.9h.7M391.9 213.4h.7M382.2 212.9h.7M389.7 213.0h.7M382.7 219.1h.7M388.2 221.0h.7M400.1 213.5h.7M394.1 207.7h.7M388.0 206.5h.7M383.8 210.7h.7M384.5 209.1h.7M392.2 218.7h.7M399.6 218.6h.7M386.5 224.1h.7M382.3 216.3h.7M393.0 222.5h.7M385.6 222.6h.7M398.2 223.3h.7M380.2 220.5h.7M387.1 216.9h.7M383.2 207.0h.7M396.6 216.9h.7M392.0 207.2h.7M401.2 207.9h.7M390.0 218.4h.7M394.4 222.8h.7M389.8 210.6h.7M379.8 213.6h.7M387.7 225.9h.7M389.6 223.9h.7M394.2 221.0h.7M392.0 212.8h.7M382.8 209.3h.7M391.7 219.0h.7M397.4 212.9h.7M387.7 223.3h.7M393.8 203.2h.7M387.4 199.6h.7M380.4 219.0h.7M383.6 203.0h.7M383.0 213.3h.7M387.9 198.8h.7M393.7 227.3h.7M397.0 218.8h.7M384.1 217.4h.7M392.3 207.5h.7M385.8 203.2h.7M387.8 223.8h.7M393.2 215.1h.7M385.3 214.2h.7M388.3 207.3h.7M390.0 208.9h.7M391.7 224.0h.7M381.3 220.0h.7M392.4 220.0h.7M381.0 222.3h.7M394.0 222.4h.7M385.0 207.1h.7M391.7 209.2h.7M398.0 213.9h.7M392.9 219.2h.7M389.5 224.7h.7M397.9 210.1h.7M385.2 205.7h.7M384.8 203.2h.7M393.9 217.4h.7M393.3 209.2h.7M388.9 218.3h.7M396.8 216.9h.7M399.6 217.9h.7M389.9 221.8h.7M382.1 205.7h.7M381.4 218.9h.7M386.9 226.5h.7M396.8 220.6h.7M394.6 226.6h.7M389.5 215.8h.7M385.9 217.5h.7M398.8 214.2h.7M396.6 217.3h.7M397.4 206.7h.7M380.1 218.3h.7M388.9 206.8h.7M386.1 212.1h.7M388.5 212.9h.7M399.8 218.7h.7M396.9 222.7h.7M393.3 210.9h.7M396.4 223.8h.7M387.7 216.6h.7M379.1 211.4h.7M391.5 225.3h.7M391.3 212.9h.7M381.2 218.2h.7M392.6 220.5h.7M389.3 209.6h.7M381.9 213.6h.7M387.5 224.4h.7M384.5 220.8h.7M378.7 211.6h.7M383.5 215.6h.7M382.2 216.6h.7M392.5 220.0h.7M390.5 215.2h.7M381.4 220.3h.7M394.0 209.5h.7M390.2 220.0h.7M388.5 219.9h.7M394.0 215.2h.7M380.4 222.9h.7M389.1 209.9h.7M390.9 203.8h.7M389.1 202.6h.7M397.5 220.9h.7M382.4 221.6h.7M393.2 210.8h.7M377.7 207.8h.7M391.4 220.2h.7M397.0 203.7h.7M394.3 212.0h.7M385.8 204.7h.7M379.9 210.7h.7M386.8 223.4h.7M381.8 222.4h.7M381.8 220.1h.7M384.7 211.9h.7M381.4 212.5h.7M393.6 221.8h.7M385.0 207.6h.7M390.1 205.4h.7M396.4 229.6h.7M397.8 216.8h.7M378.6 215.7h.7M386.7 222.9h.7M398.7 213.1h.7M392.3 220.2h.7M391.5 202.1h.7M385.7 209.5h.7M394.1 223.4h.7M386.9 208.6h.7M377.8 207.0h.7M392.9 207.3h.7M394.6 207.0h.7M383.4 210.2h.7M394.9 201.9h.7M389.8 216.5h.7M382.8 221.6h.7M388.1 211.1h.7M384.0 222.6h.7M387.4 224.8h.7M390.6 204.8h.7M390.9 209.3h.7M393.7 211.7h.7M390.9 202.0h.7M393.1 213.8h.7M389.6 206.6h.7M399.7 226.6h.7M400.8 217.5h.7M390.2 216.3h.7M393.0 210.6h.7M393.2 206.9h.7M400.4 213.0h.7M392.1 210.8h.7M380.9 203.7h.7M390.3 212.4h.7M397.0 218.9h.7M380.7 204.8h.7M395.0 205.2h.7M384.6 212.5h.7M392.2 209.0h.7M389.0 209.9h.7M385.1 223.0h.7M385.3 225.1h.7M389.9 219.3h.7M388.9 224.2h.7M380.7 206.1h.7M384.8 214.3h.7M394.1 207.5h.7M393.6 222.1h.7M396.3 218.8h.7M394.8 219.6h.7M392.5 222.8h.7M391.9 200.0h.7M395.8 221.6h.7M383.2 214.8h.7M395.7 209.2h.7M381.8 206.6h.7M390.2 224.0h.7M391.8 203.6h.7M389.3 205.5h.7M388.4 212.9h.7M386.0 219.9h.7M383.9 211.1h.7M393.4 216.9h.7M386.7 208.3h.7M389.9 227.0h.7M381.0 205.3h.7M388.3 213.8h.7M378.6 219.9h.7M394.4 211.4h.7M392.6 216.5h.7M391.0 201.1h.7M389.8 216.8h.7M390.5 198.0h.7M398.5 214.2h.7M384.5 214.6h.7M393.1 213.5h.7M391.6 220.1h.7M386.8 223.1h.7M399.2 204.8h.7M383.3 219.0h.7M390.1 209.0h.7M390.1 205.3h.7M388.2 205.4h.7M394.2 217.3h.7M393.4 209.5h.7M394.8 223.4h.7M398.3 213.0h.7M387.5 207.9h.7M383.5 222.7h.7M389.5 217.3h.7M396.1 218.8h.7M383.7 210.3h.7M387.9 218.3h.7M379.7 215.0h.7M381.9 207.6h.7M392.6 217.7h.7M388.2 212.3h.7M396.6 215.9h.7M392.9 217.5h.7M392.7 210.4h.7M382.5 213.7h.7M392.0 220.5h.7M390.0 208.7h.7M382.3 225.3h.7M380.0 220.8h.7M395.9 225.9h.7M400.8 213.2h.7M392.4 208.6h.7M386.1 213.0h.7M384.4 215.2h.7M383.2 218.7h.7M382.6 206.0h.7M382.0 209.1h.7M391.4 204.4h.7M387.3 217.3h.7M392.8 209.9h.7M393.2 216.4h.7M393.2 208.1h.7M385.1 219.6h.7M381.1 211.5h.7M386.0 209.6h.7M392.1 214.7h.7M384.2 218.3h.7M383.8 212.5h.7M388.9 208.0h.7M384.0 216.0h.7M387.9 202.3h.7M397.3 202.2h.7M397.9 213.7h.7M384.6 210.0h.7M381.1 208.6h.7M385.9 217.0h.7M393.6 217.0h.7M390.6 217.9h.7M385.6 220.6h.7M387.7 202.6h.7M386.4 198.4h.7M378.2 211.2h.7M385.0 222.5h.7M387.3 216.8h.7M393.9 215.6h.7M387.2 221.4h.7M389.8 228.6h.7M383.7 219.1h.7M397.7 218.4h.7M382.2 220.4h.7M391.3 221.2h.7M391.4 214.5h.7M400.3 214.8h.7M387.5 203.5h.7M383.6 219.8h.7M377.9 206.2h.7M391.6 227.7h.7M391.9 212.1h.7M381.7 210.8h.7M383.1 220.4h.7M384.7 220.2h.7M385.7 211.9h.7M387.9 205.9h.7M395.6 210.9h.7M394.2 216.4h.7M394.1 218.0h.7M381.5 216.1h.7M392.4 211.1h.7M397.6 222.4h.7M392.3 210.0h.7M384.2 212.8h.7M391.2 214.6h.7M400.5 216.5h.7M385.5 222.1h.7M391.8 212.8h.7M384.8 210.7h.7M387.9 225.3h.7M384.6 220.6h.7M391.1 212.7h.7M378.1 218.1h.7M395.4 216.3h.7M384.9 207.0h.7M380.1 210.4h.7M396.6 205.1h.7M391.0 217.7h.7M387.3 207.8h.7M385.6 206.0h.7M384.0 215.0h.7M389.4 209.2h.7M390.5 204.7h.7M382.9 200.7h.7M393.5 224.6h.7M392.7 224.7h.7M383.2 210.1h.7M395.1 213.1h.7M403.3 210.9h.7M381.5 213.7h.7M387.5 209.1h.7M388.1 222.5h.7M386.2 205.5h.7M399.3 211.9h.7M390.9 214.3h.7M390.3 209.1h.7M391.2 206.0h.7M391.8 216.3h.7M385.1 218.9h.7M395.7 205.0h.7M384.6 219.5h.7M390.2 207.3h.7M395.9 214.6h.7M391.5 214.3h.7M393.5 219.1h.7M386.9 209.3h.7M392.5 213.8h.7M389.6 206.7h.7M392.3 208.0h.7M395.5 205.2h.7M392.7 215.7h.7M387.7 207.8h.7M389.2 209.1h.7M398.2 214.9h.7M398.4 214.7h.7M389.5 220.7h.7M390.2 211.1h.7M388.6 204.4h.7M387.8 211.5h.7M403.2 214.9h.7M385.9 219.4h.7M390.8 209.2h.7M397.6 225.2h.7M399.3 218.0h.7M396.4 210.6h.7M383.4 213.0h.7M391.8 224.2h.7M389.1 222.1h.7M394.5 205.5h.7M381.5 215.4h.7M386.2 227.8h.7M390.1 202.7h.7M392.2 216.6h.7M392.6 221.6h.7M378.9 210.6h.7M390.1 222.0h.7M392.1 206.3h.7M391.4 214.1h.7M397.4 211.4h.7M388.3 211.1h.7M384.4 221.4h.7M388.7 217.9h.7M393.5 217.3h.7M385.9 218.7h.7M388.0 200.3h.7M397.5 219.0h.7M389.6 225.4h.7M382.8 206.2h.7M390.7 221.0h.7M382.5 210.0h.7M387.9 211.8h.7M393.5 223.9h.7M393.9 211.4h.7M377.1 214.6h.7M395.9 214.8h.7M399.1 205.6h.7M386.7 215.1h.7M399.2 225.5h.7M394.9 208.9h.7M392.5 219.6h.7M384.3 215.6h.7M382.2 200.4h.7M395.9 212.3h.7M392.6 212.2h.7M390.3 207.5h.7M388.3 212.3h.7M395.4 221.4h.7M395.3 216.1h.7M391.0 221.6h.7M380.6 203.7h.7M394.5 217.2h.7M396.7 219.5h.7M396.5 220.6h.7M382.9 204.2h.7M382.7 207.7h.7M389.1 226.9h.7M386.9 218.3h.7M393.8 217.1h.7M384.0 211.4h.7M387.7 215.8h.7M388.9 207.5h.7M387.5 211.2h.7M383.3 217.0h.7M395.3 214.9h.7M391.7 226.2h.7M390.2 210.6h.7M382.5 226.3h.7M393.2 222.2h.7M388.8 215.4h.7M392.4 206.9h.7M397.2 211.4h.7M402.9 203.7h.7M390.7 212.7h.7M395.3 211.1h.7M390.0 213.4h.7M390.7 209.1h.7M382.2 204.1h.7M388.2 225.0h.7M393.0 212.9h.7M381.7 228.4h.7M389.1 222.3h.7M394.1 212.8h.7M388.7 215.6h.7M397.7 221.0h.7M379.9 207.6h.7M392.3 210.9h.7M383.8 216.7h.7M387.3 207.3h.7M393.3 221.2h.7M392.1 206.1h.7M385.2 218.9h.7M391.4 218.6h.7M386.9 208.8h.7M378.5 213.8h.7M384.2 219.7h.7M382.2 226.8h.7M391.3 221.7h.7M390.1 205.4h.7M385.2 213.1h.7M391.2 210.1h.7M397.7 212.3h.7M377.6 221.3h.7M391.6 200.6h.7M390.6 217.0h.7M388.4 212.0h.7M382.8 205.1h.7M388.4 201.2h.7M389.6 204.6h.7M381.4 215.5h.7M391.9 205.0h.7M392.2 218.1h.7M392.3 207.3h.7M384.6 215.8h.7M390.4 214.4h.7M398.9 211.4h.7M386.7 203.3h.7M389.7 210.7h.7M394.7 222.9h.7M394.4 207.5h.7M381.6 214.8h.7M388.9 229.4h.7M389.8 213.9h.7M395.7 209.5h.7M393.1 214.0h.7M385.8 212.9h.7M386.0 212.0h.7M395.9 206.6h.7M386.7 208.7h.7M398.4 211.9h.7M383.9 213.0h.7M393.6 218.6h.7M383.9 213.6h.7M385.4 216.9h.7M389.2 203.4h.7M393.5 204.9h.7M397.8 218.2h.7M392.2 221.5h.7M399.6 219.2h.7M395.5 204.5h.7M394.3 221.2h.7M389.9 206.1h.7M391.2 228.9h.7M392.4 212.6h.7M382.7 214.8h.7M394.6 209.5h.7M393.8 211.6h.7M395.3 213.3h.7M394.8 218.2h.7M395.0 207.1h.7M388.3 208.5h.7M384.9 217.9h.7M389.9 227.2h.7M383.3 206.7h.7M386.9 209.7h.7M388.5 226.5h.7M389.0 205.9h.7M385.4 216.2h.7M388.5 206.9h.7M390.0 205.8h.7M382.5 214.5h.7M396.1 210.1h.7M380.9 206.6h.7M389.9 214.0h.7M384.2 224.5h.7M383.7 225.0h.7M393.9 209.4h.7M383.6 201.8h.7M379.2 213.5h.7M393.2 213.5h.7M390.5 212.7h.7M382.6 208.7h.7M380.6 215.3h.7M399.5 207.2h.7M383.7 213.0h.7M381.8 224.5h.7M388.9 222.1h.7M387.8 216.1h.7M392.0 202.9h.7M386.8 225.6h.7M397.3 208.5h.7M390.9 204.0h.7M392.2 219.9h.7M391.9 220.1h.7M392.5 206.9h.7M386.2 207.0h.7M397.6 200.4h.7M392.1 207.7h.7M398.3 220.6h.7M381.4 203.9h.7M390.1 223.9h.7M384.1 216.6h.7M394.1 220.0h.7M394.6 202.2h.7M377.9 220.9h.7M391.9 214.8h.7M395.5 219.2h.7M381.7 216.8h.7M382.9 222.9h.7M387.2 204.7h.7M392.5 218.0h.7M385.2 214.0h.7M399.6 213.4h.7M382.3 218.5h.7M391.4 216.9h.7M392.5 219.8h.7M388.7 210.9h.7M392.0 220.2h.7M391.0 209.3h.7M385.7 211.1h.7M388.1 222.6h.7M395.1 219.6h.7M387.0 221.1h.7M388.0 223.0h.7M383.5 219.5h.7M384.9 209.4h.7M386.4 209.4h.7M387.9 221.1h.7M381.9 207.6h.7M392.6 225.9h.7M394.3 203.6h.7M380.3 216.8h.7M396.9 217.3h.7M399.8 217.2h.7M388.4 218.5h.7M395.3 209.2h.7M398.0 208.3h.7M385.7 220.2h.7M387.2 214.0h.7M387.4 209.9h.7M402.0 216.4h.7M392.9 212.5h.7M389.3 211.6h.7M396.3 216.1h.7M392.2 209.7h.7M385.8 221.1h.7M392.8 210.1h.7M379.0 223.8h.7M386.1 211.2h.7M391.3 226.3h.7M379.9 207.3h.7M393.9 214.5h.7M395.0 210.8h.7M385.0 213.1h.7M401.4 217.1h.7M388.5 215.3h.7M396.4 208.4h.7M391.3 227.7h.7M390.7 224.4h.7M386.1 222.0h.7M383.0 216.4h.7M396.4 222.8h.7M393.9 221.9h.7M386.5 206.0h.7M386.4 210.4h.7M388.2 207.2h.7M396.0 207.9h.7M384.8 216.7h.7M381.9 215.4h.7M381.6 208.0h.7M399.9 210.7h.7M390.8 210.4h.7M393.3 199.9h.7M385.3 216.6h.7M389.4 227.0h.7M392.9 207.2h.7M384.2 214.6h.7M383.0 216.0h.7M394.4 221.1h.7M379.8 217.9h.7M393.6 217.3h.7M387.3 204.9h.7M388.4 217.3h.7M373.4 216.3h.7M375.1 216.2h.7M395.3 215.6h.7M398.4 212.0h.7M392.6 222.9h.7M388.8 200.4h.7M393.0 214.4h.7M388.3 216.9h.7M385.3 221.8h.7M393.9 217.5h.7M392.2 218.0h.7M377.1 214.3h.7M382.7 215.2h.7M389.3 216.2h.7M380.5 213.7h.7M387.3 204.7h.7M387.3 214.9h.7M391.3 216.6h.7M386.9 226.1h.7M394.1 223.0h.7M392.8 214.8h.7M398.0 216.3h.7M394.3 215.6h.7M394.0 223.6h.7M395.4 204.9h.7M382.6 222.0h.7M387.6 221.8h.7M392.7 213.3h.7M379.2 219.3h.7M379.1 214.6h.7M393.9 207.9h.7M391.5 197.7h.7M382.1 211.5h.7M397.5 212.7h.7M377.8 216.2h.7M388.8 209.2h.7M380.8 213.4h.7M395.9 221.2h.7M385.6 204.4h.7M393.2 213.7h.7M381.3 212.8h.7M382.7 213.8h.7M393.8 200.4h.7M381.6 224.6h.7M387.2 220.3h.7M381.7 223.1h.7M385.6 217.8h.7M387.8 205.9h.7M390.9 200.5h.7M381.6 214.5h.7M388.8 210.5h.7M395.9 207.2h.7M397.0 209.4h.7M389.7 199.9h.7M397.0 216.4h.7M388.3 226.4h.7M390.4 208.4h.7M385.9 216.9h.7M382.2 216.1h.7M391.6 211.5h.7M380.4 215.5h.7M382.4 211.2h.7M392.6 221.6h.7M384.3 208.3h.7M387.4 226.4h.7M385.3 219.9h.7M380.5 220.3h.7M392.0 218.7h.7M390.0 225.5h.7M379.7 212.6h.7M384.3 219.0h.7M383.9 211.2h.7M394.9 210.0h.7M385.5 223.4h.7M384.6 209.4h.7M382.7 205.4h.7M391.0 223.5h.7M393.6 204.6h.7M378.7 216.3h.7M393.9 201.0h.7M394.6 216.5h.7M386.1 213.0h.7M388.1 218.4h.7M398.5 222.8h.7M399.0 212.9h.7M387.9 208.1h.7M393.8 207.3h.7M386.8 208.7h.7M379.6 214.8h.7M385.7 212.5h.7M387.6 217.0h.7M381.7 210.4h.7M386.0 208.1h.7M378.0 207.6h.7M382.9 214.1h.7M381.8 224.4h.7M392.7 213.0h.7M382.6 209.2h.7M391.8 222.5h.7M392.0 216.8h.7M390.5 204.5h.7M393.8 214.3h.7M380.1 212.9h.7M388.6 222.5h.7M400.2 217.7h.7M389.0 219.2h.7M383.7 221.1h.7M389.9 199.4h.7M393.6 215.7h.7M390.5 215.1h.7M391.3 205.7h.7M388.9 219.9h.7M389.6 219.1h.7M398.3 224.9h.7M382.5 204.8h.7M386.4 211.2h.7M395.3 205.7h.7M392.9 220.7h.7M390.2 206.9h.7M398.6 219.2h.7M392.6 210.1h.7M377.4 215.4h.7M399.0 220.3h.7M394.7 212.4h.7M395.8 212.6h.7M378.8 212.5h.7M395.7 210.0h.7M396.2 213.5h.7M379.1 215.1h.7M387.8 207.0h.7M393.3 216.2h.7M389.0 211.2h.7M397.1 207.1h.7M389.1 223.4h.7M397.8 222.3h.7M391.5 223.3h.7M384.6 215.0h.7M388.1 220.7h.7M384.8 209.7h.7M398.9 213.9h.7M393.1 216.7h.7M403.8 213.1h.7M388.9 212.0h.7M385.2 211.7h.7M381.6 219.9h.7M388.8 207.0h.7M400.4 226.2h.7M397.9 219.4h.7M380.8 207.1h.7M390.8 225.6h.7M388.9 220.6h.7M389.2 222.2h.7M387.0 217.6h.7M385.1 213.2h.7M403.8 205.3h.7M389.9 210.7h.7M381.6 212.4h.7M390.9 220.4h.7M386.8 228.2h.7M391.4 208.6h.7M397.1 219.0h.7M394.6 207.7h.7M389.4 213.0h.7M388.7 201.9h.7M390.5 203.7h.7M380.7 209.5h.7M393.1 202.9h.7M390.0 207.3h.7M388.2 213.3h.7M392.4 209.5h.7M394.3 224.1h.7M384.4 216.9h.7M395.0 212.4h.7M390.5 226.0h.7M383.9 222.5h.7M400.8 203.3h.7M391.5 205.1h.7M395.6 207.0h.7M400.0 204.2h.7M386.0 208.7h.7M395.8 226.1h.7M387.0 216.0h.7M390.2 212.8h.7M384.1 220.4h.7M395.2 210.3h.7M388.3 206.9h.7M384.0 208.1h.7M399.5 217.9h.7M378.4 220.0h.7M396.0 215.2h.7M379.2 209.4h.7M391.4 225.5h.7M395.1 225.0h.7M391.6 213.5h.7M390.0 215.6h.7M389.0 209.2h.7M387.6 205.4h.7M387.4 204.0h.7M391.2 207.7h.7M384.8 216.1h.7M391.4 201.3h.7M388.0 204.2h.7M386.4 209.9h.7M392.7 220.9h.7M390.9 213.9h.7M382.5 210.7h.7M389.9 201.7h.7M395.1 217.5h.7M390.8 212.9h.7M393.8 216.9h.7M387.9 216.9h.7M393.0 212.7h.7M389.5 217.9h.7M387.9 214.4h.7M395.5 206.8h.7M392.0 210.8h.7M394.1 203.1h.7M385.4 205.5h.7M385.3 219.0h.7M381.2 213.0h.7M393.9 213.6h.7M401.5 211.5h.7M385.8 207.6h.7M388.6 223.7h.7M388.2 224.0h.7M386.6 203.8h.7M379.2 214.3h.7M395.5 212.7h.7M386.2 223.7h.7M395.0 225.3h.7M389.9 207.4h.7M393.6 215.1h.7M388.0 217.1h.7M382.2 219.0h.7M389.8 212.0h.7M382.8 209.2h.7M396.0 201.9h.7M391.9 210.8h.7M390.2 217.2h.7M394.8 222.3h.7M384.0 203.9h.7M382.5 224.5h.7M398.8 208.5h.7M392.8 226.1h.7M392.9 216.9h.7M385.3 223.4h.7M384.6 202.3h.7M381.4 205.3h.7M391.1 224.3h.7M397.7 208.5h.7M387.8 208.7h.7M392.3 206.3h.7M385.9 217.0h.7M402.0 219.5h.7M385.2 202.9h.7M388.6 207.9h.7M400.8 205.0h.7M387.6 215.3h.7M390.7 215.5h.7M396.6 207.5h.7M397.0 217.9h.7M384.8 220.7h.7M398.8 209.6h.7M390.8 207.6h.7M391.9 216.6h.7M394.9 203.0h.7M387.7 218.5h.7M386.8 225.7h.7M391.3 215.8h.7M387.1 216.6h.7M395.3 207.8h.7M388.7 213.3h.7M390.5 220.6h.7M395.9 229.0h.7M388.7 210.6h.7M382.8 217.0h.7M391.7 215.7h.7M397.1 214.0h.7M395.5 216.3h.7M391.6 222.4h.7M389.9 210.2h.7M397.1 217.4h.7M397.0 216.7h.7M399.8 212.3h.7M390.5 215.8h.7M382.6 221.5h.7M394.3 218.4h.7M394.2 208.0h.7M393.0 203.1h.7M398.6 215.0h.7M384.6 220.0h.7M396.9 204.8h.7M385.8 218.3h.7M396.6 209.4h.7M381.5 222.1h.7M390.9 216.8h.7M387.2 215.0h.7M390.3 206.2h.7M397.6 219.5h.7M392.5 205.1h.7M390.8 207.9h.7M387.9 226.5h.7M379.1 210.4h.7M381.9 212.6h.7M398.5 216.2h.7M395.3 204.8h.7M396.3 216.2h.7M388.2 217.2h.7M386.4 220.9h.7M395.1 209.4h.7M402.6 210.3h.7M391.0 217.9h.7M384.2 220.0h.7M392.4 218.4h.7M389.1 224.0h.7M394.5 215.6h.7M395.9 212.4h.7M385.8 222.1h.7M392.7 225.0h.7M394.7 221.4h.7M386.0 219.8h.7M394.8 206.5h.7M379.5 212.4h.7M388.0 202.3h.7M400.7 208.0h.7M387.9 216.8h.7M394.8 226.3h.7M383.8 221.6h.7M395.6 215.1h.7M394.6 216.5h.7M380.9 223.2h.7M388.9 222.8h.7M393.9 208.0h.7M398.0 205.6h.7M394.5 214.7h.7M381.8 219.0h.7M382.6 217.7h.7M399.0 221.6h.7M399.0 213.2h.7M399.8 215.7h.7M391.9 204.3h.7M395.0 210.8h.7M389.8 203.7h.7M391.3 210.2h.7M387.6 218.3h.7M391.7 212.5h.7M381.9 225.3h.7M397.1 208.4h.7M387.5 210.4h.7M389.0 212.9h.7M390.2 211.9h.7M381.0 208.0h.7M396.5 215.9h.7M394.8 220.0h.7M394.1 217.5h.7M389.6 221.1h.7M385.4 220.5h.7M385.2 211.0h.7M382.0 213.5h.7M382.4 205.5h.7M385.4 222.6h.7M395.1 216.4h.7M389.1 199.8h.7M391.2 212.3h.7M397.0 206.7h.7M397.1 205.0h.7M382.5 214.2h.7M395.2 222.6h.7M391.0 223.7h.7M384.0 219.2h.7M385.1 221.5h.7M387.4 205.8h.7M378.4 217.2h.7M382.2 206.5h.7M381.2 222.9h.7M391.9 204.9h.7M382.0 212.3h.7M392.2 209.3h.7M383.2 212.2h.7M395.3 214.3h.7M396.9 204.9h.7M387.4 222.6h.7M385.9 214.6h.7M400.3 216.1h.7M386.5 215.2h.7M383.1 206.5h.7M398.3 209.9h.7M378.2 213.1h.7M397.7 218.2h.7M378.9 220.9h.7M380.1 213.9h.7M396.2 209.2h.7M399.4 210.4h.7M386.0 223.9h.7M395.8 217.5h.7M376.9 212.8h.7M384.5 222.6h.7M390.5 200.3h.7M388.0 219.8h.7M394.9 222.5h.7M387.2 217.8h.7M384.2 215.9h.7M391.5 206.8h.7M382.2 213.7h.7M389.8 213.2h.7M391.5 216.0h.7M396.3 214.0h.7M383.9 216.2h.7M380.5 212.8h.7M389.6 214.5h.7M388.6 210.2h.7M395.8 211.3h.7M388.7 212.4h.7M383.3 211.0h.7M395.4 207.0h.7M392.6 205.1h.7M397.0 208.6h.7M395.9 219.2h.7M386.6 221.3h.7M396.7 207.0h.7M386.8 220.6h.7M385.1 212.4h.7M381.8 210.7h.7M392.0 214.5h.7M385.0 213.7h.7M387.9 219.5h.7M384.6 214.9h.7M391.0 211.1h.7M389.7 224.2h.7M402.0 216.2h.7M390.7 221.0h.7M391.8 208.3h.7M393.0 217.9h.7M379.8 209.1h.7M388.0 215.3h.7M387.7 208.6h.7M393.4 224.7h.7M399.5 209.6h.7M399.2 214.2h.7M396.5 203.9h.7M392.0 211.3h.7M395.3 219.6h.7M376.3 203.8h.7M394.3 221.1h.7M388.0 219.4h.7M380.2 209.1h.7M399.1 209.8h.7M397.5 217.7h.7M386.1 208.5h.7M386.4 208.5h.7M391.8 223.1h.7M388.7 208.5h.7M383.6 222.5h.7M401.6 215.3h.7M386.8 225.5h.7M383.0 207.7h.7M381.9 206.9h.7M395.4 218.2h.7M394.8 219.4h.7M392.6 218.7h.7M390.6 219.4h.7M386.8 229.1h.7M389.8 212.6h.7M382.3 218.1h.7M391.5 205.9h.7M401.8 206.4h.7M391.3 210.0h.7M390.2 200.4h.7M394.2 214.4h.7M385.4 209.9h.7M381.6 220.7h.7M384.7 217.4h.7M387.0 215.7h.7M389.0 221.5h.7M395.9 214.4h.7M388.6 208.3h.7M394.1 210.2h.7M397.7 204.4h.7M382.2 211.3h.7M380.5 222.8h.7M395.0 214.7h.7M385.6 213.1h.7M396.4 214.6h.7M395.8 219.7h.7M376.9 211.8h.7M386.3 222.0h.7M394.1 205.5h.7M391.2 210.0h.7M387.8 223.2h.7M383.6 209.6h.7M395.0 217.4h.7M384.5 222.2h.7M380.6 215.5h.7M383.6 219.3h.7M384.0 214.5h.7M384.3 214.4h.7M390.5 217.7h.7M378.9 217.6h.7M393.9 212.2h.7M391.7 206.1h.7M391.8 217.8h.7M393.8 209.2h.7M387.7 205.6h.7M391.0 212.8h.7M400.6 208.3h.7M394.0 207.1h.7M381.7 215.8h.7M384.0 207.4h.7M395.1 215.9h.7M397.9 213.1h.7M392.6 204.9h.7M384.2 217.5h.7M394.1 203.1h.7M384.1 204.4h.7M392.6 220.2h.7M383.7 220.4h.7M398.1 214.6h.7M376.2 201.2h.7M391.3 205.8h.7M394.7 221.9h.7M386.9 219.5h.7M402.5 216.8h.7M388.2 212.3h.7M395.0 206.8h.7M396.7 209.3h.7M384.6 206.3h.7M384.9 217.8h.7M393.3 206.8h.7M396.3 212.0h.7M384.9 212.0h.7M384.3 211.3h.7M398.3 208.8h.7M388.3 216.2h.7M395.6 216.4h.7M385.8 217.8h.7M394.7 209.9h.7M379.7 206.7h.7M386.8 220.6h.7M376.2 209.6h.7M380.5 202.6h.7M381.4 219.2h.7M393.0 218.3h.7M393.6 212.4h.7M378.0 212.2h.7M396.3 214.0h.7M397.8 223.8h.7M388.1 218.2h.7M384.6 212.2h.7M389.0 219.5h.7M383.8 215.5h.7M383.3 212.5h.7M386.4 218.6h.7M392.8 215.8h.7M397.0 205.0h.7M388.9 216.2h.7M391.9 216.4h.7M385.8 209.9h.7M389.8 218.4h.7M388.9 213.1h.7M382.6 207.1h.7M385.8 203.9h.7M386.5 222.2h.7M385.3 221.1h.7M394.0 211.5h.7M390.4 207.6h.7M382.9 225.8h.7M387.7 209.0h.7M397.4 221.9h.7M387.1 216.1h.7M386.7 220.3h.7M385.3 208.7h.7M388.9 211.3h.7M395.8 215.6h.7M384.2 213.1h.7M391.2 220.3h.7M381.8 227.0h.7M384.1 221.5h.7M394.0 219.8h.7M375.7 223.4h.7M378.5 215.9h.7M391.5 223.5h.7M384.8 218.3h.7M390.7 217.5h.7M386.8 220.4h.7M384.4 216.6h.7M390.3 213.6h.7M383.3 214.6h.7M384.1 221.0h.7M388.0 220.0h.7M381.4 219.0h.7M379.7 221.9h.7M378.6 214.7h.7M391.5 216.8h.7M396.4 226.0h.7M392.7 214.4h.7M383.7 224.4h.7M384.3 217.5h.7M381.9 221.1h.7M386.8 219.8h.7M392.0 217.6h.7M386.5 219.2h.7M386.7 223.0h.7M370.8 215.6h.7M388.4 214.4h.7M380.9 222.6h.7M385.6 216.9h.7M388.6 217.9h.7M387.4 217.9h.7M390.5 216.8h.7M394.5 210.6h.7M375.5 218.3h.7M379.2 216.6h.7M395.1 212.7h.7M389.3 216.2h.7M383.3 219.8h.7M385.6 226.5h.7M387.0 216.3h.7M392.2 224.7h.7M385.3 216.7h.7M386.9 220.8h.7M380.3 217.6h.7M394.3 222.1h.7M389.2 219.3h.7M384.6 217.0h.7M380.3 211.8h.7M386.9 223.1h.7M391.4 212.0h.7M398.5 216.0h.7M396.5 226.6h.7M385.1 219.8h.7M384.9 219.1h.7M382.1 219.3h.7M389.3 219.8h.7M383.2 217.2h.7M389.9 220.3h.7M388.7 218.0h.7M389.1 217.2h.7M382.2 220.8h.7M392.8 221.6h.7M386.1 220.3h.7M381.0 223.0h.7M386.9 227.1h.7M388.0 226.4h.7M387.4 219.2h.7M391.8 213.9h.7M393.1 223.9h.7M398.5 219.3h.7M386.6 222.2h.7M393.2 217.2h.7M374.1 222.6h.7M396.5 213.8h.7M387.0 219.5h.7M393.5 212.8h.7M385.9 227.8h.7M389.8 217.7h.7M390.3 209.5h.7M384.1 224.5h.7M384.3 223.2h.7M372.7 224.9h.7M389.9 213.8h.7M386.4 220.5h.7M386.0 224.7h.7M393.3 218.0h.7M388.9 220.6h.7M388.3 217.9h.7M377.7 217.5h.7M387.9 225.0h.7M385.7 215.4h.7M392.1 219.0h.7M384.7 221.4h.7M381.0 219.1h.7M386.0 222.6h.7M396.4 210.1h.7M382.8 224.0h.7M393.6 213.6h.7M386.3 217.9h.7M377.0 217.4h.7M390.3 221.0h.7M399.0 218.1h.7M389.4 217.0h.7M381.8 221.9h.7M386.1 228.0h.7M382.7 216.2h.7M401.6 216.0h.7M390.0 216.3h.7M375.3 213.5h.7M391.3 213.5h.7M389.4 216.8h.7M382.0 222.0h.7M384.1 216.6h.7M386.8 215.2h.7M395.8 218.4h.7M384.5 215.3h.7M383.4 230.9h.7M392.0 225.7h.7M384.0 219.0h.7M381.9 211.4h.7M386.5 216.4h.7M391.3 214.8h.7M387.9 214.9h.7M385.3 209.2h.7M394.4 216.5h.7M394.2 216.2h.7M379.1 215.8h.7M381.3 213.1h.7M382.5 220.4h.7M386.1 215.0h.7M388.0 208.8h.7M386.8 214.2h.7M387.5 222.3h.7M389.4 224.1h.7M380.7 213.8h.7M376.2 218.0h.7M388.7 221.2h.7M393.4 222.8h.7M388.1 216.7h.7M385.1 220.0h.7M390.0 216.8h.7M385.6 210.8h.7M380.6 222.8h.7M385.3 218.4h.7M391.0 220.6h.7M388.8 217.8h.7M390.6 214.9h.7M384.7 216.6h.7M390.0 220.2h.7M394.4 213.1h.7M385.6 225.5h.7M384.7 228.8h.7M393.4 208.7h.7M387.7 222.8h.7M381.4 216.8h.7M385.1 221.4h.7M393.8 219.6h.7M374.8 213.8h.7M381.1 208.8h.7M376.4 202.9h.7M384.6 204.9h.7M377.8 209.5h.7M367.4 216.7h.7M374.9 217.4h.7M375.9 220.6h.7M372.5 209.2h.7M368.7 214.5h.7M387.4 204.7h.7M375.5 207.8h.7M375.7 221.7h.7M366.3 213.7h.7M379.2 227.7h.7M375.2 219.4h.7M382.3 211.4h.7M385.9 209.8h.7M372.1 200.3h.7M371.7 223.7h.7M382.7 221.5h.7M382.3 239.5h.7M377.8 229.0h.7M380.2 216.9h.7M374.1 207.4h.7M375.8 202.4h.7M375.9 212.0h.7M363.4 214.4h.7M380.3 204.4h.7M380.5 219.5h.7M370.5 221.4h.7M372.7 207.8h.7M377.7 212.9h.7M380.2 204.9h.7M376.0 221.7h.7M373.3 208.4h.7M378.4 206.7h.7M376.7 200.9h.7M370.1 207.5h.7M374.1 202.5h.7M373.8 222.0h.7M379.8 219.0h.7M368.3 206.0h.7M371.2 208.4h.7M373.7 214.1h.7M376.1 215.4h.7M389.8 207.2h.7M374.9 224.0h.7M382.1 219.0h.7M380.5 228.7h.7M383.5 195.2h.7M386.1 203.5h.7M379.3 219.6h.7M370.3 216.1h.7M373.9 212.6h.7M384.7 206.5h.7M388.5 218.1h.7M383.4 211.0h.7M390.0 224.1h.7M380.0 222.4h.7M371.1 221.0h.7M376.5 201.7h.7M377.7 216.9h.7M381.4 226.9h.7M381.0 227.5h.7M370.8 223.4h.7M382.9 222.6h.7M372.7 209.3h.7M377.6 224.9h.7M379.8 227.8h.7M380.1 217.6h.7M379.0 218.3h.7M372.8 213.6h.7M375.2 216.0h.7M381.4 212.5h.7M373.3 218.0h.7M369.1 213.4h.7M361.0 204.0h.7M376.0 210.3h.7M370.6 217.5h.7M375.9 216.1h.7M369.6 224.9h.7M373.3 221.4h.7M373.7 223.8h.7M381.5 214.3h.7M370.7 222.2h.7M368.9 209.7h.7M376.5 209.9h.7M380.7 220.9h.7M370.5 216.4h.7M378.9 209.1h.7M376.0 221.4h.7M378.8 224.9h.7M364.9 220.1h.7M376.4 223.9h.7M374.4 221.2h.7M377.1 221.2h.7M371.9 209.0h.7M375.2 201.5h.7M363.0 212.2h.7M375.7 191.8h.7M383.9 210.7h.7M377.0 206.8h.7M376.3 215.4h.7M377.9 209.6h.7M384.2 214.6h.7M371.8 208.3h.7M367.2 212.8h.7M369.3 225.1h.7M371.9 207.4h.7M376.4 202.3h.7M380.7 224.5h.7M371.5 220.0h.7M369.8 214.4h.7M381.1 211.7h.7M382.2 216.8h.7M371.3 212.0h.7M380.3 221.4h.7M374.7 212.5h.7M372.9 210.2h.7M403.4 229.3h.7M409.7 217.7h.7M408.2 229.3h.7M407.9 214.5h.7M407.3 219.9h.7M411.4 226.1h.7M402.3 218.6h.7M404.5 233.0h.7M411.1 223.8h.7M402.6 226.4h.7M406.4 207.8h.7M405.1 229.4h.7M403.2 225.3h.7M402.6 207.6h.7M405.0 226.7h.7M406.1 227.4h.7M407.0 218.5h.7M407.3 215.2h.7M405.7 212.5h.7M405.6 224.8h.7M407.0 224.8h.7M403.8 222.7h.7M407.6 224.3h.7M400.4 225.9h.7M407.2 211.0h.7M408.5 227.1h.7M403.1 232.5h.7M398.8 216.9h.7M406.4 219.7h.7M403.1 225.8h.7M408.4 221.3h.7M407.3 221.2h.7M402.5 200.0h.7M407.0 231.8h.7M401.1 205.8h.7M404.7 235.1h.7M406.2 215.0h.7M409.4 220.0h.7M410.0 216.2h.7M401.6 222.6h.7M403.1 222.9h.7M406.1 228.0h.7M407.8 237.9h.7M407.0 202.1h.7M408.6 223.9h.7M402.9 229.6h.7M403.3 232.1h.7M404.1 217.9h.7M404.1 225.2h.7M404.7 227.7h.7M406.2 214.2h.7M401.2 218.4h.7M403.7 224.8h.7M406.4 215.8h.7M403.6 230.1h.7M405.4 214.9h.7M407.0 227.4h.7M410.0 211.7h.7M409.1 217.2h.7M407.6 226.7h.7M406.6 229.6h.7M401.7 216.3h.7M402.9 211.6h.7M403.6 229.3h.7M403.8 216.0h.7M405.2 227.9h.7M403.9 235.6h.7M404.6 230.1h.7M408.9 211.5h.7M404.7 235.1h.7M402.0 234.1h.7M404.6 219.5h.7M405.1 220.9h.7M404.9 236.8h.7M410.5 227.3h.7M407.6 228.2h.7M408.5 233.9h.7M404.1 229.2h.7M405.9 236.5h.7M405.3 226.0h.7M403.4 225.7h.7M406.1 222.1h.7M402.2 235.1h.7M408.4 214.5h.7M410.8 232.3h.7M409.8 219.7h.7M399.1 208.9h.7M405.8 233.1h.7M403.8 228.4h.7M404.0 227.2h.7M404.7 222.1h.7M408.4 224.6h.7M407.6 219.3h.7M404.1 236.2h.7M406.4 236.5h.7M405.8 224.4h.7M410.6 224.9h.7M402.0 227.3h.7M405.2 232.6h.7M403.2 226.8h.7M405.3 220.9h.7M400.0 222.8h.7M403.3 227.3h.7M405.1 223.6h.7M403.8 221.5h.7M404.0 235.4h.7M405.2 228.5h.7M404.4 232.7h.7M402.6 217.3h.7M405.0 232.0h.7M405.5 225.1h.7M406.3 222.7h.7M400.2 219.1h.7M404.2 219.5h.7M408.8 220.9h.7M401.9 225.9h.7M405.7 224.2h.7M407.8 229.1h.7M408.3 227.0h.7M406.1 224.2h.7M403.9 218.2h.7M400.6 218.0h.7M404.2 228.0h.7M402.9 212.0h.7M405.5 238.8h.7M407.6 238.4h.7M411.1 212.3h.7M406.0 235.3h.7M405.7 234.4h.7M405.2 234.7h.7M406.0 230.8h.7M405.2 239.0h.7M410.7 218.1h.7M403.3 221.1h.7M405.7 230.2h.7M403.9 225.5h.7M408.3 212.8h.7M408.9 232.0h.7M406.6 233.8h.7M406.0 223.2h.7M405.6 228.3h.7M406.5 233.2h.7M404.0 207.0h.7M410.2 220.3h.7M410.7 217.6h.7M408.1 223.8h.7M407.9 214.4h.7M404.3 214.2h.7M409.7 226.9h.7M403.3 214.5h.7M408.4 238.8h.7M404.7 233.2h.7M404.0 233.6h.7M402.9 236.3h.7M408.4 221.4h.7M407.5 234.7h.7M406.1 212.2h.7M400.7 218.2h.7M405.3 227.9h.7M404.0 231.6h.7M408.2 213.3h.7M409.9 208.8h.7M406.5 228.6h.7M406.5 227.6h.7M408.6 231.0h.7M409.8 224.4h.7M402.0 213.9h.7M406.3 234.7h.7M403.3 231.7h.7M403.8 226.5h.7M403.0 227.1h.7M405.3 238.0h.7M408.8 223.9h.7M406.9 200.2h.7M400.7 215.2h.7M405.3 201.6h.7M405.0 223.1h.7M404.1 235.1h.7M411.7 210.5h.7M405.7 231.3h.7M405.7 222.7h.7M407.5 232.8h.7M405.9 228.3h.7M401.7 216.6h.7M405.6 230.0h.7M406.7 224.8h.7M405.9 232.8h.7M407.9 223.4h.7M406.3 239.1h.7M405.2 224.3h.7M405.7 230.3h.7M410.1 226.7h.7M400.9 219.4h.7M408.3 226.3h.7M406.9 221.3h.7M404.2 230.0h.7M405.7 216.1h.7M407.5 216.9h.7M403.0 232.6h.7M406.0 229.7h.7M406.8 230.0h.7M403.8 230.0h.7M405.9 234.1h.7M408.6 229.2h.7M406.0 233.0h.7M403.2 218.6h.7M402.3 229.6h.7M400.5 218.9h.7M408.6 214.6h.7M405.2 223.3h.7M405.4 230.7h.7M405.2 225.4h.7M409.1 231.0h.7M407.2 228.9h.7M409.2 226.2h.7M402.2 213.8h.7M407.1 225.7h.7M407.3 225.4h.7M404.2 240.1h.7M403.1 218.5h.7M403.6 224.2h.7M408.7 219.1h.7M406.2 226.5h.7M403.6 210.5h.7M407.2 227.8h.7M404.1 225.4h.7M406.0 226.8h.7M403.6 224.5h.7M407.7 229.4h.7M405.8 225.1h.7M401.7 234.5h.7M407.5 239.7h.7M400.7 228.1h.7M408.4 214.4h.7M406.2 228.9h.7M402.1 211.1h.7M405.7 217.7h.7M402.5 220.2h.7M401.2 215.7h.7M406.6 225.2h.7M406.5 222.1h.7M400.4 218.9h.7M404.5 228.4h.7M405.8 218.9h.7M403.2 236.2h.7M407.8 230.6h.7M403.7 221.5h.7M406.5 229.0h.7M407.6 219.4h.7M403.0 219.8h.7M406.2 233.9h.7M406.1 211.5h.7M406.5 229.1h.7M408.6 206.1h.7M410.3 208.6h.7M408.9 205.9h.7M401.7 207.0h.7M404.0 215.1h.7M406.9 220.0h.7M408.7 208.7h.7M403.9 223.3h.7M405.7 232.1h.7M406.6 218.4h.7M405.4 226.1h.7M407.7 230.4h.7M404.3 240.0h.7M407.0 224.3h.7M404.1 231.2h.7M406.5 229.5h.7M403.4 225.5h.7M404.9 222.1h.7M407.7 228.2h.7M403.8 231.0h.7M405.9 213.6h.7M407.4 221.8h.7M405.4 228.0h.7M405.1 227.6h.7M405.7 227.9h.7M404.4 239.2h.7M406.9 234.1h.7M407.8 214.2h.7M408.0 238.7h.7M406.5 218.9h.7M408.9 217.8h.7M404.8 234.4h.7M407.0 222.2h.7M403.0 210.4h.7M406.1 230.4h.7M405.0 228.9h.7M407.6 229.7h.7M399.7 212.8h.7M405.3 231.9h.7M404.9 219.6h.7M406.8 232.8h.7M403.6 214.2h.7M404.5 216.6h.7M409.4 207.9h.7M403.9 218.2h.7M405.0 234.2h.7M408.3 227.0h.7M399.8 220.0h.7M406.2 236.8h.7M406.5 226.7h.7M406.1 231.6h.7M401.7 227.9h.7M402.1 224.0h.7M403.7 226.1h.7M403.8 228.7h.7M406.7 234.8h.7M404.8 230.2h.7M408.2 232.6h.7M405.6 215.3h.7M407.5 208.6h.7M404.2 227.7h.7M404.3 226.2h.7M406.6 228.7h.7M408.3 216.2h.7M404.1 226.1h.7M409.5 215.7h.7M405.1 225.6h.7M409.6 224.2h.7M402.5 223.4h.7M404.9 227.6h.7M407.5 220.5h.7M405.5 224.7h.7M404.5 230.9h.7M406.5 238.0h.7M407.7 228.4h.7M404.9 232.0h.7M407.2 229.9h.7M405.0 239.3h.7M409.4 219.3h.7M404.5 230.9h.7M404.6 227.5h.7M406.6 238.6h.7M402.9 203.6h.7M403.0 219.3h.7M405.0 209.8h.7M405.7 236.8h.7M407.8 227.3h.7M405.3 230.7h.7M404.3 228.5h.7M402.8 227.3h.7M405.0 228.5h.7M404.4 221.3h.7M408.9 207.2h.7M402.1 227.7h.7M401.3 224.4h.7M400.4 220.0h.7M405.0 219.6h.7M406.3 236.2h.7M410.4 218.4h.7M401.0 215.7h.7M405.9 230.6h.7M404.7 237.6h.7M410.4 213.6h.7M406.7 216.3h.7M410.1 215.7h.7M405.6 228.2h.7M407.8 229.7h.7M406.1 237.1h.7M404.1 224.4h.7M408.1 222.7h.7M404.8 219.6h.7M401.8 234.6h.7M405.4 219.6h.7M402.1 217.6h.7M407.0 222.8h.7M409.4 224.6h.7M406.3 228.3h.7M407.3 219.4h.7M404.0 240.0h.7M403.9 215.0h.7M410.3 226.0h.7M404.4 216.1h.7M406.4 222.4h.7M400.3 214.1h.7M404.3 222.3h.7M405.9 227.1h.7M405.3 226.3h.7M404.8 213.1h.7M406.9 207.4h.7M407.1 208.7h.7M403.6 235.4h.7M402.2 223.2h.7M407.0 225.4h.7M406.8 237.4h.7M401.7 216.1h.7M407.1 228.4h.7M401.6 218.9h.7M405.2 226.4h.7M409.4 208.4h.7M401.2 221.3h.7M405.6 224.1h.7M405.1 225.7h.7M402.3 212.3h.7M407.6 222.6h.7M403.8 232.4h.7M403.9 224.0h.7M403.5 232.2h.7M406.5 230.5h.7M406.9 226.9h.7M409.3 221.6h.7M405.0 225.4h.7M403.2 216.7h.7M408.6 230.5h.7M404.2 227.6h.7M406.7 235.1h.7M407.1 232.1h.7M401.8 229.7h.7M403.1 226.4h.7M404.1 232.2h.7M406.8 236.8h.7M403.5 222.3h.7M407.9 213.8h.7M406.2 212.9h.7M405.8 233.4h.7M405.5 228.8h.7M404.0 229.4h.7M409.6 210.2h.7M405.9 219.9h.7M410.0 211.2h.7M402.9 214.8h.7M400.7 219.8h.7M409.7 218.8h.7M403.9 238.5h.7M405.9 213.7h.7M404.5 219.4h.7M405.1 218.2h.7M404.7 225.4h.7M403.4 231.1h.7M402.0 217.8h.7M406.2 210.2h.7M403.5 221.0h.7M409.3 228.2h.7M405.8 215.3h.7M408.0 233.2h.7M404.1 215.9h.7M407.8 219.1h.7M403.8 220.8h.7M405.0 231.5h.7M405.1 227.8h.7M413.2 215.9h.7M401.5 215.0h.7M403.5 218.6h.7M406.5 238.7h.7M405.2 236.1h.7M405.8 226.0h.7M407.8 218.6h.7M405.1 209.4h.7M403.5 220.8h.7M402.6 229.3h.7M405.3 229.6h.7M406.7 228.1h.7M406.1 218.6h.7M408.0 229.2h.7M404.4 223.3h.7M406.0 232.4h.7M403.5 226.9h.7M401.7 231.5h.7M406.8 227.6h.7M404.1 220.6h.7M406.6 235.0h.7M403.6 215.7h.7M402.3 230.6h.7M402.9 220.9h.7M404.6 221.6h.7M403.9 227.1h.7M404.6 220.2h.7M407.1 215.9h.7M405.4 216.7h.7M406.8 215.0h.7M405.1 225.0h.7M403.9 227.5h.7M402.9 224.0h.7M398.9 211.3h.7M406.9 225.9h.7M407.5 233.0h.7M402.5 214.9h.7M402.6 216.9h.7M403.9 232.7h.7M406.3 223.3h.7M405.6 234.1h.7M404.8 221.8h.7M405.3 212.3h.7M401.2 224.4h.7M405.1 224.3h.7M405.0 227.3h.7M406.8 217.4h.7M403.4 220.8h.7M406.0 219.9h.7M409.2 238.5h.7M403.6 215.0h.7M410.2 226.7h.7M403.4 228.0h.7M405.6 232.3h.7M403.1 224.7h.7M409.4 219.2h.7M405.8 225.7h.7M406.0 211.9h.7M408.5 203.2h.7M409.3 211.4h.7M404.5 238.3h.7M405.9 232.0h.7M407.9 229.0h.7M399.2 212.1h.7M411.9 216.2h.7M404.9 227.5h.7M399.3 217.6h.7M406.3 216.6h.7M403.0 215.4h.7M405.5 218.2h.7M405.8 208.3h.7M407.8 228.4h.7M400.0 218.5h.7M406.1 235.7h.7M407.0 239.0h.7M402.2 224.2h.7M406.8 233.8h.7M406.9 234.2h.7M404.2 226.5h.7M400.5 223.2h.7M405.7 235.8h.7M404.5 230.4h.7M409.6 223.2h.7M404.8 220.4h.7M407.2 224.8h.7M406.1 232.8h.7M405.9 230.7h.7M401.9 219.7h.7M403.6 223.4h.7M405.7 226.2h.7M405.2 221.2h.7M405.2 224.0h.7M407.8 216.4h.7M405.6 217.8h.7M407.1 227.2h.7M405.7 226.8h.7M406.5 222.1h.7M401.6 223.3h.7M407.2 230.8h.7M407.5 227.2h.7M407.3 220.7h.7M403.8 230.6h.7M407.4 234.2h.7M405.7 224.9h.7M405.8 229.1h.7M404.0 217.2h.7M403.8 223.0h.7M406.2 229.7h.7M403.8 224.8h.7M405.4 217.8h.7M403.9 220.7h.7M402.1 222.8h.7M405.6 222.5h.7M405.8 225.3h.7M405.6 238.4h.7M398.6 226.8h.7M408.3 221.6h.7M405.5 230.7h.7M403.5 230.4h.7M411.1 215.7h.7M405.5 219.6h.7M407.7 215.5h.7M405.8 227.7h.7M401.1 232.2h.7M408.6 223.0h.7M403.6 235.4h.7M408.6 220.0h.7M405.1 222.1h.7M403.3 224.3h.7M399.7 226.4h.7M404.8 239.0h.7M402.5 215.4h.7M405.5 229.7h.7M402.8 225.5h.7M406.7 234.9h.7M403.9 213.5h.7M404.1 215.0h.7M408.1 239.4h.7M406.7 235.6h.7M404.4 234.1h.7M406.4 223.8h.7M402.6 233.9h.7M403.6 225.0h.7M404.9 215.6h.7M403.6 223.7h.7M402.8 222.6h.7M407.4 216.0h.7M403.7 220.0h.7M403.1 219.0h.7M404.2 229.3h.7M404.3 233.2h.7M406.8 234.4h.7M406.0 234.2h.7M401.0 215.8h.7M408.2 229.7h.7M407.5 231.8h.7M404.8 228.4h.7M402.5 216.9h.7M405.5 200.1h.7M404.1 226.2h.7M407.0 217.8h.7M405.4 232.5h.7M409.2 212.3h.7M402.1 229.5h.7M403.7 221.2h.7M406.3 213.6h.7M404.1 221.0h.7M404.4 223.6h.7M403.3 231.9h.7M409.1 231.6h.7M405.2 235.4h.7M406.8 231.3h.7M403.3 220.9h.7M404.2 221.1h.7M405.3 226.2h.7M409.9 221.9h.7M409.5 210.8h.7M411.6 207.3h.7M408.4 231.3h.7M409.0 225.8h.7M403.5 220.5h.7M407.8 233.7h.7M403.8 226.1h.7M406.6 229.0h.7M404.0 225.4h.7M403.7 234.2h.7M405.6 229.2h.7M403.0 220.8h.7M404.7 223.9h.7M407.7 222.8h.7M405.0 225.5h.7M407.8 226.7h.7M404.2 221.2h.7M406.4 219.9h.7M403.0 224.7h.7M409.3 209.7h.7M401.0 228.3h.7M406.1 228.0h.7M407.1 198.4h.7M397.8 215.5h.7M401.4 224.6h.7M401.0 205.6h.7M405.3 228.5h.7M405.0 233.2h.7M404.7 228.8h.7M406.6 232.8h.7M411.2 223.9h.7M403.5 232.0h.7M406.2 230.7h.7M405.5 223.7h.7M408.0 225.5h.7M399.2 210.6h.7M400.7 213.3h.7M403.5 233.4h.7M403.5 233.6h.7M406.1 217.8h.7M404.0 211.7h.7M399.5 207.9h.7M404.2 234.6h.7M401.8 227.7h.7M405.1 235.6h.7M407.8 231.8h.7M411.8 220.0h.7M406.8 221.8h.7M402.8 234.2h.7M409.6 212.6h.7M409.8 229.6h.7M404.9 221.2h.7M406.0 235.7h.7M408.5 220.0h.7M406.0 218.5h.7M407.7 232.9h.7M407.0 197.3h.7M404.4 233.8h.7M404.3 227.2h.7M404.7 219.6h.7M404.1 230.4h.7M409.1 220.6h.7M406.1 230.0h.7M404.9 225.5h.7M407.0 231.2h.7M405.6 216.6h.7M408.4 218.9h.7M405.8 227.3h.7M403.9 223.1h.7M401.9 217.0h.7M410.4 220.2h.7M406.3 226.7h.7M403.6 214.4h.7M405.2 224.3h.7M402.4 222.5h.7M409.3 208.0h.7M406.2 224.7h.7M404.8 235.1h.7M401.3 221.0h.7M410.9 222.8h.7M405.7 226.9h.7M399.0 219.5h.7M403.7 209.8h.7M405.3 224.9h.7M405.8 220.9h.7M402.2 219.1h.7M407.2 236.5h.7M406.8 225.6h.7M405.5 218.3h.7M403.5 218.8h.7M403.0 238.2h.7M404.5 231.6h.7M404.8 209.5h.7M403.0 229.8h.7M406.2 220.4h.7M407.7 219.7h.7M404.6 234.2h.7M404.6 230.8h.7M405.3 217.4h.7M409.5 224.5h.7M408.3 230.1h.7M401.2 223.6h.7M404.3 228.2h.7M412.9 218.7h.7M404.9 235.7h.7M408.0 237.0h.7M406.9 219.0h.7M409.1 212.5h.7M404.4 220.6h.7M405.6 232.1h.7M406.7 226.4h.7M405.4 224.2h.7M405.3 226.2h.7M409.6 212.0h.7M405.0 224.3h.7M408.8 223.8h.7M403.7 219.3h.7M404.8 231.4h.7M407.5 219.1h.7M406.9 219.2h.7M407.4 230.6h.7M405.5 230.1h.7M405.4 225.3h.7M404.3 226.6h.7M402.0 228.0h.7M404.5 227.5h.7M408.4 216.3h.7M405.3 231.8h.7M408.2 228.0h.7M403.0 222.4h.7M406.0 234.7h.7M404.3 230.0h.7M408.7 218.3h.7M401.7 223.9h.7M404.4 219.8h.7M404.5 233.4h.7M404.4 213.5h.7M404.6 235.4h.7M410.9 218.9h.7M404.9 227.2h.7M405.0 221.0h.7M402.3 228.0h.7M403.2 234.6h.7M403.9 230.1h.7M401.9 214.3h.7M406.8 222.5h.7M404.0 225.8h.7M405.0 220.3h.7M402.9 221.3h.7M401.7 218.1h.7M403.7 224.2h.7M405.8 230.3h.7M404.3 209.5h.7M401.5 209.5h.7M410.7 210.8h.7M406.1 205.8h.7M407.2 204.8h.7M410.5 207.1h.7M401.2 214.1h.7M408.3 217.8h.7M405.6 210.7h.7M405.8 207.9h.7M398.9 218.3h.7M401.6 213.6h.7M404.7 214.8h.7M404.5 208.9h.7M410.5 206.9h.7M403.3 213.1h.7M405.6 208.7h.7M403.5 217.9h.7M399.8 203.7h.7M403.4 212.0h.7M405.1 209.9h.7M411.3 202.8h.7M409.4 207.3h.7M402.7 202.5h.7M401.3 207.3h.7M404.6 207.9h.7M402.6 228.1h.7M407.9 214.2h.7M404.5 206.6h.7M402.7 212.3h.7M400.7 207.4h.7M404.4 204.2h.7M395.0 219.6h.7M403.3 217.5h.7M403.0 197.7h.7M410.5 208.8h.7M398.1 207.3h.7M408.2 198.8h.7M403.5 210.9h.7M407.7 213.3h.7M401.9 210.1h.7M406.3 213.0h.7M407.9 222.0h.7M401.7 218.4h.7M404.3 224.8h.7M404.4 189.8h.7M402.5 208.2h.7M404.4 219.1h.7M404.9 212.1h.7M403.5 205.6h.7M398.3 219.7h.7M405.8 215.9h.7M399.3 198.7h.7M404.4 215.5h.7M408.6 208.6h.7M399.9 211.2h.7M404.3 201.7h.7M405.5 213.6h.7M404.6 211.0h.7M403.0 203.3h.7M404.8 207.5h.7M407.3 219.7h.7M401.0 220.4h.7M404.1 199.5h.7M407.5 213.3h.7M402.5 207.8h.7M400.2 206.3h.7M407.6 211.6h.7M407.4 220.3h.7M408.4 213.7h.7M404.7 203.2h.7M402.3 210.2h.7M410.5 213.0h.7M409.5 217.6h.7M407.8 209.4h.7M402.9 210.8h.7M405.2 211.5h.7M401.5 214.4h.7M400.8 196.9h.7M405.1 219.5h.7M406.0 212.1h.7M406.9 210.0h.7M405.2 202.4h.7M412.5 211.7h.7M401.1 223.6h.7M409.7 205.8h.7M403.3 198.7h.7M408.3 212.9h.7M401.3 210.1h.7M413.1 209.6h.7M410.2 199.4h.7M398.8 212.8h.7M409.7 214.3h.7M405.5 180.1h.7M408.2 211.0h.7M404.8 215.2h.7M404.3 203.7h.7M399.7 195.2h.7M403.1 210.6h.7M404.8 224.7h.7M398.6 212.4h.7M401.2 225.5h.7M404.9 212.3h.7M406.5 208.4h.7M403.2 204.5h.7M410.1 219.7h.7M402.9 200.7h.7M407.2 205.7h.7M409.8 207.0h.7M401.9 212.0h.7M409.2 210.3h.7M404.4 199.7h.7M401.7 201.8h.7M411.0 221.8h.7M411.1 210.5h.7M403.8 209.9h.7M409.0 207.5h.7M408.7 211.9h.7M404.9 204.7h.7M413.2 217.7h.7M404.5 215.9h.7M402.5 209.9h.7M405.1 216.3h.7M404.6 208.8h.7M403.3 207.0h.7M403.9 216.8h.7M399.9 209.3h.7M407.3 204.3h.7M399.9 221.0h.7M409.1 208.7h.7M407.6 213.1h.7M403.5 220.4h.7M403.5 201.1h.7M402.5 207.8h.7M405.0 216.7h.7M411.6 207.9h.7M406.2 206.9h.7M403.4 209.0h.7M411.6 207.9h.7M403.5 207.8h.7M403.7 212.8h.7M413.1 210.6h.7M407.5 221.9h.7M409.5 212.2h.7M407.4 221.6h.7M407.0 210.9h.7M407.6 222.1h.7M407.9 209.1h.7M400.6 211.2h.7M396.1 221.2h.7M404.0 204.6h.7M399.4 206.8h.7M405.6 212.8h.7M400.5 203.4h.7M405.2 220.2h.7M409.2 208.8h.7M403.1 213.7h.7M402.2 217.2h.7M408.0 214.2h.7M402.2 205.0h.7M404.7 200.8h.7M404.5 198.5h.7M400.2 203.8h.7M408.6 204.8h.7M400.9 204.5h.7M408.4 213.2h.7M406.4 200.6h.7M401.0 198.8h.7M403.7 211.2h.7M408.3 222.4h.7M403.9 203.6h.7M401.3 209.6h.7M409.5 217.5h.7M398.8 216.0h.7M404.0 206.9h.7M408.8 216.4h.7M397.8 210.5h.7M406.0 215.6h.7M400.8 222.5h.7M400.0 194.8h.7M402.2 200.1h.7M402.9 200.6h.7M403.1 201.4h.7M402.7 210.7h.7M401.7 210.8h.7M395.1 222.0h.7M410.1 219.8h.7M413.0 212.0h.7M406.7 209.0h.7M403.9 214.6h.7M401.2 212.9h.7M406.0 206.7h.7M406.0 214.7h.7M401.5 206.4h.7M404.3 209.3h.7M407.8 208.9h.7M406.1 205.8h.7M404.7 205.4h.7M405.4 210.3h.7M402.2 209.0h.7M404.7 201.4h.7M405.2 221.4h.7M402.1 221.6h.7M404.5 221.2h.7M408.4 218.0h.7M408.9 209.2h.7M396.6 203.3h.7M399.5 202.8h.7M408.7 197.9h.7M406.6 207.6h.7M406.6 198.0h.7M399.6 210.6h.7M405.2 211.7h.7M407.1 206.1h.7M406.6 206.1h.7M402.2 209.4h.7M402.7 213.7h.7M406.1 207.5h.7M405.6 221.5h.7M409.9 203.7h.7M396.3 205.5h.7M402.7 206.5h.7M409.6 208.4h.7M400.6 211.2h.7M405.3 213.5h.7M410.4 207.5h.7M401.1 220.6h.7M406.2 197.0h.7M412.2 211.6h.7M400.1 210.0h.7M397.4 200.4h.7M408.9 199.9h.7M403.1 210.4h.7M404.7 217.6h.7M405.2 212.4h.7M409.6 209.1h.7M403.8 207.5h.7M408.7 206.3h.7M407.8 206.9h.7M404.9 214.0h.7M408.9 217.0h.7M406.1 213.3h.7M404.6 204.9h.7M397.3 216.6h.7M400.5 197.1h.7M401.0 211.8h.7M403.3 205.9h.7M405.6 210.4h.7M404.1 200.9h.7M402.9 208.8h.7M400.8 205.8h.7M405.0 206.2h.7M403.2 203.5h.7M403.0 212.5h.7M408.4 216.8h.7M406.1 203.0h.7M409.2 211.3h.7M400.8 206.5h.7M407.2 211.3h.7M404.9 217.1h.7M402.5 211.2h.7M398.9 208.7h.7M404.6 202.4h.7M400.4 217.1h.7M407.6 220.7h.7M406.6 196.5h.7M406.7 213.4h.7M409.7 200.8h.7M397.1 221.2h.7M407.1 213.1h.7M405.7 223.7h.7M405.7 204.1h.7M403.0 206.3h.7M408.4 199.3h.7M394.1 210.0h.7M399.8 198.0h.7M407.2 207.3h.7M405.6 217.3h.7M408.4 213.1h.7M403.4 216.0h.7M402.8 210.4h.7M407.8 214.7h.7M405.5 208.7h.7M398.2 200.9h.7M408.5 212.7h.7M400.7 209.0h.7M408.2 204.1h.7M405.6 202.0h.7M407.1 217.7h.7M408.8 198.3h.7M401.0 203.8h.7M407.4 211.9h.7M404.6 213.6h.7M403.9 211.1h.7M404.9 199.2h.7M402.9 216.8h.7M405.0 208.7h.7M405.8 199.5h.7M402.4 216.8h.7M409.0 208.8h.7M405.2 197.0h.7M400.6 191.4h.7M406.6 208.3h.7M406.8 205.1h.7M399.3 211.3h.7M406.0 210.4h.7M403.4 204.1h.7M405.8 212.3h.7M404.2 211.0h.7M406.3 202.2h.7M405.5 214.8h.7M396.1 210.8h.7M405.1 208.2h.7M406.9 211.8h.7M407.6 203.9h.7M409.6 204.0h.7M406.1 208.7h.7M409.9 203.0h.7M408.1 219.8h.7M403.0 211.1h.7M402.2 214.4h.7M409.7 221.7h.7M407.5 219.3h.7M398.1 223.8h.7M400.8 203.7h.7M409.3 220.7h.7M405.5 206.7h.7M398.2 208.1h.7M406.5 211.0h.7M408.6 210.2h.7M407.4 209.5h.7M404.7 211.7h.7M404.1 220.0h.7M402.8 194.7h.7M402.9 199.7h.7M405.9 200.8h.7M404.2 212.3h.7M399.1 222.6h.7M404.5 209.9h.7M403.8 200.0h.7M403.9 212.6h.7M398.4 222.0h.7M404.6 223.2h.7M402.3 209.3h.7M405.0 210.7h.7M398.9 211.9h.7M405.0 213.8h.7M400.2 208.7h.7M401.6 206.5h.7M402.3 220.3h.7M402.7 220.2h.7M402.7 209.8h.7M402.7 205.7h.7M402.5 205.5h.7M402.1 201.9h.7M402.6 201.3h.7M403.5 207.8h.7M412.1 204.8h.7M408.4 211.6h.7M402.5 206.2h.7M399.5 203.4h.7M409.2 207.1h.7M404.8 192.7h.7M406.2 212.2h.7M409.3 208.0h.7M397.5 219.0h.7M402.5 206.6h.7M405.5 208.7h.7M410.2 203.5h.7M404.5 223.9h.7M405.1 211.6h.7M374.6 194.1h.7M354.7 221.6h.7M408.7 218.3h.7M412.2 201.7h.7M394.6 223.0h.7M400.2 234.3h.7M363.7 200.8h.7M383.2 200.9h.7M355.6 220.8h.7M367.3 228.1h.7M357.6 232.0h.7M402.5 239.6h.7M407.0 234.0h.7M362.6 218.0h.7M358.7 217.2h.7M360.5 219.9h.7M410.4 212.6h.7M369.3 232.2h.7M378.7 199.6h.7M407.3 229.0h.7" stroke="#3c3c3c" stroke-opacity="0.43" stroke-width="0.8" fill="none"/>
<rect class="bx" x="352.8" y="178.7" width="61.7" height="62.3"/>
<path class="ql" d="M398.7 178.7V241.0M352.8 220.6H414.5"/>
<path d="M352.8 241.0v1.5M352.8 241.0h-1.5M357.4 241.0v.9M352.8 236.3h-.9M360.2 241.0v.9M352.8 233.6h-.9M363.6 241.0v.9M352.8 230.1h-.9M365.8 241.0v.9M352.8 227.8h-.9M368.2 241.0v1.5M352.8 225.4h-1.5M372.9 241.0v.9M352.8 220.7h-.9M375.6 241.0v.9M352.8 218.0h-.9M379.0 241.0v.9M352.8 214.5h-.9M381.3 241.0v.9M352.8 212.3h-.9M383.6 241.0v1.5M352.8 209.8h-1.5M388.3 241.0v.9M352.8 205.2h-.9M391.0 241.0v.9M352.8 202.4h-.9M394.4 241.0v.9M352.8 199.0h-.9M396.7 241.0v.9M352.8 196.7h-.9M399.1 241.0v1.5M352.8 194.3h-1.5M403.7 241.0v.9M352.8 189.6h-.9M406.4 241.0v.9M352.8 186.8h-.9M409.9 241.0v.9M352.8 183.4h-.9M412.1 241.0v.9M352.8 181.1h-.9M414.5 241.0v1.5M352.8 178.7h-1.5" stroke="#555" stroke-width=".5" fill="none"/>
<text x="380.3" y="166.2" font-size="9.1" text-anchor="middle" class="t">LPS</text>
<text x="383.6" y="175.9" font-size="5.3" text-anchor="middle" class="t" fill-opacity=".85">081409-B-72.006</text>
<text x="349.0" y="249.6" font-size="6.4" text-anchor="start" class="t">10<tspan dy="-2.7" font-size="4.2">0</tspan></text>
<text transform="translate(349.6 244.3) rotate(-90)" font-size="6.4" text-anchor="start" class="t">10<tspan dy="-2.7" font-size="4.2">0</tspan></text>
<text x="364.4" y="249.6" font-size="6.4" text-anchor="start" class="t">10<tspan dy="-2.7" font-size="4.2">1</tspan></text>
<text transform="translate(349.6 228.7) rotate(-90)" font-size="6.4" text-anchor="start" class="t">10<tspan dy="-2.7" font-size="4.2">1</tspan></text>
<text x="379.8" y="249.6" font-size="6.4" text-anchor="start" class="t">10<tspan dy="-2.7" font-size="4.2">2</tspan></text>
<text transform="translate(349.6 213.4) rotate(-90)" font-size="6.4" text-anchor="start" class="t">10<tspan dy="-2.7" font-size="4.2">2</tspan></text>
<text x="395.3" y="249.6" font-size="6.4" text-anchor="start" class="t">10<tspan dy="-2.7" font-size="4.2">3</tspan></text>
<text transform="translate(349.6 198.7) rotate(-90)" font-size="6.4" text-anchor="start" class="t">10<tspan dy="-2.7" font-size="4.2">3</tspan></text>
<text x="410.7" y="249.6" font-size="6.4" text-anchor="start" class="t">10<tspan dy="-2.7" font-size="4.2">4</tspan></text>
<text transform="translate(349.6 184.1) rotate(-90)" font-size="6.4" text-anchor="start" class="t">10<tspan dy="-2.7" font-size="4.2">4</tspan></text>
<text transform="translate(340.6 210.2) rotate(-90)" font-size="6.4" text-anchor="middle" class="t">CD25-APC</text>
<text x="383.6" y="257.4" font-size="6.8" text-anchor="middle" class="t">CFSE</text>
<text x="356.5" y="189.7" font-size="9.4" text-anchor="start" class="t" fill="#000">33</text>
<text x="402.2" y="189.7" font-size="9.4" text-anchor="start" class="t" fill="#000">19</text>
<ellipse cx="491.9" cy="221.0" rx="2.6" ry="13" fill="#707070" fill-opacity="0.45" filter="url(#bl)"/>
<path d="M493.3 221.9h.7M489.9 224.3h.7M493.9 214.2h.7M493.0 223.7h.7M491.3 226.3h.7M493.2 224.2h.7M491.8 214.1h.7M490.9 228.1h.7M495.2 217.2h.7M488.5 222.1h.7M497.3 220.8h.7M493.1 220.2h.7M491.3 201.7h.7M493.4 229.8h.7M490.2 224.6h.7M491.4 221.4h.7M497.1 225.8h.7M493.7 216.3h.7M492.0 218.8h.7M492.1 224.9h.7M495.0 200.3h.7M495.0 213.4h.7M491.5 214.7h.7M495.6 217.4h.7M492.4 215.2h.7M492.3 213.0h.7M494.3 222.4h.7M490.8 227.4h.7M488.7 224.3h.7M492.1 229.6h.7M494.6 224.9h.7M491.8 233.8h.7M494.2 234.8h.7M495.8 215.9h.7M491.5 212.7h.7M492.5 214.7h.7M492.1 217.0h.7M494.0 226.9h.7M493.6 225.0h.7M492.9 222.2h.7M496.3 214.0h.7M493.6 216.3h.7M493.2 218.4h.7M490.6 222.2h.7M492.7 192.5h.7M495.8 222.5h.7M494.2 224.7h.7M492.8 213.5h.7M492.3 233.3h.7M490.3 227.3h.7M490.8 226.6h.7M495.4 205.6h.7M492.6 227.5h.7M492.7 221.6h.7M495.7 222.0h.7M491.4 199.0h.7M491.2 205.9h.7M496.3 217.4h.7M494.3 207.8h.7M489.1 232.3h.7M492.5 209.8h.7M490.7 227.0h.7M491.3 223.5h.7M488.4 220.7h.7M491.0 233.9h.7M497.5 216.2h.7M492.0 209.7h.7M491.4 223.5h.7M494.5 232.0h.7M488.8 215.3h.7M492.0 229.9h.7M495.6 225.7h.7M492.5 220.4h.7M493.4 222.2h.7M492.0 221.6h.7M493.5 214.7h.7M494.3 221.7h.7M492.1 224.2h.7M492.8 213.5h.7M493.2 196.2h.7M488.1 226.3h.7M495.1 214.0h.7M496.8 225.5h.7M494.9 212.4h.7M493.1 223.9h.7M491.6 218.2h.7M493.5 217.4h.7M497.6 219.9h.7M496.2 223.6h.7M490.6 204.1h.7M495.8 231.8h.7M491.0 229.7h.7M491.0 223.3h.7M492.2 205.2h.7M494.0 228.1h.7M492.0 220.4h.7M494.5 235.6h.7M493.4 216.1h.7M496.7 218.6h.7M489.5 229.5h.7M492.9 200.5h.7M494.4 216.7h.7M496.6 218.7h.7M486.8 198.9h.7M492.0 211.6h.7M487.7 222.5h.7M493.6 223.5h.7M491.5 235.7h.7M493.3 229.2h.7M495.4 207.9h.7M494.6 227.7h.7M492.1 223.9h.7M494.1 221.4h.7M491.6 237.7h.7M493.7 236.7h.7M491.4 223.2h.7M495.0 212.8h.7M490.4 209.8h.7M494.3 210.0h.7M489.3 228.7h.7M493.2 204.6h.7M498.0 231.0h.7M489.7 218.8h.7M491.2 223.7h.7M494.7 227.5h.7M487.3 227.3h.7M488.4 218.9h.7M493.1 223.9h.7M495.4 221.7h.7M492.9 220.8h.7M492.8 221.4h.7M495.7 211.2h.7M492.5 223.4h.7M496.4 207.9h.7M495.8 231.0h.7M491.8 217.0h.7M496.2 209.6h.7M494.3 226.6h.7M492.3 226.8h.7M492.6 221.5h.7M495.7 206.4h.7M489.2 208.4h.7M488.9 225.5h.7M497.4 222.9h.7M493.3 223.2h.7M495.0 226.0h.7M488.1 212.5h.7M489.7 230.9h.7M491.1 214.7h.7M491.7 220.9h.7M493.1 213.0h.7M491.3 209.3h.7M492.4 213.4h.7M492.1 211.9h.7M494.3 216.8h.7M494.7 234.9h.7M494.8 223.3h.7M496.5 215.3h.7M492.1 224.4h.7M491.4 215.2h.7M488.5 231.1h.7M488.8 228.0h.7M494.8 217.3h.7M493.8 220.2h.7M492.7 221.3h.7M491.7 211.2h.7M489.2 209.9h.7M486.9 219.3h.7M491.0 212.2h.7M491.9 220.4h.7M486.7 228.5h.7M496.0 218.6h.7M491.0 226.1h.7M493.4 237.0h.7M496.1 216.6h.7M495.6 234.0h.7M491.7 213.0h.7M495.3 210.0h.7M494.8 222.3h.7M492.7 219.2h.7M493.5 207.0h.7M490.7 232.7h.7M493.1 228.6h.7M490.7 211.7h.7M492.0 218.8h.7M492.8 219.9h.7M495.2 209.2h.7M492.0 223.7h.7M491.8 208.1h.7M491.4 204.6h.7M498.2 234.1h.7M491.4 214.8h.7M493.9 213.6h.7M488.6 218.6h.7M492.7 214.0h.7M491.2 225.0h.7M494.2 228.5h.7M496.4 229.0h.7M494.3 199.9h.7M492.9 227.9h.7M491.4 222.3h.7M492.8 221.5h.7M494.6 231.6h.7M493.0 226.5h.7M491.5 204.6h.7M491.4 223.0h.7M493.8 219.2h.7M491.8 231.1h.7M495.2 201.3h.7M489.2 226.6h.7M494.5 222.1h.7M490.6 226.8h.7M492.4 224.4h.7M498.5 201.3h.7M495.0 227.2h.7M491.2 220.4h.7M491.5 213.4h.7M494.5 229.5h.7M495.0 220.3h.7M492.5 236.1h.7M494.2 230.7h.7M491.4 210.4h.7M486.2 228.0h.7M495.4 220.7h.7M491.3 220.4h.7M494.1 219.3h.7M492.2 230.2h.7M491.8 213.2h.7M490.4 224.8h.7M494.7 206.4h.7M494.6 223.7h.7M496.1 208.9h.7M494.6 208.8h.7M493.7 220.3h.7M491.1 210.2h.7M492.6 231.0h.7M493.8 210.5h.7M487.5 235.6h.7M489.9 228.3h.7M492.1 221.6h.7M494.5 226.6h.7M496.1 222.6h.7M490.7 225.4h.7M492.8 215.2h.7M491.3 224.3h.7M490.4 217.6h.7M491.6 220.1h.7M492.9 215.2h.7M494.8 215.7h.7M489.2 228.6h.7M492.2 220.3h.7M490.2 227.9h.7M496.3 217.9h.7M497.0 219.9h.7M491.3 216.3h.7M491.0 232.7h.7M493.7 236.1h.7M495.0 219.9h.7M490.3 229.1h.7M491.3 207.3h.7M493.3 208.9h.7M490.1 227.6h.7M496.8 204.5h.7M492.6 230.2h.7M490.2 237.0h.7M495.7 220.0h.7M488.7 208.2h.7M490.5 212.5h.7M490.8 212.7h.7M492.2 228.8h.7M488.5 211.1h.7M490.3 213.2h.7M493.7 235.5h.7M492.4 209.4h.7M492.8 214.9h.7M494.5 233.7h.7M495.4 205.4h.7M492.6 198.1h.7M490.0 214.3h.7M496.6 222.8h.7M488.1 220.5h.7M488.7 215.6h.7M489.3 208.8h.7M497.8 228.8h.7M492.7 216.0h.7M495.5 214.7h.7M488.5 221.3h.7M490.2 234.6h.7M493.3 222.6h.7M492.8 217.9h.7M493.9 226.7h.7M492.8 200.7h.7M492.8 214.8h.7M493.0 220.7h.7M491.9 214.3h.7M493.4 213.5h.7M495.2 215.7h.7M489.9 211.7h.7M493.3 215.8h.7M494.8 221.7h.7M492.0 224.5h.7M492.3 210.8h.7M497.4 219.0h.7M495.7 213.3h.7M497.6 229.6h.7M496.1 237.4h.7M491.7 222.8h.7M490.8 224.9h.7M491.8 218.5h.7M494.6 225.7h.7M483.6 219.0h.7M492.7 209.0h.7M495.1 232.8h.7M493.3 227.0h.7M491.9 221.0h.7M488.5 225.6h.7M494.4 237.0h.7M491.8 216.7h.7M493.6 228.1h.7M492.6 222.8h.7M498.1 200.5h.7M493.8 217.7h.7M493.5 226.5h.7M492.3 224.5h.7M490.4 220.0h.7M493.7 209.3h.7M495.2 223.6h.7M492.6 222.8h.7M487.5 226.3h.7M491.0 238.2h.7M497.4 221.6h.7M491.3 231.6h.7M493.0 225.8h.7M491.2 226.0h.7M494.8 211.8h.7M494.3 209.7h.7M493.8 225.9h.7M495.2 220.0h.7M491.5 233.8h.7M496.4 229.0h.7M492.0 229.2h.7M495.1 214.0h.7M497.9 221.2h.7M491.4 229.5h.7M493.6 216.1h.7M492.2 221.6h.7M492.8 233.1h.7M493.3 221.1h.7M492.4 223.8h.7M492.6 233.2h.7M494.2 225.9h.7M488.8 207.7h.7M490.7 222.7h.7M491.3 221.8h.7M489.2 224.8h.7M491.6 232.5h.7M490.4 223.0h.7M488.8 215.3h.7M490.6 229.7h.7M493.6 223.4h.7M489.9 234.1h.7M494.7 224.7h.7M493.9 231.2h.7M493.4 214.0h.7M488.2 219.9h.7M490.6 222.1h.7M495.5 213.8h.7M491.6 225.3h.7M490.5 218.0h.7M490.6 218.1h.7M493.6 215.0h.7M487.8 220.7h.7M495.4 206.0h.7M493.0 230.1h.7M490.1 225.5h.7M493.9 227.0h.7M486.9 233.5h.7M489.5 224.2h.7M493.3 218.7h.7M495.6 234.2h.7M489.4 217.9h.7M489.0 223.0h.7M492.3 200.9h.7M492.8 216.3h.7M490.6 221.2h.7M490.7 227.6h.7M496.1 226.4h.7M490.4 230.6h.7M488.1 216.1h.7M491.4 216.0h.7M495.7 223.4h.7M494.4 213.8h.7M492.4 217.5h.7M489.2 221.8h.7M492.2 202.3h.7M493.9 225.1h.7M495.4 214.3h.7M488.9 228.3h.7M491.4 216.5h.7M490.9 211.3h.7M496.5 226.9h.7M491.7 218.6h.7M492.3 224.5h.7M491.1 214.6h.7M484.5 213.4h.7M495.5 217.9h.7M487.2 213.5h.7M491.0 219.2h.7M488.0 211.4h.7M491.0 224.2h.7M491.4 228.3h.7M491.2 225.3h.7M496.5 208.9h.7M489.9 232.6h.7M491.6 204.3h.7M493.8 222.9h.7M491.4 221.8h.7M491.3 228.1h.7M497.9 214.5h.7M494.6 216.1h.7M490.7 231.8h.7M493.0 231.6h.7M489.9 211.2h.7M493.7 218.2h.7M488.4 213.4h.7M494.7 196.2h.7M493.3 231.6h.7M493.4 214.6h.7M492.4 221.4h.7M493.0 223.2h.7M490.0 208.6h.7M492.6 229.4h.7M494.1 214.5h.7M493.7 207.0h.7M490.2 224.0h.7M493.9 222.4h.7M489.2 215.7h.7M490.6 220.3h.7M490.8 236.9h.7M491.0 227.4h.7M492.1 220.9h.7M494.3 217.4h.7M494.5 238.3h.7M493.7 216.7h.7M490.4 202.3h.7M494.0 232.4h.7M495.1 216.1h.7M490.3 200.2h.7M489.1 207.5h.7M492.0 207.9h.7M497.9 200.0h.7M491.6 213.6h.7M491.9 215.1h.7M493.8 236.3h.7M489.4 220.0h.7M489.4 215.3h.7M492.1 219.2h.7M494.5 222.6h.7M491.7 230.2h.7M491.1 233.2h.7M487.7 202.2h.7M496.9 206.8h.7M489.2 220.6h.7M494.9 239.0h.7M490.5 216.1h.7M494.9 231.1h.7M497.1 215.5h.7M490.0 215.5h.7M494.0 218.3h.7M493.9 234.0h.7M495.8 216.3h.7M491.6 221.5h.7M495.4 224.0h.7M492.6 229.5h.7M489.9 221.4h.7M494.7 229.3h.7M494.9 237.0h.7M492.4 228.4h.7M492.1 217.3h.7M494.4 219.6h.7M496.6 223.5h.7M489.1 218.4h.7M495.4 210.3h.7M498.1 212.0h.7M490.0 215.6h.7M494.0 202.2h.7M493.2 229.1h.7M495.9 215.5h.7M487.9 213.8h.7M491.3 232.6h.7M488.5 207.5h.7M491.5 211.2h.7M496.5 230.8h.7M489.7 220.2h.7M491.3 228.3h.7M490.9 222.0h.7M493.4 220.9h.7M491.5 214.8h.7M490.5 225.5h.7M490.5 223.2h.7M492.0 223.1h.7M489.1 216.9h.7M487.3 232.4h.7M495.4 221.6h.7M492.7 226.7h.7M490.7 209.8h.7M492.0 205.2h.7M494.1 227.9h.7M490.0 214.7h.7M492.5 212.9h.7M491.1 224.4h.7M495.0 233.6h.7M486.0 218.3h.7M488.7 218.1h.7M495.8 225.2h.7M489.6 226.2h.7M490.4 221.6h.7M489.0 203.8h.7M487.1 228.3h.7M492.1 213.6h.7M493.3 214.4h.7M489.3 223.1h.7M491.0 220.4h.7M496.5 222.9h.7M489.9 218.6h.7M494.3 230.7h.7M491.6 221.1h.7M487.4 217.7h.7M490.4 228.3h.7M494.6 224.2h.7M491.9 219.3h.7M492.1 211.8h.7M493.9 225.0h.7M488.5 219.7h.7M492.3 227.0h.7M490.6 215.5h.7M490.3 207.4h.7M490.3 215.5h.7M488.4 203.1h.7M493.0 227.6h.7M497.2 222.5h.7M489.4 225.1h.7M495.3 220.9h.7M493.7 235.9h.7M491.1 234.1h.7M490.2 232.2h.7M493.9 195.4h.7M491.4 212.4h.7M491.7 222.1h.7M491.4 229.5h.7M497.8 194.9h.7M489.2 236.2h.7M493.4 224.3h.7M496.2 236.3h.7M492.9 209.9h.7M498.4 213.7h.7M492.4 211.1h.7M492.9 215.1h.7M494.6 213.6h.7M490.4 204.4h.7M492.5 233.4h.7M493.8 226.2h.7M490.5 213.2h.7M493.7 201.4h.7M494.8 232.1h.7M489.1 199.2h.7M492.1 210.4h.7M493.6 208.8h.7M490.4 213.9h.7M494.9 225.3h.7M495.2 229.1h.7M491.1 223.9h.7M493.1 209.8h.7M491.1 233.3h.7M492.2 232.3h.7M493.5 228.4h.7M492.9 210.7h.7M491.2 213.6h.7M495.8 213.4h.7M495.0 214.9h.7M491.0 227.0h.7M493.8 222.8h.7M499.6 217.0h.7M491.5 231.9h.7M496.1 220.0h.7M499.8 215.5h.7M491.9 214.8h.7M494.8 208.3h.7M486.7 218.6h.7M496.4 212.5h.7M494.2 219.7h.7M494.5 224.3h.7M493.0 225.1h.7M495.1 216.4h.7M494.6 238.9h.7M494.5 209.7h.7M491.9 227.5h.7M492.1 221.0h.7M492.6 223.4h.7M491.9 214.2h.7M490.2 213.2h.7M489.5 226.8h.7M492.2 204.2h.7M490.2 222.0h.7M491.5 206.7h.7M488.9 203.1h.7M489.1 221.4h.7M491.4 215.2h.7M492.0 239.2h.7M498.6 203.9h.7M492.3 222.1h.7M495.2 221.7h.7M493.8 222.3h.7M493.3 216.2h.7M491.7 205.2h.7M494.0 227.7h.7M493.7 227.8h.7M489.1 224.4h.7M494.2 223.3h.7M492.1 232.1h.7M489.0 230.0h.7M490.7 227.3h.7M494.5 214.7h.7M494.6 230.3h.7M492.2 212.4h.7M495.5 224.4h.7M494.8 211.1h.7M488.5 219.1h.7M490.0 228.2h.7M493.4 217.7h.7M490.5 229.7h.7M490.8 216.1h.7M493.1 236.6h.7M491.7 219.2h.7M489.3 227.5h.7M497.8 220.3h.7M488.6 210.0h.7M491.3 216.7h.7M494.5 239.5h.7M492.2 208.8h.7M489.8 205.8h.7M489.7 223.5h.7M494.9 232.7h.7M494.6 217.1h.7M487.0 212.5h.7M488.8 218.6h.7M494.2 218.6h.7M496.0 231.4h.7M491.4 238.6h.7M495.0 219.3h.7M488.0 212.8h.7M487.8 209.3h.7M488.9 204.1h.7M493.8 220.0h.7M493.1 205.8h.7M494.1 227.5h.7M487.8 218.4h.7M497.2 213.9h.7M491.6 234.4h.7M500.0 204.1h.7M493.0 229.3h.7M487.9 221.7h.7M492.4 223.1h.7M490.3 220.5h.7M496.9 209.8h.7M493.0 226.4h.7M495.2 232.0h.7M490.2 201.3h.7M490.5 221.6h.7M492.9 219.5h.7M492.7 217.8h.7M490.2 224.5h.7M493.9 218.7h.7M495.7 216.7h.7M491.7 232.0h.7M491.0 211.3h.7M491.1 216.7h.7M493.9 216.5h.7M492.1 212.9h.7M493.7 215.5h.7M494.8 233.9h.7M491.6 212.5h.7M491.6 205.4h.7M496.7 197.3h.7M492.1 213.8h.7M492.6 208.3h.7M491.8 232.4h.7M494.6 224.8h.7M493.6 210.2h.7M489.3 218.5h.7M495.0 217.4h.7M495.5 221.8h.7M493.8 223.0h.7M492.3 225.5h.7M489.9 222.6h.7M495.0 220.4h.7M496.0 212.2h.7M490.2 221.3h.7M492.3 222.4h.7M493.8 207.6h.7M492.1 221.2h.7M493.5 208.4h.7M491.3 204.3h.7M490.7 219.7h.7M495.4 225.4h.7M488.6 229.3h.7M494.2 215.0h.7M490.2 206.3h.7M492.5 211.8h.7M490.6 217.9h.7M492.8 219.3h.7M490.9 224.8h.7M493.1 218.6h.7M489.2 230.5h.7M489.4 214.2h.7M492.1 224.8h.7M493.9 226.5h.7M490.3 224.1h.7M497.1 225.5h.7M491.3 209.9h.7M494.2 228.8h.7M487.3 215.5h.7M489.7 218.6h.7M489.5 210.7h.7M489.5 223.9h.7M488.0 216.2h.7M491.1 213.8h.7M490.4 227.0h.7M497.0 213.1h.7M492.2 223.9h.7M493.1 222.2h.7M487.3 225.5h.7M496.2 220.9h.7M496.8 208.8h.7M489.6 221.9h.7M489.7 224.0h.7M490.9 238.4h.7M495.1 238.3h.7M489.3 228.9h.7M490.1 229.9h.7M487.8 195.9h.7M493.2 215.4h.7M494.8 210.1h.7M490.1 226.3h.7M495.1 225.7h.7M492.8 225.8h.7M490.4 226.2h.7M493.8 224.0h.7M495.7 219.5h.7M496.0 215.0h.7M493.6 227.4h.7M495.8 220.6h.7M492.4 230.8h.7M493.3 216.3h.7M497.2 218.0h.7M492.1 213.1h.7M490.5 226.9h.7M488.9 212.7h.7M490.9 197.9h.7M487.1 212.8h.7M489.7 213.9h.7M489.4 220.5h.7M491.9 217.2h.7M489.5 232.8h.7M492.1 223.7h.7M492.4 229.9h.7M494.1 234.0h.7M494.7 230.7h.7M496.0 229.5h.7M491.7 216.1h.7M489.0 224.9h.7M494.5 219.7h.7M493.4 228.1h.7M491.2 215.1h.7M494.4 227.1h.7M497.9 215.9h.7M493.3 227.9h.7M491.5 232.5h.7M492.9 232.5h.7M489.9 216.9h.7M496.6 233.5h.7M489.0 204.3h.7M489.9 222.4h.7M495.4 207.2h.7M492.0 221.0h.7M488.9 209.4h.7M494.9 220.4h.7M495.7 214.0h.7M489.0 233.0h.7M494.7 229.1h.7M496.6 230.7h.7M493.6 225.4h.7M494.4 220.1h.7M492.8 218.8h.7M494.5 209.7h.7M497.4 213.4h.7M494.1 228.6h.7M490.8 217.0h.7M492.3 224.6h.7M498.1 212.4h.7M491.2 234.0h.7M490.7 220.1h.7M495.0 239.0h.7M490.4 225.9h.7M491.5 231.5h.7M492.3 219.5h.7M494.0 216.7h.7M493.7 234.7h.7M489.8 228.2h.7M489.9 229.0h.7M489.3 230.7h.7M495.4 222.4h.7M491.8 216.7h.7M492.9 224.8h.7M492.5 204.3h.7M488.7 222.0h.7M488.9 231.9h.7M489.5 219.0h.7M496.2 239.0h.7M491.4 217.8h.7M493.9 211.2h.7M490.1 226.7h.7M499.3 219.5h.7M492.7 227.0h.7M488.1 215.0h.7M491.3 226.4h.7M493.3 222.2h.7M494.9 223.6h.7M491.7 230.2h.7M494.3 213.8h.7M493.2 219.5h.7M492.9 231.7h.7M491.6 232.8h.7M493.3 228.0h.7M495.6 210.5h.7M492.4 223.1h.7M491.5 217.3h.7M499.9 218.1h.7M494.4 206.4h.7M494.3 201.2h.7M489.2 230.5h.7M494.9 228.8h.7M487.9 207.3h.7M495.7 217.7h.7M493.3 221.6h.7M491.1 215.5h.7M490.8 225.8h.7M492.9 217.3h.7M491.3 207.8h.7M487.8 217.0h.7M495.0 225.3h.7M488.1 212.3h.7M492.0 228.2h.7M491.4 231.0h.7M496.1 226.8h.7M488.8 226.3h.7M495.0 220.1h.7M493.5 226.2h.7M484.3 214.0h.7M488.4 198.7h.7M490.5 214.3h.7M490.3 234.8h.7M492.9 230.8h.7M494.0 210.8h.7M495.2 218.8h.7M490.4 214.0h.7M493.9 209.6h.7M491.8 217.7h.7M493.6 228.4h.7M492.3 221.4h.7M492.4 218.5h.7M491.5 200.2h.7M492.7 209.8h.7M489.9 221.0h.7M487.6 228.5h.7M494.9 222.5h.7M494.2 228.7h.7M492.2 198.7h.7M495.7 212.4h.7M492.3 214.3h.7M492.1 207.9h.7M491.2 205.7h.7M495.3 229.0h.7M497.6 208.6h.7M492.0 231.1h.7M491.0 229.2h.7M495.3 217.4h.7M495.0 207.5h.7M494.2 215.1h.7M488.4 213.9h.7M493.3 214.4h.7M493.0 213.3h.7M491.7 221.1h.7M493.7 217.9h.7M492.1 220.1h.7M493.5 220.4h.7M492.4 232.2h.7M491.9 239.7h.7M496.8 220.8h.7M492.4 219.9h.7M494.1 219.1h.7M494.6 229.8h.7M490.3 227.3h.7M492.0 221.7h.7M490.2 219.3h.7M492.1 226.1h.7M489.9 230.6h.7M494.8 216.6h.7M492.5 224.7h.7M489.0 203.5h.7M493.8 214.4h.7M490.1 225.2h.7M488.4 205.7h.7M493.7 206.4h.7M492.6 223.1h.7M490.4 202.0h.7M494.4 217.6h.7M492.9 224.0h.7M494.4 237.3h.7M493.1 235.5h.7M496.0 213.5h.7M493.4 218.8h.7M493.3 224.2h.7M486.3 231.1h.7M491.8 234.3h.7M496.8 228.1h.7M491.1 223.9h.7M492.1 210.7h.7M491.5 230.7h.7M487.5 215.2h.7M493.8 230.1h.7M496.4 233.4h.7M497.2 207.0h.7M492.0 239.9h.7M490.2 218.9h.7M491.3 231.0h.7M493.6 229.7h.7M491.7 238.4h.7M494.1 232.0h.7M493.0 236.3h.7M489.7 228.8h.7M489.3 213.3h.7M494.7 219.0h.7M494.4 227.4h.7M492.5 229.9h.7M496.2 222.2h.7M492.3 214.0h.7M491.7 208.9h.7M492.4 221.7h.7M486.5 219.7h.7M492.9 216.2h.7M492.8 226.6h.7M490.5 227.8h.7M490.3 222.1h.7M496.0 201.8h.7M491.2 214.4h.7M491.7 214.9h.7M494.6 226.8h.7M489.1 214.9h.7M499.0 218.6h.7M490.4 210.3h.7M490.7 215.6h.7M491.1 228.7h.7M490.2 224.9h.7M491.2 212.9h.7M489.4 209.3h.7M487.2 230.6h.7M495.5 220.8h.7M494.2 226.5h.7M494.1 223.7h.7M493.8 222.1h.7M494.1 197.3h.7M490.9 229.5h.7M498.0 237.6h.7M491.0 221.6h.7M489.3 219.3h.7M497.5 223.0h.7M491.4 218.5h.7M492.6 203.5h.7M489.8 217.5h.7M491.8 220.8h.7M493.5 231.0h.7M493.4 211.6h.7M489.2 218.0h.7M494.4 221.1h.7M490.6 225.4h.7M489.5 239.4h.7M494.5 227.0h.7M493.2 227.2h.7M491.8 209.6h.7M490.9 236.2h.7M494.6 204.6h.7M491.9 233.8h.7M490.9 229.3h.7M493.8 222.0h.7M493.2 211.0h.7M489.6 226.1h.7M495.8 216.5h.7M489.0 233.9h.7M490.2 193.2h.7M493.3 221.8h.7M492.2 196.1h.7M494.4 221.7h.7M494.0 218.1h.7M487.1 229.0h.7M496.2 210.1h.7M491.0 211.6h.7M492.4 200.4h.7M490.4 216.7h.7M489.8 222.6h.7M494.1 218.6h.7M493.8 211.7h.7M493.1 218.8h.7M490.9 226.3h.7M496.3 223.8h.7M493.5 202.2h.7M494.1 216.1h.7M492.7 212.4h.7M493.3 194.4h.7M495.2 226.6h.7M496.2 230.7h.7M496.4 196.1h.7M492.8 218.8h.7M492.9 217.7h.7M488.2 216.9h.7M491.7 226.1h.7M490.4 236.9h.7M489.4 214.0h.7M492.4 214.6h.7M492.7 223.0h.7M489.8 224.1h.7M486.3 214.6h.7M491.5 225.3h.7M492.4 230.6h.7M493.5 210.3h.7M489.2 229.5h.7M487.7 207.6h.7M485.7 229.7h.7M492.3 206.3h.7M490.2 206.7h.7M494.5 201.1h.7M487.2 212.4h.7M497.1 215.3h.7M491.7 214.2h.7M491.6 211.7h.7M492.9 213.0h.7M494.9 210.3h.7M495.2 211.5h.7M485.7 217.1h.7M490.3 209.5h.7M493.9 217.2h.7M494.4 203.9h.7M493.1 201.2h.7M489.1 223.8h.7M493.8 207.0h.7M491.7 216.5h.7M492.3 204.7h.7M496.7 199.4h.7M492.0 200.8h.7M494.0 205.9h.7M497.6 229.3h.7M495.9 207.7h.7M487.8 217.9h.7M488.5 211.2h.7M485.1 216.5h.7M496.1 202.3h.7M491.7 227.0h.7M490.4 217.5h.7M492.0 210.4h.7M488.1 224.0h.7M494.4 198.8h.7M489.1 207.6h.7M495.6 219.1h.7M493.3 232.3h.7M492.1 209.9h.7M494.3 234.9h.7M491.4 228.1h.7M492.2 205.8h.7M496.7 221.0h.7M498.4 227.6h.7M494.3 205.0h.7M497.4 231.5h.7M486.7 198.8h.7M492.8 230.4h.7M492.3 227.9h.7M490.7 233.5h.7M494.3 224.7h.7M499.3 218.6h.7M494.2 198.5h.7M496.4 234.7h.7M497.4 222.7h.7M497.2 224.8h.7M492.7 209.5h.7M490.2 191.6h.7M496.5 221.0h.7M495.6 206.1h.7M490.8 215.4h.7M498.2 221.8h.7M489.5 201.7h.7M488.1 220.6h.7M492.2 207.5h.7M487.8 209.5h.7M491.9 223.9h.7M492.2 199.8h.7M490.4 209.5h.7M492.7 213.0h.7M488.0 226.6h.7M484.4 214.7h.7M495.4 222.9h.7M495.8 203.7h.7M495.5 199.4h.7M491.0 213.9h.7M494.1 232.5h.7M491.3 221.2h.7M496.7 210.9h.7M488.3 208.8h.7M493.5 230.1h.7M490.8 222.4h.7M495.0 200.1h.7M492.7 194.3h.7M486.1 236.5h.7M491.3 217.3h.7M489.0 215.8h.7M494.1 219.5h.7M495.5 214.7h.7M488.2 214.0h.7M494.0 214.9h.7M488.9 194.0h.7M490.7 212.0h.7M493.0 210.5h.7M496.8 227.2h.7M494.1 226.2h.7M494.8 211.5h.7M490.7 214.2h.7M492.0 216.5h.7M494.7 236.9h.7M493.0 227.2h.7M493.0 208.3h.7M493.9 231.3h.7M498.4 205.5h.7M497.3 227.8h.7M497.5 216.7h.7M493.9 202.9h.7M489.8 210.9h.7M488.3 213.6h.7M493.0 227.2h.7M489.0 229.8h.7M485.6 196.7h.7M491.4 210.3h.7M492.6 221.1h.7M493.0 221.2h.7M492.3 222.7h.7M493.1 223.9h.7M487.8 229.7h.7M493.5 211.4h.7M495.4 191.4h.7M493.5 220.9h.7M493.6 208.7h.7M492.7 197.6h.7M495.1 216.1h.7M488.5 207.5h.7M485.5 214.9h.7M490.8 193.3h.7M492.5 221.2h.7M494.7 214.9h.7M489.9 217.6h.7M493.1 207.6h.7M492.4 206.8h.7M495.1 225.8h.7M490.9 222.4h.7M494.8 212.7h.7M495.2 202.5h.7M491.6 221.0h.7M492.0 210.1h.7M490.9 224.6h.7M490.0 207.9h.7M490.3 217.4h.7M488.7 219.3h.7M495.1 209.5h.7M494.0 221.3h.7M492.1 200.7h.7M492.9 229.6h.7M492.6 210.9h.7M497.8 210.9h.7M495.6 213.5h.7M491.3 211.6h.7M494.9 207.9h.7M486.7 217.5h.7M490.8 208.7h.7M489.8 212.2h.7M493.6 217.2h.7M490.6 213.2h.7M489.7 206.8h.7M489.9 224.0h.7M487.4 236.4h.7M487.8 209.0h.7M489.0 224.8h.7M493.8 207.8h.7M493.4 212.5h.7M495.1 203.8h.7M498.3 209.2h.7M495.7 207.3h.7M486.0 214.3h.7M490.2 211.9h.7M497.8 238.8h.7M493.0 206.1h.7M493.8 222.1h.7M493.2 224.4h.7M487.6 196.6h.7M493.9 197.2h.7M491.9 224.8h.7M488.9 203.0h.7M493.7 212.2h.7M498.5 187.2h.7M491.8 204.0h.7M487.9 212.9h.7M492.0 227.7h.7M489.2 237.5h.7M483.9 209.0h.7M490.7 231.3h.7M493.7 215.7h.7M489.0 213.3h.7M492.0 213.4h.7M491.9 213.3h.7M490.8 199.5h.7M491.0 215.0h.7M491.2 203.7h.7M491.4 219.5h.7M494.1 201.9h.7M490.6 233.6h.7M489.4 203.8h.7M494.1 212.3h.7M490.0 226.9h.7M499.8 221.4h.7M491.5 228.7h.7M499.3 230.4h.7M493.2 212.9h.7M493.4 210.3h.7M495.5 222.7h.7M493.8 221.4h.7M491.9 234.3h.7M491.1 193.0h.7M489.1 226.9h.7M489.0 221.3h.7M495.3 212.8h.7M483.9 207.3h.7M498.3 207.5h.7M495.6 207.6h.7M491.2 233.3h.7M498.4 216.3h.7M498.9 213.1h.7M496.2 216.6h.7M483.8 222.1h.7M485.3 224.1h.7M494.6 215.9h.7M488.1 213.9h.7M493.7 207.7h.7M490.8 215.6h.7M493.6 214.6h.7M491.1 209.4h.7M492.2 212.7h.7M486.3 229.5h.7M492.1 224.6h.7M489.1 219.1h.7M495.9 228.9h.7M489.8 217.4h.7M493.8 228.5h.7M494.2 216.0h.7M491.6 231.7h.7M489.2 221.9h.7M492.6 212.8h.7M491.7 203.4h.7M494.9 217.6h.7M488.9 217.7h.7M488.0 204.4h.7M494.6 213.8h.7M493.0 209.7h.7M496.3 219.1h.7M471.7 203.9h.7M485.3 211.3h.7M466.0 230.0h.7M476.1 217.3h.7M485.2 215.1h.7M470.1 217.0h.7M481.4 214.1h.7M477.6 212.8h.7M483.3 220.8h.7M480.9 214.9h.7M481.2 232.1h.7M461.1 202.9h.7M476.3 223.9h.7M476.0 215.3h.7M468.2 231.9h.7M478.6 213.4h.7M484.3 223.7h.7M480.6 231.5h.7M477.5 224.1h.7M481.3 215.8h.7M474.7 218.9h.7M474.4 221.6h.7M482.8 230.4h.7M480.6 221.2h.7M471.1 224.5h.7M485.2 212.5h.7M476.6 220.7h.7M471.7 228.9h.7M481.4 218.3h.7M477.4 216.8h.7M483.3 217.6h.7M468.2 228.3h.7M478.1 223.8h.7M473.3 223.0h.7M480.4 215.2h.7M476.6 208.0h.7M472.8 227.6h.7M484.2 217.2h.7M471.8 226.1h.7M485.7 223.8h.7M483.4 216.1h.7M483.1 212.6h.7M470.1 226.6h.7M477.7 205.4h.7M482.9 204.0h.7M477.7 231.1h.7M482.2 214.4h.7M481.9 221.4h.7M471.0 227.6h.7M477.7 234.7h.7M465.4 213.1h.7M485.9 218.9h.7M480.4 226.5h.7M468.0 220.1h.7M477.7 214.6h.7M474.8 226.7h.7M458.0 208.3h.7M474.4 227.0h.7M462.0 219.8h.7M485.4 220.1h.7M485.7 215.3h.7M477.5 218.4h.7M478.5 227.4h.7M454.8 221.8h.7M482.1 227.9h.7M480.8 224.2h.7M475.9 217.4h.7M477.0 218.2h.7M484.4 220.4h.7M482.0 217.0h.7M483.6 229.8h.7M482.3 212.1h.7M466.7 232.0h.7M482.5 215.2h.7M484.1 213.9h.7M480.5 219.9h.7M478.9 211.1h.7M466.8 231.6h.7M481.2 231.5h.7M484.3 230.0h.7M471.7 232.4h.7M481.5 228.8h.7M474.0 207.4h.7M480.2 224.7h.7M480.7 215.1h.7M473.8 226.1h.7M484.1 218.1h.7M464.0 217.0h.7M466.6 213.7h.7M485.4 224.1h.7M480.8 227.7h.7M473.9 212.5h.7M474.1 222.7h.7M481.1 223.2h.7M483.5 219.3h.7M465.3 218.7h.7M477.0 228.3h.7M478.8 229.3h.7M481.9 225.2h.7M483.2 225.0h.7M460.8 225.4h.7M481.8 216.1h.7M480.0 219.6h.7M481.5 220.4h.7M480.2 213.7h.7M483.4 225.6h.7M467.3 233.2h.7M466.8 234.3h.7M484.8 218.6h.7M485.9 216.8h.7M471.2 214.5h.7M484.2 224.9h.7M480.8 219.6h.7M484.7 228.2h.7M464.5 212.5h.7M481.6 221.2h.7M475.5 215.9h.7M479.9 221.9h.7M482.2 218.6h.7M471.3 207.3h.7M466.2 221.9h.7M486.6 237.1h.7M449.4 211.3h.7M456.3 226.0h.7M482.9 205.1h.7M463.6 204.3h.7M473.0 216.3h.7M493.1 228.6h.7" stroke="#3c3c3c" stroke-opacity="0.43" stroke-width="0.8" fill="none"/>
<rect class="bx" x="440.0" y="178.7" width="61.5" height="62.3"/>
<path class="ql" d="M485.8 178.7V241.0M440.0 220.7H501.5"/>
<path d="M440.0 241.0v1.5M440.0 241.0h-1.5M444.6 241.0v.9M440.0 236.3h-.9M447.3 241.0v.9M440.0 233.6h-.9M450.7 241.0v.9M440.0 230.1h-.9M453.0 241.0v.9M440.0 227.8h-.9M455.4 241.0v1.5M440.0 225.4h-1.5M460.0 241.0v.9M440.0 220.7h-.9M462.7 241.0v.9M440.0 218.0h-.9M466.1 241.0v.9M440.0 214.5h-.9M468.4 241.0v.9M440.0 212.3h-.9M470.8 241.0v1.5M440.0 209.8h-1.5M475.4 241.0v.9M440.0 205.2h-.9M478.1 241.0v.9M440.0 202.4h-.9M481.5 241.0v.9M440.0 199.0h-.9M483.7 241.0v.9M440.0 196.7h-.9M486.1 241.0v1.5M440.0 194.3h-1.5M490.8 241.0v.9M440.0 189.6h-.9M493.5 241.0v.9M440.0 186.8h-.9M496.9 241.0v.9M440.0 183.4h-.9M499.1 241.0v.9M440.0 181.1h-.9M501.5 241.0v1.5M440.0 178.7h-1.5" stroke="#555" stroke-width=".5" fill="none"/>
<text x="467.4" y="166.2" font-size="9.1" text-anchor="middle" class="t">CM-4T1PE</text>
<text x="470.8" y="175.9" font-size="5.3" text-anchor="middle" class="t" fill-opacity=".85">081409-B-72.007</text>
<text x="436.2" y="249.6" font-size="6.4" text-anchor="start" class="t">10<tspan dy="-2.7" font-size="4.2">0</tspan></text>
<text transform="translate(436.8 244.3) rotate(-90)" font-size="6.4" text-anchor="start" class="t">10<tspan dy="-2.7" font-size="4.2">0</tspan></text>
<text x="451.6" y="249.6" font-size="6.4" text-anchor="start" class="t">10<tspan dy="-2.7" font-size="4.2">1</tspan></text>
<text transform="translate(436.8 228.7) rotate(-90)" font-size="6.4" text-anchor="start" class="t">10<tspan dy="-2.7" font-size="4.2">1</tspan></text>
<text x="466.9" y="249.6" font-size="6.4" text-anchor="start" class="t">10<tspan dy="-2.7" font-size="4.2">2</tspan></text>
<text transform="translate(436.8 213.4) rotate(-90)" font-size="6.4" text-anchor="start" class="t">10<tspan dy="-2.7" font-size="4.2">2</tspan></text>
<text x="482.3" y="249.6" font-size="6.4" text-anchor="start" class="t">10<tspan dy="-2.7" font-size="4.2">3</tspan></text>
<text transform="translate(436.8 198.7) rotate(-90)" font-size="6.4" text-anchor="start" class="t">10<tspan dy="-2.7" font-size="4.2">3</tspan></text>
<text x="497.7" y="249.6" font-size="6.4" text-anchor="start" class="t">10<tspan dy="-2.7" font-size="4.2">4</tspan></text>
<text transform="translate(436.8 184.1) rotate(-90)" font-size="6.4" text-anchor="start" class="t">10<tspan dy="-2.7" font-size="4.2">4</tspan></text>
<text transform="translate(427.7 210.2) rotate(-90)" font-size="6.4" text-anchor="middle" class="t">CD25-APC</text>
<text x="470.2" y="257.4" font-size="6.8" text-anchor="middle" class="t">CFSE</text>
<text x="443.0" y="189.7" font-size="9.4" text-anchor="start" class="t" fill="#000">1</text>
<text x="488.6" y="189.7" font-size="9.4" text-anchor="start" class="t" fill="#000">55</text>
<path class="ar" d="M240.6 203.5V178.4M239 181.3L240.6 178L242.2 181.3M240.6 233.5V261.5H355.5M391.5 262.3H502.3M499.2 260.8L502.6 262.3L499.2 263.8"/>
<text transform="translate(242.5 230.2) rotate(-90)" font-size="8.7" text-anchor="start" class="t">CD25</text>
<text x="362.0" y="265.4" font-size="8.8" text-anchor="start" class="t">CFSE</text>
<path d="M.5 0V517M0 .5H520" stroke="#5a5a5a" stroke-width="1.2" fill="none"/>
<path d="M519.3 0V517M0 516.2H520" stroke="#5a5a5a" stroke-width="1.6" fill="none"/>
</svg></body></html>
